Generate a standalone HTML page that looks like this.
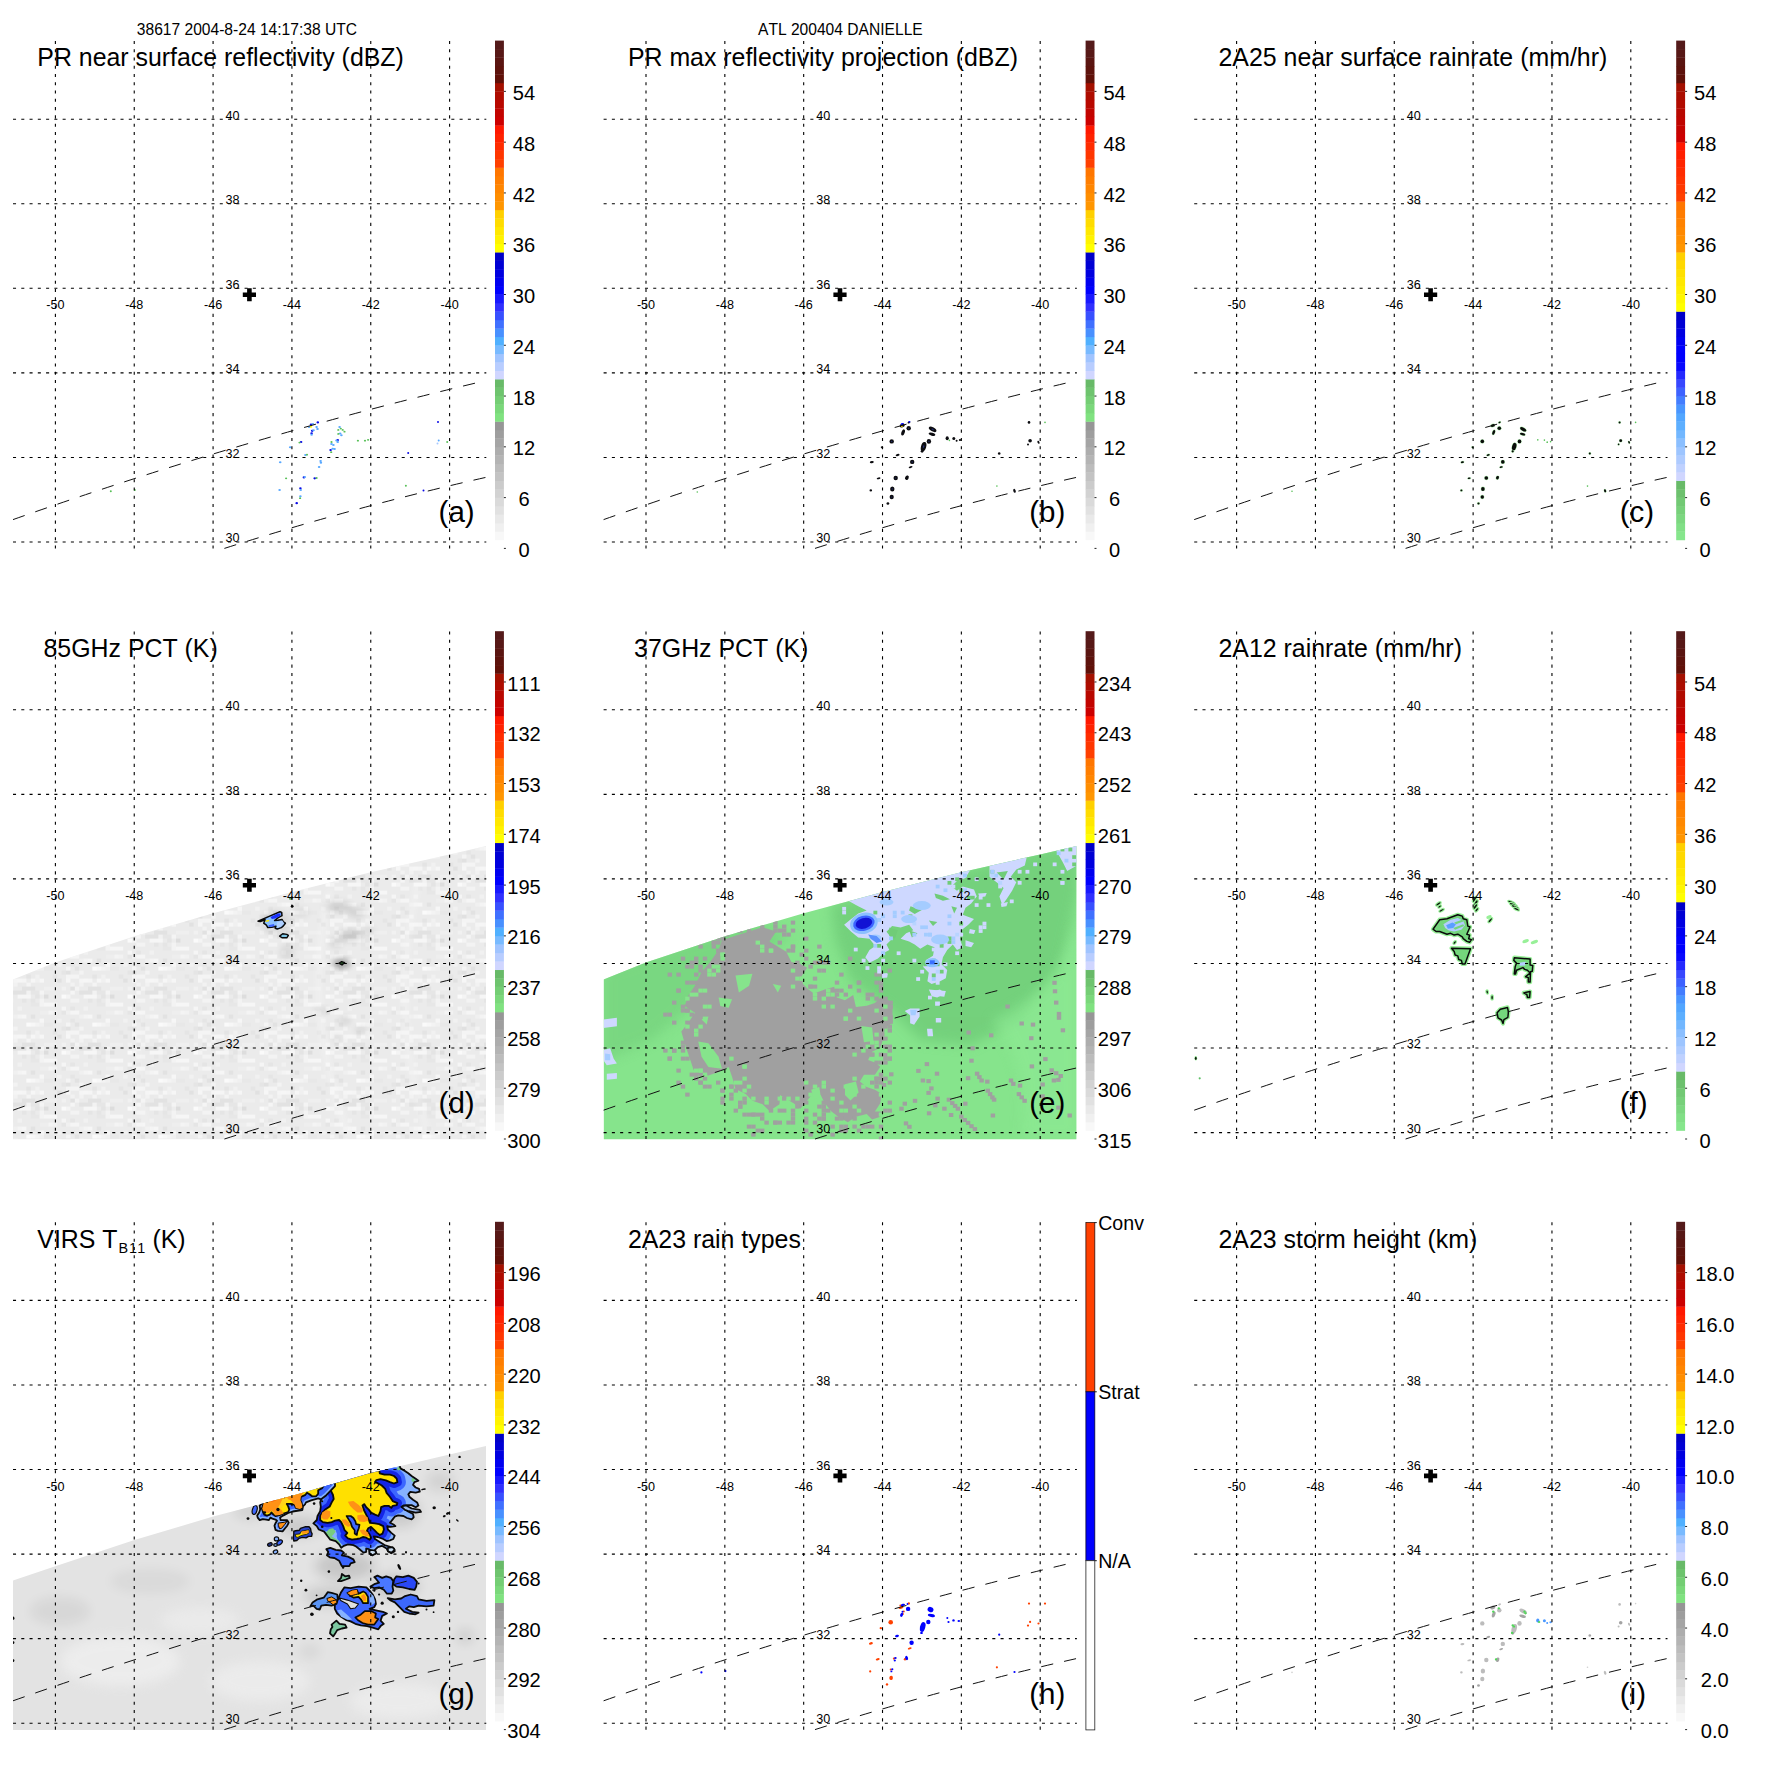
<!DOCTYPE html>
<html><head><meta charset="utf-8"><title>ATL 200404 DANIELLE</title>
<style>
html,body{margin:0;padding:0;background:#fff}
svg{display:block}
text{font-family:"Liberation Sans",sans-serif;fill:#000;font-kerning:none}
.tt{font-size:24.9px}
.st{font-size:15.6px}
.cb{font-size:20.1px}
.cb2{font-size:19.6px}
.gl{font-size:12.6px}
.lt{font-size:29.5px}
.gr{stroke:#000;stroke-width:1.1;stroke-dasharray:3.05 5.22;fill:none}
.sw{stroke:#111;stroke-width:1;stroke-dasharray:12.3 11.18;fill:none}
</style></head><body>
<svg width="1771" height="1771" viewBox="0 0 1771 1771">
<rect width="1771" height="1771" fill="#fff"/>
<g transform="translate(0.00 0.00)"><ellipse cx="311.0" cy="424.6" rx="1.3" ry="1.1" fill="#0a0ae6"/><ellipse cx="317.8" cy="422.4" rx="1.3" ry="1.1" fill="#0a0ae6"/><ellipse cx="312.2" cy="430.8" rx="1.3" ry="1.1" fill="#0a0ae6"/><ellipse cx="311.6" cy="433.3" rx="1.3" ry="1.1" fill="#0a0ae6"/><ellipse cx="301.1" cy="442.0" rx="1.3" ry="1.1" fill="#0a0ae6"/><ellipse cx="337.7" cy="440.1" rx="1.3" ry="1.1" fill="#0a0ae6"/><ellipse cx="330.6" cy="450.1" rx="1.3" ry="1.1" fill="#0a0ae6"/><ellipse cx="303.9" cy="477.4" rx="1.3" ry="1.1" fill="#0a0ae6"/><ellipse cx="314.7" cy="478.3" rx="1.3" ry="1.1" fill="#0a0ae6"/><ellipse cx="300.4" cy="488.3" rx="1.3" ry="1.1" fill="#0a0ae6"/><ellipse cx="296.7" cy="503.2" rx="1.3" ry="1.1" fill="#0a0ae6"/><ellipse cx="312.9" cy="424.0" rx="1.3" ry="1.0" fill="#58a8ff"/><ellipse cx="309.1" cy="427.1" rx="1.3" ry="1.0" fill="#58a8ff"/><ellipse cx="316.6" cy="427.1" rx="1.3" ry="1.0" fill="#58a8ff"/><ellipse cx="317.5" cy="428.9" rx="1.3" ry="1.0" fill="#58a8ff"/><ellipse cx="311.6" cy="434.8" rx="1.3" ry="1.0" fill="#58a8ff"/><ellipse cx="313.5" cy="430.2" rx="1.3" ry="1.0" fill="#58a8ff"/><ellipse cx="339.6" cy="427.1" rx="1.3" ry="1.0" fill="#58a8ff"/><ellipse cx="340.2" cy="433.6" rx="1.3" ry="1.0" fill="#58a8ff"/><ellipse cx="341.4" cy="435.2" rx="1.3" ry="1.0" fill="#58a8ff"/><ellipse cx="336.5" cy="440.4" rx="1.3" ry="1.0" fill="#58a8ff"/><ellipse cx="337.7" cy="442.0" rx="1.3" ry="1.0" fill="#58a8ff"/><ellipse cx="331.5" cy="443.9" rx="1.3" ry="1.0" fill="#58a8ff"/><ellipse cx="333.4" cy="445.1" rx="1.3" ry="1.0" fill="#58a8ff"/><ellipse cx="334.6" cy="449.1" rx="1.3" ry="1.0" fill="#58a8ff"/><ellipse cx="332.7" cy="448.8" rx="1.3" ry="1.0" fill="#58a8ff"/><ellipse cx="305.4" cy="455.0" rx="1.3" ry="1.0" fill="#58a8ff"/><ellipse cx="280.2" cy="462.2" rx="1.3" ry="1.0" fill="#58a8ff"/><ellipse cx="320.6" cy="460.9" rx="1.3" ry="1.0" fill="#58a8ff"/><ellipse cx="320.9" cy="462.8" rx="1.3" ry="1.0" fill="#58a8ff"/><ellipse cx="319.1" cy="467.1" rx="1.3" ry="1.0" fill="#58a8ff"/><ellipse cx="304.8" cy="477.1" rx="1.3" ry="1.0" fill="#58a8ff"/><ellipse cx="300.7" cy="490.1" rx="1.3" ry="1.0" fill="#58a8ff"/><ellipse cx="300.4" cy="496.3" rx="1.3" ry="1.0" fill="#58a8ff"/><ellipse cx="279.6" cy="490.1" rx="1.3" ry="1.0" fill="#58a8ff"/><ellipse cx="290.2" cy="447.3" rx="1.3" ry="1.0" fill="#58a8ff"/><ellipse cx="338.3" cy="429.9" rx="1.1" ry="0.9" fill="#58c058"/><ellipse cx="340.8" cy="428.6" rx="1.1" ry="0.9" fill="#58c058"/><ellipse cx="342.7" cy="429.9" rx="1.1" ry="0.9" fill="#58c058"/><ellipse cx="344.5" cy="431.7" rx="1.1" ry="0.9" fill="#58c058"/><ellipse cx="338.3" cy="433.9" rx="1.1" ry="0.9" fill="#58c058"/><ellipse cx="331.5" cy="442.0" rx="1.1" ry="0.9" fill="#58c058"/><ellipse cx="331.2" cy="452.2" rx="1.1" ry="0.9" fill="#58c058"/><ellipse cx="357.9" cy="440.7" rx="1.1" ry="0.9" fill="#58c058"/><ellipse cx="365.0" cy="440.7" rx="1.1" ry="0.9" fill="#58c058"/><ellipse cx="368.1" cy="439.8" rx="1.1" ry="0.9" fill="#58c058"/><ellipse cx="307.0" cy="454.7" rx="1.1" ry="0.9" fill="#58c058"/><ellipse cx="299.5" cy="442.6" rx="1.1" ry="0.9" fill="#58c058"/><ellipse cx="286.1" cy="478.3" rx="1.1" ry="0.9" fill="#58c058"/><ellipse cx="316.6" cy="478.0" rx="1.1" ry="0.9" fill="#58c058"/><ellipse cx="300.1" cy="498.2" rx="1.1" ry="0.9" fill="#58c058"/><ellipse cx="311.0" cy="426.8" rx="1.2" ry="0.9" fill="#ffff00"/><ellipse cx="438.0" cy="422.1" rx="1.0" ry="1.0" fill="#0a0ae6"/><ellipse cx="438.7" cy="440.4" rx="1.0" ry="1.0" fill="#58a8ff"/><ellipse cx="447.2" cy="442.1" rx="1.0" ry="1.0" fill="#58c058"/><ellipse cx="408.2" cy="453.0" rx="1.0" ry="1.0" fill="#0a0ae6"/><ellipse cx="405.9" cy="485.8" rx="1.0" ry="1.0" fill="#58c058"/><ellipse cx="423.5" cy="490.6" rx="1.0" ry="1.0" fill="#0a0ae6"/><ellipse cx="110.8" cy="491.2" rx="1.0" ry="1.0" fill="#58c058"/><ellipse cx="134.8" cy="489.9" rx="1.0" ry="1.0" fill="#58c058"/><ellipse cx="437.5" cy="443.5" rx="1.0" ry="1.0" fill="#a8c8ff"/></g>
<g transform="translate(0.00 0.00)"><path d="M55.40 40.93V548.90M134.24 40.93V548.90M213.08 40.93V548.90M291.92 40.93V548.90M370.76 40.93V548.90M449.60 40.93V548.90M13.00 542.00H486.30M13.00 457.44H486.30M13.00 372.88H486.30M13.00 288.32H486.30M13.00 203.76H486.30M13.00 119.20H486.30" class="gr"/><text x="55.40" y="309.4" text-anchor="middle" class="gl">-50</text><text x="134.24" y="309.4" text-anchor="middle" class="gl">-48</text><text x="213.08" y="309.4" text-anchor="middle" class="gl">-46</text><text x="291.92" y="309.4" text-anchor="middle" class="gl">-44</text><text x="370.76" y="309.4" text-anchor="middle" class="gl">-42</text><text x="449.60" y="309.4" text-anchor="middle" class="gl">-40</text><text x="232.6" y="542.30" text-anchor="middle" class="gl">30</text><text x="232.6" y="457.74" text-anchor="middle" class="gl">32</text><text x="232.6" y="373.18" text-anchor="middle" class="gl">34</text><text x="232.6" y="288.62" text-anchor="middle" class="gl">36</text><text x="232.6" y="204.06" text-anchor="middle" class="gl">38</text><text x="232.6" y="119.50" text-anchor="middle" class="gl">40</text></g>
<g transform="translate(0.00 0.00)"><rect x="495" y="531.47" width="8.9" height="8.76" fill="#f8f8f8"/><rect x="495" y="523.01" width="8.9" height="8.76" fill="#f0f0f0"/><rect x="495" y="514.55" width="8.9" height="8.76" fill="#e9e9e9"/><rect x="495" y="506.08" width="8.9" height="8.76" fill="#e1e1e1"/><rect x="495" y="497.62" width="8.9" height="8.76" fill="#dadada"/><rect x="495" y="489.16" width="8.9" height="8.76" fill="#d2d2d2"/><rect x="495" y="480.69" width="8.9" height="8.76" fill="#cbcbcb"/><rect x="495" y="472.23" width="8.9" height="8.76" fill="#c3c3c3"/><rect x="495" y="463.77" width="8.9" height="8.76" fill="#bcbcbc"/><rect x="495" y="455.30" width="8.9" height="8.76" fill="#b4b4b4"/><rect x="495" y="446.84" width="8.9" height="8.76" fill="#adadad"/><rect x="495" y="438.38" width="8.9" height="8.76" fill="#a5a5a5"/><rect x="495" y="429.91" width="8.9" height="8.76" fill="#9e9e9e"/><rect x="495" y="421.45" width="8.9" height="8.76" fill="#969696"/><rect x="495" y="412.99" width="8.9" height="8.76" fill="#80e280"/><rect x="495" y="404.52" width="8.9" height="8.76" fill="#7ad87a"/><rect x="495" y="396.06" width="8.9" height="8.76" fill="#74ce74"/><rect x="495" y="387.60" width="8.9" height="8.76" fill="#6ec46e"/><rect x="495" y="379.13" width="8.9" height="8.76" fill="#68ba68"/><rect x="495" y="370.67" width="8.9" height="8.76" fill="#d0d6ff"/><rect x="495" y="362.21" width="8.9" height="8.76" fill="#b8cdff"/><rect x="495" y="353.74" width="8.9" height="8.76" fill="#a0c4ff"/><rect x="495" y="345.28" width="8.9" height="8.76" fill="#78baff"/><rect x="495" y="336.82" width="8.9" height="8.76" fill="#50b0ff"/><rect x="495" y="328.35" width="8.9" height="8.76" fill="#4890ff"/><rect x="495" y="319.89" width="8.9" height="8.76" fill="#4070ff"/><rect x="495" y="311.43" width="8.9" height="8.76" fill="#3850ff"/><rect x="495" y="302.96" width="8.9" height="8.76" fill="#3030ff"/><rect x="495" y="294.50" width="8.9" height="8.76" fill="#1818ff"/><rect x="495" y="286.04" width="8.9" height="8.76" fill="#0000ff"/><rect x="495" y="277.57" width="8.9" height="8.76" fill="#0000f0"/><rect x="495" y="269.11" width="8.9" height="8.76" fill="#0000e0"/><rect x="495" y="260.65" width="8.9" height="8.76" fill="#0000d4"/><rect x="495" y="252.18" width="8.9" height="8.76" fill="#0000c8"/><rect x="495" y="243.72" width="8.9" height="8.76" fill="#ffff00"/><rect x="495" y="235.26" width="8.9" height="8.76" fill="#fff300"/><rect x="495" y="226.79" width="8.9" height="8.76" fill="#ffe800"/><rect x="495" y="218.33" width="8.9" height="8.76" fill="#ffdc00"/><rect x="495" y="209.87" width="8.9" height="8.76" fill="#ffd000"/><rect x="495" y="201.40" width="8.9" height="8.76" fill="#ff9600"/><rect x="495" y="192.94" width="8.9" height="8.76" fill="#ff8e00"/><rect x="495" y="184.48" width="8.9" height="8.76" fill="#ff8600"/><rect x="495" y="176.01" width="8.9" height="8.76" fill="#ff7e00"/><rect x="495" y="167.55" width="8.9" height="8.76" fill="#ff7600"/><rect x="495" y="159.09" width="8.9" height="8.76" fill="#ff4000"/><rect x="495" y="150.62" width="8.9" height="8.76" fill="#ff3600"/><rect x="495" y="142.16" width="8.9" height="8.76" fill="#ff2c00"/><rect x="495" y="133.70" width="8.9" height="8.76" fill="#ff2200"/><rect x="495" y="125.23" width="8.9" height="8.76" fill="#ff1800"/><rect x="495" y="116.77" width="8.9" height="8.76" fill="#cc0000"/><rect x="495" y="108.31" width="8.9" height="8.76" fill="#c20400"/><rect x="495" y="99.84" width="8.9" height="8.76" fill="#b80800"/><rect x="495" y="91.38" width="8.9" height="8.76" fill="#ae0c00"/><rect x="495" y="82.92" width="8.9" height="8.76" fill="#a41000"/><rect x="495" y="74.45" width="8.9" height="8.76" fill="#601008"/><rect x="495" y="65.99" width="8.9" height="8.76" fill="#5d120c"/><rect x="495" y="57.53" width="8.9" height="8.76" fill="#5a1511"/><rect x="495" y="49.06" width="8.9" height="8.76" fill="#571816"/><rect x="495" y="40.60" width="8.9" height="8.76" fill="#541a1a"/><path d="M503.9 548.40h2" stroke="#222" stroke-width="1"/><text x="524.0" y="557.00" text-anchor="middle" class="cb">0</text><path d="M503.9 497.62h2" stroke="#222" stroke-width="1"/><text x="524.0" y="506.22" text-anchor="middle" class="cb">6</text><path d="M503.9 446.84h2" stroke="#222" stroke-width="1"/><text x="524.0" y="455.44" text-anchor="middle" class="cb">12</text><path d="M503.9 396.06h2" stroke="#222" stroke-width="1"/><text x="524.0" y="404.66" text-anchor="middle" class="cb">18</text><path d="M503.9 345.28h2" stroke="#222" stroke-width="1"/><text x="524.0" y="353.88" text-anchor="middle" class="cb">24</text><path d="M503.9 294.50h2" stroke="#222" stroke-width="1"/><text x="524.0" y="303.10" text-anchor="middle" class="cb">30</text><path d="M503.9 243.72h2" stroke="#222" stroke-width="1"/><text x="524.0" y="252.32" text-anchor="middle" class="cb">36</text><path d="M503.9 192.94h2" stroke="#222" stroke-width="1"/><text x="524.0" y="201.54" text-anchor="middle" class="cb">42</text><path d="M503.9 142.16h2" stroke="#222" stroke-width="1"/><text x="524.0" y="150.76" text-anchor="middle" class="cb">48</text><path d="M503.9 91.38h2" stroke="#222" stroke-width="1"/><text x="524.0" y="99.98" text-anchor="middle" class="cb">54</text></g>
<g transform="translate(0.00 0.00)"><path d="M13 519.6Q245 437.8 477.1 382.7" class="sw"/><path d="M224.4 548.4Q355.3 506.8 486.2 477.3" class="sw"/><path d="M242.8 294.7h13.2M249.4 288.2v13" stroke="#000" stroke-width="4.6" fill="none"/><text x="37.3" y="66.4" class="tt">PR near surface reflectivity (dBZ)</text><text x="438.6" y="522.4" class="lt">(a)</text></g>
<g transform="translate(590.60 0.00)"><ellipse cx="311.6" cy="425.5" rx="2.6" ry="1.8" transform="rotate(-15 311.6 425.5)" fill="#0c0c10"/><ellipse cx="311.6" cy="425.5" rx="0.7" ry="0.5" transform="rotate(-15 311.6 425.5)" fill="#24307a"/><ellipse cx="318.4" cy="422.4" rx="1.5" ry="1.0" transform="rotate(-30 318.4 422.4)" fill="#0c0c10"/><ellipse cx="318.1" cy="428.3" rx="2.2" ry="2.2" fill="#0c0c10"/><ellipse cx="318.1" cy="428.3" rx="0.6" ry="0.6" fill="#24307a"/><ellipse cx="312.5" cy="432.4" rx="1.6" ry="3.2" transform="rotate(20 312.5 432.4)" fill="#0c0c10"/><ellipse cx="301.1" cy="441.4" rx="2.2" ry="2.2" fill="#0c0c10"/><ellipse cx="301.1" cy="441.4" rx="0.6" ry="0.6" fill="#24307a"/><ellipse cx="291.4" cy="447.3" rx="1.3" ry="1.0" transform="rotate(30 291.4 447.3)" fill="#0c0c10"/><ellipse cx="307.0" cy="455.0" rx="2.0" ry="1.1" transform="rotate(-15 307.0 455.0)" fill="#0c0c10"/><ellipse cx="281.2" cy="462.2" rx="2.0" ry="1.1" transform="rotate(-10 281.2 462.2)" fill="#0c0c10"/><ellipse cx="321.6" cy="461.9" rx="2.2" ry="2.2" fill="#0c0c10"/><ellipse cx="321.6" cy="461.9" rx="0.6" ry="0.6" fill="#24307a"/><ellipse cx="320.0" cy="467.1" rx="2.0" ry="1.0" transform="rotate(-15 320.0 467.1)" fill="#0c0c10"/><ellipse cx="288.0" cy="478.3" rx="1.9" ry="0.9" transform="rotate(-10 288.0 478.3)" fill="#0c0c10"/><ellipse cx="305.1" cy="478.0" rx="2.2" ry="2.2" fill="#0c0c10"/><ellipse cx="305.1" cy="478.0" rx="0.6" ry="0.6" fill="#24307a"/><ellipse cx="316.3" cy="477.7" rx="1.8" ry="2.3" transform="rotate(25 316.3 477.7)" fill="#0c0c10"/><ellipse cx="301.7" cy="488.9" rx="2.2" ry="2.5" fill="#0c0c10"/><ellipse cx="301.7" cy="488.9" rx="0.6" ry="0.7" fill="#24307a"/><ellipse cx="301.1" cy="497.0" rx="2.1" ry="2.2" fill="#0c0c10"/><ellipse cx="301.1" cy="497.0" rx="0.6" ry="0.6" fill="#24307a"/><ellipse cx="297.3" cy="503.5" rx="1.4" ry="1.3" fill="#0c0c10"/><ellipse cx="280.2" cy="490.4" rx="1.3" ry="1.1" fill="#0c0c10"/><ellipse cx="342.0" cy="429.3" rx="4.2" ry="2.0" transform="rotate(30 342.0 429.3)" fill="#0c0c10"/><ellipse cx="342.0" cy="429.3" rx="1.2" ry="0.6" transform="rotate(30 342.0 429.3)" fill="#24307a"/><ellipse cx="341.4" cy="434.2" rx="3.4" ry="1.5" transform="rotate(15 341.4 434.2)" fill="#0c0c10"/><ellipse cx="338.3" cy="441.4" rx="2.2" ry="2.4" fill="#0c0c10"/><ellipse cx="338.3" cy="441.4" rx="0.6" ry="0.7" fill="#24307a"/><ellipse cx="333.0" cy="446.6" rx="2.6" ry="4.8" transform="rotate(15 333.0 446.6)" fill="#0c0c10"/><ellipse cx="333.0" cy="446.6" rx="0.7" ry="1.3" transform="rotate(15 333.0 446.6)" fill="#24307a"/><ellipse cx="331.5" cy="451.3" rx="1.4" ry="1.4" fill="#0c0c10"/><ellipse cx="356.6" cy="438.3" rx="1.6" ry="2.0" fill="#0c0c10"/><ellipse cx="363.2" cy="438.6" rx="1.5" ry="1.5" fill="#0c0c10"/><ellipse cx="366.0" cy="440.7" rx="1.0" ry="1.0" fill="#0c0c10"/><ellipse cx="369.4" cy="440.1" rx="1.2" ry="1.0" fill="#0c0c10"/><ellipse cx="438.4" cy="422.4" rx="1.3" ry="1.3" fill="#0c0c10"/><ellipse cx="439.5" cy="440.7" rx="1.8" ry="1.8" fill="#0c0c10"/><ellipse cx="437.4" cy="444.4" rx="1.0" ry="1.0" fill="#0c0c10"/><ellipse cx="447.9" cy="442.3" rx="1.0" ry="1.6" transform="rotate(-25 447.9 442.3)" fill="#0c0c10"/><ellipse cx="408.6" cy="453.5" rx="1.3" ry="1.3" fill="#0c0c10"/><ellipse cx="423.9" cy="490.8" rx="1.2" ry="2.0" transform="rotate(-20 423.9 490.8)" fill="#0c0c10"/><ellipse cx="311.7" cy="423.8" rx="1.7" ry="0.7" transform="rotate(-15 311.7 423.8)" fill="#0a0aff"/><ellipse cx="311.3" cy="426.5" rx="0.9" ry="0.7" fill="#ffe000"/><ellipse cx="318.8" cy="421.8" rx="1.0" ry="0.8" transform="rotate(-30 318.8 421.8)" fill="#0a0aff"/><ellipse cx="454.4" cy="422.4" rx="0.8" ry="0.8" fill="#58c058"/><ellipse cx="406.3" cy="486.1" rx="0.8" ry="0.8" fill="#58c058"/><ellipse cx="106.7" cy="492.0" rx="0.8" ry="0.8" fill="#58c058"/><ellipse cx="358.8" cy="440.4" rx="0.8" ry="0.8" fill="#58c058"/></g>
<g transform="translate(590.60 0.00)"><path d="M55.40 40.93V548.90M134.24 40.93V548.90M213.08 40.93V548.90M291.92 40.93V548.90M370.76 40.93V548.90M449.60 40.93V548.90M13.00 542.00H486.30M13.00 457.44H486.30M13.00 372.88H486.30M13.00 288.32H486.30M13.00 203.76H486.30M13.00 119.20H486.30" class="gr"/><text x="55.40" y="309.4" text-anchor="middle" class="gl">-50</text><text x="134.24" y="309.4" text-anchor="middle" class="gl">-48</text><text x="213.08" y="309.4" text-anchor="middle" class="gl">-46</text><text x="291.92" y="309.4" text-anchor="middle" class="gl">-44</text><text x="370.76" y="309.4" text-anchor="middle" class="gl">-42</text><text x="449.60" y="309.4" text-anchor="middle" class="gl">-40</text><text x="232.6" y="542.30" text-anchor="middle" class="gl">30</text><text x="232.6" y="457.74" text-anchor="middle" class="gl">32</text><text x="232.6" y="373.18" text-anchor="middle" class="gl">34</text><text x="232.6" y="288.62" text-anchor="middle" class="gl">36</text><text x="232.6" y="204.06" text-anchor="middle" class="gl">38</text><text x="232.6" y="119.50" text-anchor="middle" class="gl">40</text></g>
<g transform="translate(590.60 0.00)"><rect x="495" y="531.47" width="8.9" height="8.76" fill="#f8f8f8"/><rect x="495" y="523.01" width="8.9" height="8.76" fill="#f0f0f0"/><rect x="495" y="514.55" width="8.9" height="8.76" fill="#e9e9e9"/><rect x="495" y="506.08" width="8.9" height="8.76" fill="#e1e1e1"/><rect x="495" y="497.62" width="8.9" height="8.76" fill="#dadada"/><rect x="495" y="489.16" width="8.9" height="8.76" fill="#d2d2d2"/><rect x="495" y="480.69" width="8.9" height="8.76" fill="#cbcbcb"/><rect x="495" y="472.23" width="8.9" height="8.76" fill="#c3c3c3"/><rect x="495" y="463.77" width="8.9" height="8.76" fill="#bcbcbc"/><rect x="495" y="455.30" width="8.9" height="8.76" fill="#b4b4b4"/><rect x="495" y="446.84" width="8.9" height="8.76" fill="#adadad"/><rect x="495" y="438.38" width="8.9" height="8.76" fill="#a5a5a5"/><rect x="495" y="429.91" width="8.9" height="8.76" fill="#9e9e9e"/><rect x="495" y="421.45" width="8.9" height="8.76" fill="#969696"/><rect x="495" y="412.99" width="8.9" height="8.76" fill="#80e280"/><rect x="495" y="404.52" width="8.9" height="8.76" fill="#7ad87a"/><rect x="495" y="396.06" width="8.9" height="8.76" fill="#74ce74"/><rect x="495" y="387.60" width="8.9" height="8.76" fill="#6ec46e"/><rect x="495" y="379.13" width="8.9" height="8.76" fill="#68ba68"/><rect x="495" y="370.67" width="8.9" height="8.76" fill="#d0d6ff"/><rect x="495" y="362.21" width="8.9" height="8.76" fill="#b8cdff"/><rect x="495" y="353.74" width="8.9" height="8.76" fill="#a0c4ff"/><rect x="495" y="345.28" width="8.9" height="8.76" fill="#78baff"/><rect x="495" y="336.82" width="8.9" height="8.76" fill="#50b0ff"/><rect x="495" y="328.35" width="8.9" height="8.76" fill="#4890ff"/><rect x="495" y="319.89" width="8.9" height="8.76" fill="#4070ff"/><rect x="495" y="311.43" width="8.9" height="8.76" fill="#3850ff"/><rect x="495" y="302.96" width="8.9" height="8.76" fill="#3030ff"/><rect x="495" y="294.50" width="8.9" height="8.76" fill="#1818ff"/><rect x="495" y="286.04" width="8.9" height="8.76" fill="#0000ff"/><rect x="495" y="277.57" width="8.9" height="8.76" fill="#0000f0"/><rect x="495" y="269.11" width="8.9" height="8.76" fill="#0000e0"/><rect x="495" y="260.65" width="8.9" height="8.76" fill="#0000d4"/><rect x="495" y="252.18" width="8.9" height="8.76" fill="#0000c8"/><rect x="495" y="243.72" width="8.9" height="8.76" fill="#ffff00"/><rect x="495" y="235.26" width="8.9" height="8.76" fill="#fff300"/><rect x="495" y="226.79" width="8.9" height="8.76" fill="#ffe800"/><rect x="495" y="218.33" width="8.9" height="8.76" fill="#ffdc00"/><rect x="495" y="209.87" width="8.9" height="8.76" fill="#ffd000"/><rect x="495" y="201.40" width="8.9" height="8.76" fill="#ff9600"/><rect x="495" y="192.94" width="8.9" height="8.76" fill="#ff8e00"/><rect x="495" y="184.48" width="8.9" height="8.76" fill="#ff8600"/><rect x="495" y="176.01" width="8.9" height="8.76" fill="#ff7e00"/><rect x="495" y="167.55" width="8.9" height="8.76" fill="#ff7600"/><rect x="495" y="159.09" width="8.9" height="8.76" fill="#ff4000"/><rect x="495" y="150.62" width="8.9" height="8.76" fill="#ff3600"/><rect x="495" y="142.16" width="8.9" height="8.76" fill="#ff2c00"/><rect x="495" y="133.70" width="8.9" height="8.76" fill="#ff2200"/><rect x="495" y="125.23" width="8.9" height="8.76" fill="#ff1800"/><rect x="495" y="116.77" width="8.9" height="8.76" fill="#cc0000"/><rect x="495" y="108.31" width="8.9" height="8.76" fill="#c20400"/><rect x="495" y="99.84" width="8.9" height="8.76" fill="#b80800"/><rect x="495" y="91.38" width="8.9" height="8.76" fill="#ae0c00"/><rect x="495" y="82.92" width="8.9" height="8.76" fill="#a41000"/><rect x="495" y="74.45" width="8.9" height="8.76" fill="#601008"/><rect x="495" y="65.99" width="8.9" height="8.76" fill="#5d120c"/><rect x="495" y="57.53" width="8.9" height="8.76" fill="#5a1511"/><rect x="495" y="49.06" width="8.9" height="8.76" fill="#571816"/><rect x="495" y="40.60" width="8.9" height="8.76" fill="#541a1a"/><path d="M503.9 548.40h2" stroke="#222" stroke-width="1"/><text x="524.0" y="557.00" text-anchor="middle" class="cb">0</text><path d="M503.9 497.62h2" stroke="#222" stroke-width="1"/><text x="524.0" y="506.22" text-anchor="middle" class="cb">6</text><path d="M503.9 446.84h2" stroke="#222" stroke-width="1"/><text x="524.0" y="455.44" text-anchor="middle" class="cb">12</text><path d="M503.9 396.06h2" stroke="#222" stroke-width="1"/><text x="524.0" y="404.66" text-anchor="middle" class="cb">18</text><path d="M503.9 345.28h2" stroke="#222" stroke-width="1"/><text x="524.0" y="353.88" text-anchor="middle" class="cb">24</text><path d="M503.9 294.50h2" stroke="#222" stroke-width="1"/><text x="524.0" y="303.10" text-anchor="middle" class="cb">30</text><path d="M503.9 243.72h2" stroke="#222" stroke-width="1"/><text x="524.0" y="252.32" text-anchor="middle" class="cb">36</text><path d="M503.9 192.94h2" stroke="#222" stroke-width="1"/><text x="524.0" y="201.54" text-anchor="middle" class="cb">42</text><path d="M503.9 142.16h2" stroke="#222" stroke-width="1"/><text x="524.0" y="150.76" text-anchor="middle" class="cb">48</text><path d="M503.9 91.38h2" stroke="#222" stroke-width="1"/><text x="524.0" y="99.98" text-anchor="middle" class="cb">54</text></g>
<g transform="translate(590.60 0.00)"><path d="M13 519.6Q245 437.8 477.1 382.7" class="sw"/><path d="M224.4 548.4Q355.3 506.8 486.2 477.3" class="sw"/><path d="M242.8 294.7h13.2M249.4 288.2v13" stroke="#000" stroke-width="4.6" fill="none"/><text x="37.3" y="66.4" class="tt">PR max reflectivity projection (dBZ)</text><text x="438.6" y="522.4" class="lt">(b)</text></g>
<g transform="translate(1181.20 0.00)"><ellipse cx="311.6" cy="425.5" rx="2.5" ry="1.8" transform="rotate(-15 311.6 425.5)" fill="#b0ecb0"/><ellipse cx="311.6" cy="425.5" rx="2.1" ry="1.4" transform="rotate(-15 311.6 425.5)" fill="#0a0c0a"/><ellipse cx="318.4" cy="422.4" rx="1.6" ry="1.2" transform="rotate(-30 318.4 422.4)" fill="#b0ecb0"/><ellipse cx="318.4" cy="422.4" rx="1.2" ry="0.8" transform="rotate(-30 318.4 422.4)" fill="#0a0c0a"/><ellipse cx="318.1" cy="428.3" rx="2.2" ry="2.2" fill="#b0ecb0"/><ellipse cx="318.1" cy="428.3" rx="1.8" ry="1.8" fill="#0a0c0a"/><ellipse cx="312.5" cy="432.4" rx="1.7" ry="3.0" transform="rotate(20 312.5 432.4)" fill="#b0ecb0"/><ellipse cx="312.5" cy="432.4" rx="1.3" ry="2.6" transform="rotate(20 312.5 432.4)" fill="#0a0c0a"/><ellipse cx="301.1" cy="441.4" rx="2.2" ry="2.2" fill="#b0ecb0"/><ellipse cx="301.1" cy="441.4" rx="1.8" ry="1.8" fill="#0a0c0a"/><ellipse cx="291.4" cy="447.3" rx="1.4" ry="1.2" transform="rotate(30 291.4 447.3)" fill="#b0ecb0"/><ellipse cx="291.4" cy="447.3" rx="1.0" ry="0.8" transform="rotate(30 291.4 447.3)" fill="#0a0c0a"/><ellipse cx="307.0" cy="455.0" rx="2.0" ry="1.3" transform="rotate(-15 307.0 455.0)" fill="#b0ecb0"/><ellipse cx="307.0" cy="455.0" rx="1.6" ry="0.9" transform="rotate(-15 307.0 455.0)" fill="#0a0c0a"/><ellipse cx="281.2" cy="462.2" rx="2.0" ry="1.3" transform="rotate(-10 281.2 462.2)" fill="#b0ecb0"/><ellipse cx="281.2" cy="462.2" rx="1.6" ry="0.9" transform="rotate(-10 281.2 462.2)" fill="#0a0c0a"/><ellipse cx="321.6" cy="461.9" rx="2.2" ry="2.2" fill="#b0ecb0"/><ellipse cx="321.6" cy="461.9" rx="1.8" ry="1.8" fill="#0a0c0a"/><ellipse cx="320.0" cy="467.1" rx="2.0" ry="1.2" transform="rotate(-15 320.0 467.1)" fill="#b0ecb0"/><ellipse cx="320.0" cy="467.1" rx="1.6" ry="0.8" transform="rotate(-15 320.0 467.1)" fill="#0a0c0a"/><ellipse cx="288.0" cy="478.3" rx="1.9" ry="1.1" transform="rotate(-10 288.0 478.3)" fill="#b0ecb0"/><ellipse cx="288.0" cy="478.3" rx="1.5" ry="0.7" transform="rotate(-10 288.0 478.3)" fill="#0a0c0a"/><ellipse cx="305.1" cy="478.0" rx="2.2" ry="2.2" fill="#b0ecb0"/><ellipse cx="305.1" cy="478.0" rx="1.8" ry="1.8" fill="#0a0c0a"/><ellipse cx="316.3" cy="477.7" rx="1.8" ry="2.2" transform="rotate(25 316.3 477.7)" fill="#b0ecb0"/><ellipse cx="316.3" cy="477.7" rx="1.4" ry="1.8" transform="rotate(25 316.3 477.7)" fill="#0a0c0a"/><ellipse cx="301.7" cy="488.9" rx="2.2" ry="2.4" fill="#b0ecb0"/><ellipse cx="301.7" cy="488.9" rx="1.8" ry="2.0" fill="#0a0c0a"/><ellipse cx="301.1" cy="497.0" rx="2.1" ry="2.2" fill="#b0ecb0"/><ellipse cx="301.1" cy="497.0" rx="1.7" ry="1.8" fill="#0a0c0a"/><ellipse cx="297.3" cy="503.5" rx="1.5" ry="1.4" fill="#b0ecb0"/><ellipse cx="297.3" cy="503.5" rx="1.1" ry="1.0" fill="#0a0c0a"/><ellipse cx="280.2" cy="490.4" rx="1.4" ry="1.3" fill="#b0ecb0"/><ellipse cx="280.2" cy="490.4" rx="1.0" ry="0.9" fill="#0a0c0a"/><ellipse cx="342.0" cy="429.3" rx="3.8" ry="2.0" transform="rotate(30 342.0 429.3)" fill="#b0ecb0"/><ellipse cx="342.0" cy="429.3" rx="3.4" ry="1.6" transform="rotate(30 342.0 429.3)" fill="#0a0c0a"/><ellipse cx="341.4" cy="434.2" rx="3.1" ry="1.6" transform="rotate(15 341.4 434.2)" fill="#b0ecb0"/><ellipse cx="341.4" cy="434.2" rx="2.7" ry="1.2" transform="rotate(15 341.4 434.2)" fill="#0a0c0a"/><ellipse cx="338.3" cy="441.4" rx="2.2" ry="2.3" fill="#b0ecb0"/><ellipse cx="338.3" cy="441.4" rx="1.8" ry="1.9" fill="#0a0c0a"/><ellipse cx="333.0" cy="446.6" rx="2.5" ry="4.2" transform="rotate(15 333.0 446.6)" fill="#b0ecb0"/><ellipse cx="333.0" cy="446.6" rx="2.1" ry="3.8" transform="rotate(15 333.0 446.6)" fill="#0a0c0a"/><ellipse cx="331.5" cy="451.3" rx="1.5" ry="1.5" fill="#b0ecb0"/><ellipse cx="331.5" cy="451.3" rx="1.1" ry="1.1" fill="#0a0c0a"/><ellipse cx="356.6" cy="439.8" rx="0.8" ry="0.9" fill="#58c058"/><ellipse cx="363.2" cy="440.1" rx="0.8" ry="0.9" fill="#58c058"/><ellipse cx="366.0" cy="442.2" rx="0.8" ry="0.9" fill="#58c058"/><ellipse cx="369.4" cy="441.6" rx="0.8" ry="0.9" fill="#58c058"/><ellipse cx="438.4" cy="422.4" rx="1.4" ry="1.4" fill="#b0ecb0"/><ellipse cx="438.4" cy="422.4" rx="1.0" ry="1.0" fill="#0a0c0a"/><ellipse cx="439.5" cy="440.7" rx="1.8" ry="1.8" fill="#b0ecb0"/><ellipse cx="439.5" cy="440.7" rx="1.4" ry="1.4" fill="#0a0c0a"/><ellipse cx="437.4" cy="444.4" rx="1.2" ry="1.2" fill="#b0ecb0"/><ellipse cx="437.4" cy="444.4" rx="0.8" ry="0.8" fill="#0a0c0a"/><ellipse cx="447.9" cy="442.3" rx="1.2" ry="1.7" transform="rotate(-25 447.9 442.3)" fill="#b0ecb0"/><ellipse cx="447.9" cy="442.3" rx="0.8" ry="1.3" transform="rotate(-25 447.9 442.3)" fill="#0a0c0a"/><ellipse cx="408.6" cy="453.5" rx="1.4" ry="1.4" fill="#b0ecb0"/><ellipse cx="408.6" cy="453.5" rx="1.0" ry="1.0" fill="#0a0c0a"/><ellipse cx="423.9" cy="490.8" rx="1.4" ry="2.0" transform="rotate(-20 423.9 490.8)" fill="#b0ecb0"/><ellipse cx="423.9" cy="490.8" rx="1.0" ry="1.6" transform="rotate(-20 423.9 490.8)" fill="#0a0c0a"/><ellipse cx="454.4" cy="422.4" rx="0.8" ry="0.8" fill="#58c058"/><ellipse cx="406.3" cy="486.1" rx="0.8" ry="0.8" fill="#58c058"/><ellipse cx="110.8" cy="491.2" rx="0.8" ry="0.8" fill="#58c058"/><ellipse cx="134.8" cy="489.9" rx="0.8" ry="0.8" fill="#58c058"/></g>
<g transform="translate(1181.20 0.00)"><path d="M55.40 40.93V548.90M134.24 40.93V548.90M213.08 40.93V548.90M291.92 40.93V548.90M370.76 40.93V548.90M449.60 40.93V548.90M13.00 542.00H486.30M13.00 457.44H486.30M13.00 372.88H486.30M13.00 288.32H486.30M13.00 203.76H486.30M13.00 119.20H486.30" class="gr"/><text x="55.40" y="309.4" text-anchor="middle" class="gl">-50</text><text x="134.24" y="309.4" text-anchor="middle" class="gl">-48</text><text x="213.08" y="309.4" text-anchor="middle" class="gl">-46</text><text x="291.92" y="309.4" text-anchor="middle" class="gl">-44</text><text x="370.76" y="309.4" text-anchor="middle" class="gl">-42</text><text x="449.60" y="309.4" text-anchor="middle" class="gl">-40</text><text x="232.6" y="542.30" text-anchor="middle" class="gl">30</text><text x="232.6" y="457.74" text-anchor="middle" class="gl">32</text><text x="232.6" y="373.18" text-anchor="middle" class="gl">34</text><text x="232.6" y="288.62" text-anchor="middle" class="gl">36</text><text x="232.6" y="204.06" text-anchor="middle" class="gl">38</text><text x="232.6" y="119.50" text-anchor="middle" class="gl">40</text></g>
<g transform="translate(1181.20 0.00)"><rect x="495" y="531.47" width="8.9" height="8.76" fill="#86e68c"/><rect x="495" y="523.01" width="8.9" height="8.76" fill="#81df86"/><rect x="495" y="514.55" width="8.9" height="8.76" fill="#7cd780"/><rect x="495" y="506.08" width="8.9" height="8.76" fill="#77d07a"/><rect x="495" y="497.62" width="8.9" height="8.76" fill="#72c974"/><rect x="495" y="489.16" width="8.9" height="8.76" fill="#6dc16e"/><rect x="495" y="480.69" width="8.9" height="8.76" fill="#68ba68"/><rect x="495" y="472.23" width="8.9" height="8.76" fill="#d0d6ff"/><rect x="495" y="463.77" width="8.9" height="8.76" fill="#bfd1ff"/><rect x="495" y="455.30" width="8.9" height="8.76" fill="#aecbff"/><rect x="495" y="446.84" width="8.9" height="8.76" fill="#9dc5ff"/><rect x="495" y="438.38" width="8.9" height="8.76" fill="#8bbfff"/><rect x="495" y="429.91" width="8.9" height="8.76" fill="#72b7ff"/><rect x="495" y="421.45" width="8.9" height="8.76" fill="#5dafff"/><rect x="495" y="412.99" width="8.9" height="8.76" fill="#52a6ff"/><rect x="495" y="404.52" width="8.9" height="8.76" fill="#4996ff"/><rect x="495" y="396.06" width="8.9" height="8.76" fill="#437dff"/><rect x="495" y="387.60" width="8.9" height="8.76" fill="#3d62ff"/><rect x="495" y="379.13" width="8.9" height="8.76" fill="#3747ff"/><rect x="495" y="370.67" width="8.9" height="8.76" fill="#2429ff"/><rect x="495" y="362.21" width="8.9" height="8.76" fill="#0809ff"/><rect x="495" y="353.74" width="8.9" height="8.76" fill="#0000ff"/><rect x="495" y="345.28" width="8.9" height="8.76" fill="#0000ff"/><rect x="495" y="336.82" width="8.9" height="8.76" fill="#0000f2"/><rect x="495" y="328.35" width="8.9" height="8.76" fill="#0000e2"/><rect x="495" y="319.89" width="8.9" height="8.76" fill="#0000d5"/><rect x="495" y="311.43" width="8.9" height="8.76" fill="#0000c8"/><rect x="495" y="302.96" width="8.9" height="8.76" fill="#ffff00"/><rect x="495" y="294.50" width="8.9" height="8.76" fill="#fff700"/><rect x="495" y="286.04" width="8.9" height="8.76" fill="#ffef00"/><rect x="495" y="277.57" width="8.9" height="8.76" fill="#ffe800"/><rect x="495" y="269.11" width="8.9" height="8.76" fill="#ffe000"/><rect x="495" y="260.65" width="8.9" height="8.76" fill="#ffd800"/><rect x="495" y="252.18" width="8.9" height="8.76" fill="#ffd000"/><rect x="495" y="243.72" width="8.9" height="8.76" fill="#ff9600"/><rect x="495" y="235.26" width="8.9" height="8.76" fill="#ff9000"/><rect x="495" y="226.79" width="8.9" height="8.76" fill="#ff8900"/><rect x="495" y="218.33" width="8.9" height="8.76" fill="#ff8300"/><rect x="495" y="209.87" width="8.9" height="8.76" fill="#ff7c00"/><rect x="495" y="201.40" width="8.9" height="8.76" fill="#ff7600"/><rect x="495" y="192.94" width="8.9" height="8.76" fill="#ff4000"/><rect x="495" y="184.48" width="8.9" height="8.76" fill="#ff3900"/><rect x="495" y="176.01" width="8.9" height="8.76" fill="#ff3300"/><rect x="495" y="167.55" width="8.9" height="8.76" fill="#ff2c00"/><rect x="495" y="159.09" width="8.9" height="8.76" fill="#ff2500"/><rect x="495" y="150.62" width="8.9" height="8.76" fill="#ff1f00"/><rect x="495" y="142.16" width="8.9" height="8.76" fill="#ff1800"/><rect x="495" y="133.70" width="8.9" height="8.76" fill="#cc0000"/><rect x="495" y="125.23" width="8.9" height="8.76" fill="#c50300"/><rect x="495" y="116.77" width="8.9" height="8.76" fill="#bf0500"/><rect x="495" y="108.31" width="8.9" height="8.76" fill="#b80800"/><rect x="495" y="99.84" width="8.9" height="8.76" fill="#b10b00"/><rect x="495" y="91.38" width="8.9" height="8.76" fill="#ab0d00"/><rect x="495" y="82.92" width="8.9" height="8.76" fill="#a41000"/><rect x="495" y="74.45" width="8.9" height="8.76" fill="#601008"/><rect x="495" y="65.99" width="8.9" height="8.76" fill="#5d120c"/><rect x="495" y="57.53" width="8.9" height="8.76" fill="#5a1511"/><rect x="495" y="49.06" width="8.9" height="8.76" fill="#571816"/><rect x="495" y="40.60" width="8.9" height="8.76" fill="#541a1a"/><path d="M503.9 548.40h2" stroke="#222" stroke-width="1"/><text x="524.0" y="557.00" text-anchor="middle" class="cb">0</text><path d="M503.9 497.62h2" stroke="#222" stroke-width="1"/><text x="524.0" y="506.22" text-anchor="middle" class="cb">6</text><path d="M503.9 446.84h2" stroke="#222" stroke-width="1"/><text x="524.0" y="455.44" text-anchor="middle" class="cb">12</text><path d="M503.9 396.06h2" stroke="#222" stroke-width="1"/><text x="524.0" y="404.66" text-anchor="middle" class="cb">18</text><path d="M503.9 345.28h2" stroke="#222" stroke-width="1"/><text x="524.0" y="353.88" text-anchor="middle" class="cb">24</text><path d="M503.9 294.50h2" stroke="#222" stroke-width="1"/><text x="524.0" y="303.10" text-anchor="middle" class="cb">30</text><path d="M503.9 243.72h2" stroke="#222" stroke-width="1"/><text x="524.0" y="252.32" text-anchor="middle" class="cb">36</text><path d="M503.9 192.94h2" stroke="#222" stroke-width="1"/><text x="524.0" y="201.54" text-anchor="middle" class="cb">42</text><path d="M503.9 142.16h2" stroke="#222" stroke-width="1"/><text x="524.0" y="150.76" text-anchor="middle" class="cb">48</text><path d="M503.9 91.38h2" stroke="#222" stroke-width="1"/><text x="524.0" y="99.98" text-anchor="middle" class="cb">54</text></g>
<g transform="translate(1181.20 0.00)"><path d="M13 519.6Q245 437.8 477.1 382.7" class="sw"/><path d="M224.4 548.4Q355.3 506.8 486.2 477.3" class="sw"/><path d="M242.8 294.7h13.2M249.4 288.2v13" stroke="#000" stroke-width="4.6" fill="none"/><text x="37.3" y="66.4" class="tt">2A25 near surface rainrate (mm/hr)</text><text x="438.6" y="522.4" class="lt">(c)</text></g>
<g transform="translate(0.00 590.60)"><clipPath id="cd"><path d="M13.0 388.9L55.3 372.0L134.4 345.7L213.2 322.6L292.2 301.4L370.7 281.6L449.5 263.8L486.0 255.4L486.0 548.8L13.0 548.8Z"/></clipPath><pattern id="pd" width="66" height="56" patternUnits="userSpaceOnUse"><rect x="30.8" y="52.0" width="13.2" height="4" fill="#fff" opacity="0.55"/><rect x="13.2" y="8.0" width="13.2" height="4" fill="#000" opacity="0.039"/><rect x="4.4" y="28.0" width="8.8" height="4" fill="#fff" opacity="0.44"/><rect x="61.6" y="44.0" width="4.4" height="4" fill="#000" opacity="0.027"/><rect x="30.8" y="40.0" width="4.4" height="4" fill="#000" opacity="0.040"/><rect x="4.4" y="0.0" width="4.4" height="4" fill="#fff" opacity="0.33"/><rect x="0.0" y="48.0" width="13.2" height="4" fill="#fff" opacity="0.46"/><rect x="13.2" y="32.0" width="4.4" height="4" fill="#000" opacity="0.030"/><rect x="44.0" y="4.0" width="13.2" height="4" fill="#000" opacity="0.027"/><rect x="35.2" y="52.0" width="4.4" height="4" fill="#000" opacity="0.024"/><rect x="13.2" y="32.0" width="8.8" height="4" fill="#fff" opacity="0.45"/><rect x="4.4" y="24.0" width="4.4" height="4" fill="#000" opacity="0.027"/><rect x="0.0" y="52.0" width="4.4" height="4" fill="#fff" opacity="0.57"/><rect x="0.0" y="28.0" width="13.2" height="4" fill="#000" opacity="0.027"/><rect x="4.4" y="36.0" width="4.4" height="4" fill="#000" opacity="0.023"/><rect x="4.4" y="16.0" width="8.8" height="4" fill="#fff" opacity="0.39"/><rect x="61.6" y="4.0" width="4.4" height="4" fill="#fff" opacity="0.29"/><rect x="0.0" y="28.0" width="13.2" height="4" fill="#fff" opacity="0.45"/><rect x="30.8" y="32.0" width="4.4" height="4" fill="#000" opacity="0.038"/><rect x="26.4" y="40.0" width="13.2" height="4" fill="#fff" opacity="0.40"/><rect x="13.2" y="0.0" width="8.8" height="4" fill="#000" opacity="0.044"/><rect x="39.6" y="16.0" width="4.4" height="4" fill="#fff" opacity="0.39"/><rect x="57.2" y="36.0" width="4.4" height="4" fill="#fff" opacity="0.30"/><rect x="30.8" y="16.0" width="4.4" height="4" fill="#000" opacity="0.025"/><rect x="17.6" y="24.0" width="4.4" height="4" fill="#fff" opacity="0.32"/><rect x="44.0" y="12.0" width="4.4" height="4" fill="#000" opacity="0.026"/><rect x="30.8" y="8.0" width="13.2" height="4" fill="#000" opacity="0.019"/><rect x="26.4" y="8.0" width="4.4" height="4" fill="#fff" opacity="0.33"/><rect x="39.6" y="12.0" width="4.4" height="4" fill="#fff" opacity="0.47"/><rect x="35.2" y="12.0" width="13.2" height="4" fill="#000" opacity="0.033"/><rect x="26.4" y="0.0" width="4.4" height="4" fill="#fff" opacity="0.43"/><rect x="17.6" y="12.0" width="13.2" height="4" fill="#fff" opacity="0.54"/><rect x="39.6" y="28.0" width="8.8" height="4" fill="#000" opacity="0.043"/><rect x="4.4" y="8.0" width="4.4" height="4" fill="#fff" opacity="0.48"/><rect x="39.6" y="36.0" width="4.4" height="4" fill="#fff" opacity="0.57"/><rect x="13.2" y="44.0" width="4.4" height="4" fill="#fff" opacity="0.39"/><rect x="13.2" y="0.0" width="4.4" height="4" fill="#fff" opacity="0.38"/><rect x="39.6" y="8.0" width="4.4" height="4" fill="#fff" opacity="0.56"/><rect x="22.0" y="40.0" width="4.4" height="4" fill="#000" opacity="0.043"/><rect x="30.8" y="20.0" width="8.8" height="4" fill="#000" opacity="0.016"/><rect x="44.0" y="4.0" width="13.2" height="4" fill="#fff" opacity="0.36"/><rect x="8.8" y="4.0" width="4.4" height="4" fill="#fff" opacity="0.38"/><rect x="0.0" y="44.0" width="4.4" height="4" fill="#000" opacity="0.042"/><rect x="22.0" y="4.0" width="13.2" height="4" fill="#000" opacity="0.041"/><rect x="26.4" y="48.0" width="4.4" height="4" fill="#000" opacity="0.032"/><rect x="39.6" y="40.0" width="13.2" height="4" fill="#fff" opacity="0.25"/><rect x="4.4" y="4.0" width="4.4" height="4" fill="#000" opacity="0.045"/><rect x="61.6" y="24.0" width="8.8" height="4" fill="#fff" opacity="0.51"/><rect x="39.6" y="28.0" width="13.2" height="4" fill="#fff" opacity="0.44"/><rect x="35.2" y="48.0" width="4.4" height="4" fill="#fff" opacity="0.28"/><rect x="0.0" y="12.0" width="4.4" height="4" fill="#fff" opacity="0.47"/><rect x="61.6" y="28.0" width="8.8" height="4" fill="#000" opacity="0.026"/><rect x="8.8" y="40.0" width="4.4" height="4" fill="#000" opacity="0.038"/><rect x="22.0" y="40.0" width="13.2" height="4" fill="#fff" opacity="0.33"/><rect x="26.4" y="40.0" width="8.8" height="4" fill="#fff" opacity="0.40"/><rect x="52.8" y="48.0" width="4.4" height="4" fill="#000" opacity="0.027"/><rect x="39.6" y="20.0" width="4.4" height="4" fill="#fff" opacity="0.42"/><rect x="57.2" y="52.0" width="4.4" height="4" fill="#000" opacity="0.044"/><rect x="17.6" y="52.0" width="4.4" height="4" fill="#fff" opacity="0.41"/><rect x="61.6" y="12.0" width="13.2" height="4" fill="#fff" opacity="0.43"/><rect x="44.0" y="20.0" width="13.2" height="4" fill="#fff" opacity="0.54"/><rect x="17.6" y="52.0" width="4.4" height="4" fill="#000" opacity="0.023"/><rect x="22.0" y="16.0" width="4.4" height="4" fill="#000" opacity="0.027"/><rect x="13.2" y="0.0" width="8.8" height="4" fill="#fff" opacity="0.30"/><rect x="0.0" y="40.0" width="4.4" height="4" fill="#fff" opacity="0.47"/><rect x="44.0" y="40.0" width="8.8" height="4" fill="#000" opacity="0.036"/><rect x="13.2" y="52.0" width="13.2" height="4" fill="#fff" opacity="0.50"/><rect x="52.8" y="28.0" width="4.4" height="4" fill="#fff" opacity="0.35"/><rect x="22.0" y="32.0" width="4.4" height="4" fill="#fff" opacity="0.53"/><rect x="61.6" y="12.0" width="4.4" height="4" fill="#fff" opacity="0.56"/></pattern><filter id="bl3" x="-50%" y="-50%" width="200%" height="200%"><feGaussianBlur stdDeviation="3"/></filter><filter id="bl6" x="-50%" y="-50%" width="200%" height="200%"><feGaussianBlur stdDeviation="6"/></filter><g clip-path="url(#cd)"><rect x="12" y="250" width="476" height="300" fill="#ebebeb"/><rect x="12" y="250" width="476" height="300" fill="url(#pd)"/><ellipse cx="338" cy="316" rx="14" ry="5" fill="#000" opacity="0.12" filter="url(#bl3)"/><ellipse cx="356" cy="322" rx="9" ry="5" fill="#000" opacity="0.10" filter="url(#bl3)"/><ellipse cx="350" cy="345" rx="11" ry="6" fill="#000" opacity="0.12" filter="url(#bl3)"/><ellipse cx="336" cy="352" rx="7" ry="5" fill="#000" opacity="0.09" filter="url(#bl3)"/><ellipse cx="342" cy="373" rx="8" ry="4" fill="#000" opacity="0.16" filter="url(#bl3)"/><ellipse cx="321" cy="420" rx="7" ry="3" fill="#000" opacity="0.12" filter="url(#bl3)"/><ellipse cx="345" cy="430" rx="6" ry="4" fill="#000" opacity="0.09" filter="url(#bl3)"/><ellipse cx="361" cy="439" rx="6" ry="3" fill="#000" opacity="0.10" filter="url(#bl3)"/><ellipse cx="337" cy="448" rx="5" ry="3" fill="#000" opacity="0.08" filter="url(#bl3)"/><ellipse cx="276" cy="332" rx="15" ry="12" fill="#000" opacity="0.08" filter="url(#bl3)"/><ellipse cx="287" cy="362" rx="7" ry="9" fill="#000" opacity="0.07" filter="url(#bl3)"/><ellipse cx="300" cy="322" rx="9" ry="5" fill="#000" opacity="0.06" filter="url(#bl3)"/><ellipse cx="368" cy="340" rx="8" ry="4" fill="#000" opacity="0.06" filter="url(#bl3)"/><path d="M330 300Q300 420 350 548" fill="none" stroke="#fff" stroke-width="5" opacity="0.35" filter="url(#bl3)"/><path d="M420 285Q385 420 430 548" fill="none" stroke="#fff" stroke-width="5" opacity="0.30" filter="url(#bl3)"/><path d="M140 420Q130 480 150 548" fill="none" stroke="#fff" stroke-width="5" opacity="0.25" filter="url(#bl3)"/><path d="M258.0 330.6L269.1 325.8L280.0 321.1L281.7 321.8L282.0 325.1L277.9 327.2L274.6 329.9L277.9 329.6L282.0 328.9L283.4 331.2L285.4 332.6L283.4 335.3L281.3 337.0L277.3 338.4L275.2 337.7L275.9 335.7L271.8 336.7L267.8 337.0L266.4 334.6L263.7 332.6L265.1 329.2L260.3 330.9Z" fill="#8cc0ff" stroke="#0a0a0a" stroke-width="1.5" stroke-linejoin="round"/><path d="M270.5 326.5L277.9 322.8L280.7 322.8L280.0 325.5L275.2 327.9L271.8 328.5Z" fill="#1a30ff"/><path d="M268.5 334.6L273.9 333.3L274.6 335.7L269.1 336.3Z" fill="#3a60ff"/><path d="M265.4 330.2L269.1 329.2L269.1 330.7L265.7 331.4Z" fill="#ffe800"/><path d="M276.9 331.9L282.3 329.9L284.0 332.6L281.3 336.0L277.3 337.3L276.9 334.6Z" fill="#b0d0ff"/><path d="M279.6 345.5L282.7 343.1L286.8 343.8L288.4 344.8L286.8 347.2L282.0 347.2Z" fill="#80c8e8" stroke="#0a0a0a" stroke-width="1.4" stroke-linejoin="round"/><circle cx="292.2" cy="315.7" r="1.4" fill="#0a0a0a"/><path d="M338.9 372.6L341.6 370.9L344.7 372.0L342.0 374.5Z" fill="#2a5a2a" stroke="#0a0a0a" stroke-width="1.2" stroke-linejoin="round"/><ellipse cx="341.6" cy="372.6" rx="9" ry="4" fill="#000" opacity="0.25" filter="url(#bl3)"/><ellipse cx="290.5" cy="308.1" rx="1.6" ry="1" fill="#50a050"/></g></g>
<g transform="translate(0.00 590.60)"><path d="M55.40 40.93V548.90M134.24 40.93V548.90M213.08 40.93V548.90M291.92 40.93V548.90M370.76 40.93V548.90M449.60 40.93V548.90M13.00 542.00H486.30M13.00 457.44H486.30M13.00 372.88H486.30M13.00 288.32H486.30M13.00 203.76H486.30M13.00 119.20H486.30" class="gr"/><text x="55.40" y="309.4" text-anchor="middle" class="gl">-50</text><text x="134.24" y="309.4" text-anchor="middle" class="gl">-48</text><text x="213.08" y="309.4" text-anchor="middle" class="gl">-46</text><text x="291.92" y="309.4" text-anchor="middle" class="gl">-44</text><text x="370.76" y="309.4" text-anchor="middle" class="gl">-42</text><text x="449.60" y="309.4" text-anchor="middle" class="gl">-40</text><text x="232.6" y="542.30" text-anchor="middle" class="gl">30</text><text x="232.6" y="457.74" text-anchor="middle" class="gl">32</text><text x="232.6" y="373.18" text-anchor="middle" class="gl">34</text><text x="232.6" y="288.62" text-anchor="middle" class="gl">36</text><text x="232.6" y="204.06" text-anchor="middle" class="gl">38</text><text x="232.6" y="119.50" text-anchor="middle" class="gl">40</text></g>
<g transform="translate(0.00 590.60)"><rect x="495" y="531.47" width="8.9" height="8.76" fill="#f8f8f8"/><rect x="495" y="523.01" width="8.9" height="8.76" fill="#f0f0f0"/><rect x="495" y="514.55" width="8.9" height="8.76" fill="#e9e9e9"/><rect x="495" y="506.08" width="8.9" height="8.76" fill="#e1e1e1"/><rect x="495" y="497.62" width="8.9" height="8.76" fill="#dadada"/><rect x="495" y="489.16" width="8.9" height="8.76" fill="#d2d2d2"/><rect x="495" y="480.69" width="8.9" height="8.76" fill="#cbcbcb"/><rect x="495" y="472.23" width="8.9" height="8.76" fill="#c3c3c3"/><rect x="495" y="463.77" width="8.9" height="8.76" fill="#bcbcbc"/><rect x="495" y="455.30" width="8.9" height="8.76" fill="#b4b4b4"/><rect x="495" y="446.84" width="8.9" height="8.76" fill="#adadad"/><rect x="495" y="438.38" width="8.9" height="8.76" fill="#a5a5a5"/><rect x="495" y="429.91" width="8.9" height="8.76" fill="#9e9e9e"/><rect x="495" y="421.45" width="8.9" height="8.76" fill="#969696"/><rect x="495" y="412.99" width="8.9" height="8.76" fill="#80e280"/><rect x="495" y="404.52" width="8.9" height="8.76" fill="#7ad87a"/><rect x="495" y="396.06" width="8.9" height="8.76" fill="#74ce74"/><rect x="495" y="387.60" width="8.9" height="8.76" fill="#6ec46e"/><rect x="495" y="379.13" width="8.9" height="8.76" fill="#68ba68"/><rect x="495" y="370.67" width="8.9" height="8.76" fill="#d0d6ff"/><rect x="495" y="362.21" width="8.9" height="8.76" fill="#b8cdff"/><rect x="495" y="353.74" width="8.9" height="8.76" fill="#a0c4ff"/><rect x="495" y="345.28" width="8.9" height="8.76" fill="#78baff"/><rect x="495" y="336.82" width="8.9" height="8.76" fill="#50b0ff"/><rect x="495" y="328.35" width="8.9" height="8.76" fill="#4890ff"/><rect x="495" y="319.89" width="8.9" height="8.76" fill="#4070ff"/><rect x="495" y="311.43" width="8.9" height="8.76" fill="#3850ff"/><rect x="495" y="302.96" width="8.9" height="8.76" fill="#3030ff"/><rect x="495" y="294.50" width="8.9" height="8.76" fill="#1818ff"/><rect x="495" y="286.04" width="8.9" height="8.76" fill="#0000ff"/><rect x="495" y="277.57" width="8.9" height="8.76" fill="#0000f0"/><rect x="495" y="269.11" width="8.9" height="8.76" fill="#0000e0"/><rect x="495" y="260.65" width="8.9" height="8.76" fill="#0000d4"/><rect x="495" y="252.18" width="8.9" height="8.76" fill="#0000c8"/><rect x="495" y="243.72" width="8.9" height="8.76" fill="#ffff00"/><rect x="495" y="235.26" width="8.9" height="8.76" fill="#fff300"/><rect x="495" y="226.79" width="8.9" height="8.76" fill="#ffe800"/><rect x="495" y="218.33" width="8.9" height="8.76" fill="#ffdc00"/><rect x="495" y="209.87" width="8.9" height="8.76" fill="#ffd000"/><rect x="495" y="201.40" width="8.9" height="8.76" fill="#ff9600"/><rect x="495" y="192.94" width="8.9" height="8.76" fill="#ff8e00"/><rect x="495" y="184.48" width="8.9" height="8.76" fill="#ff8600"/><rect x="495" y="176.01" width="8.9" height="8.76" fill="#ff7e00"/><rect x="495" y="167.55" width="8.9" height="8.76" fill="#ff7600"/><rect x="495" y="159.09" width="8.9" height="8.76" fill="#ff4000"/><rect x="495" y="150.62" width="8.9" height="8.76" fill="#ff3600"/><rect x="495" y="142.16" width="8.9" height="8.76" fill="#ff2c00"/><rect x="495" y="133.70" width="8.9" height="8.76" fill="#ff2200"/><rect x="495" y="125.23" width="8.9" height="8.76" fill="#ff1800"/><rect x="495" y="116.77" width="8.9" height="8.76" fill="#cc0000"/><rect x="495" y="108.31" width="8.9" height="8.76" fill="#c20400"/><rect x="495" y="99.84" width="8.9" height="8.76" fill="#b80800"/><rect x="495" y="91.38" width="8.9" height="8.76" fill="#ae0c00"/><rect x="495" y="82.92" width="8.9" height="8.76" fill="#a41000"/><rect x="495" y="74.45" width="8.9" height="8.76" fill="#601008"/><rect x="495" y="65.99" width="8.9" height="8.76" fill="#5d120c"/><rect x="495" y="57.53" width="8.9" height="8.76" fill="#5a1511"/><rect x="495" y="49.06" width="8.9" height="8.76" fill="#571816"/><rect x="495" y="40.60" width="8.9" height="8.76" fill="#541a1a"/><path d="M503.9 548.40h2" stroke="#222" stroke-width="1"/><text x="524.0" y="557.00" text-anchor="middle" class="cb">300</text><path d="M503.9 497.62h2" stroke="#222" stroke-width="1"/><text x="524.0" y="506.22" text-anchor="middle" class="cb">279</text><path d="M503.9 446.84h2" stroke="#222" stroke-width="1"/><text x="524.0" y="455.44" text-anchor="middle" class="cb">258</text><path d="M503.9 396.06h2" stroke="#222" stroke-width="1"/><text x="524.0" y="404.66" text-anchor="middle" class="cb">237</text><path d="M503.9 345.28h2" stroke="#222" stroke-width="1"/><text x="524.0" y="353.88" text-anchor="middle" class="cb">216</text><path d="M503.9 294.50h2" stroke="#222" stroke-width="1"/><text x="524.0" y="303.10" text-anchor="middle" class="cb">195</text><path d="M503.9 243.72h2" stroke="#222" stroke-width="1"/><text x="524.0" y="252.32" text-anchor="middle" class="cb">174</text><path d="M503.9 192.94h2" stroke="#222" stroke-width="1"/><text x="524.0" y="201.54" text-anchor="middle" class="cb">153</text><path d="M503.9 142.16h2" stroke="#222" stroke-width="1"/><text x="524.0" y="150.76" text-anchor="middle" class="cb">132</text><path d="M503.9 91.38h2" stroke="#222" stroke-width="1"/><text x="524.0" y="99.98" text-anchor="middle" class="cb">111</text></g>
<g transform="translate(0.00 590.60)"><path d="M13 519.6Q245 437.8 477.1 382.7" class="sw"/><path d="M224.4 548.4Q355.3 506.8 486.2 477.3" class="sw"/><path d="M242.8 294.7h13.2M249.4 288.2v13" stroke="#000" stroke-width="4.6" fill="none"/><text x="43.5" y="66.4" class="tt">85GHz PCT (K)</text><text x="438.6" y="522.4" class="lt">(d)</text></g>
<g transform="translate(590.60 590.60)"><clipPath id="ce"><path d="M13.0 388.9L55.3 372.0L134.4 345.7L213.2 322.6L292.2 301.4L370.7 281.6L449.5 263.8L486.0 255.4L486.0 548.8L13.0 548.8Z"/></clipPath><g clip-path="url(#ce)"><rect x="12" y="250" width="476" height="300" fill="#86e48c"/><path d="M13 380L160 330L200 345L120 400L60 450L13 470Z" fill="#70cc78" opacity="0.55" filter="url(#bl6)"/><path d="M240 315L487 250L487 300L470 380L430 430L380 455L330 450L300 420L260 390L245 350Z" fill="#70cc78" opacity="0.8" filter="url(#bl6)"/><path d="M400 430Q440 470 430 548L487 548L487 330Q470 400 400 430Z" fill="#8eea94" opacity="0.6" filter="url(#bl6)"/><path d="M188.9 513.6L178.8 520.4L172.0 513.6L161.8 510.2L155.1 503.5L144.9 498.4L141.5 486.5L138.1 476.4L128.0 481.4L117.8 484.8L104.3 483.1L100.9 473.0L97.5 462.8L94.1 452.7L90.7 440.8L97.5 432.3L104.3 422.2L94.1 415.4L97.5 405.2L104.3 395.1L111.0 381.5L119.5 371.4L128.0 359.5L131.4 349.3L172.0 336.6L185.6 340.9L178.8 351.0L195.7 361.2L200.8 371.4L209.7 373.1L216.5 377.2L211.1 385.3L212.4 393.4L217.9 398.8L223.3 402.9L234.1 398.8L243.6 396.1L246.3 407.0L254.4 409.7L262.6 404.3L265.3 416.4L276.1 415.1L284.3 412.4L289.7 407.0L297.8 409.7L301.9 415.1L301.9 431.4L297.8 435.4L293.7 434.1L292.4 449.0L289.7 457.1L281.5 461.2L277.5 469.3L284.3 472.0L289.7 476.1L284.3 484.2L273.4 484.2L269.3 491.0L276.1 496.4L284.3 499.1L291.0 503.2L289.7 512.7L284.3 520.8L292.4 520.8L289.7 526.2L281.5 528.9L276.1 523.5L265.3 526.2L257.2 531.6L247.7 526.2L240.9 520.8L234.1 512.7L230.1 504.5L223.3 501.8L216.5 509.9L209.7 518.1L203.0 512.7L196.2 508.6L189.4 504.5Z" fill="#a0a0a0"/><path d="M144.9 384.9L161.8 383.2L158.5 395.1L148.3 401.8Z" fill="#86e48c"/><path d="M128.0 406.9L141.5 408.6L138.1 417.1L129.7 415.4Z" fill="#86e48c"/><path d="M182.2 393.4L190.6 395.1L187.2 401.8Z" fill="#86e48c"/><path d="M111.0 428.9L117.8 425.6L116.1 434.0Z" fill="#86e48c"/><path d="M107.6 451.0L117.8 452.7L128.0 466.2L131.4 478.1L117.8 476.4L111.0 466.2Z" fill="#86e48c"/><path d="M270.7 435.4L281.5 436.8L282.9 450.3L273.4 451.7Z" fill="#86e48c"/><path d="M254.4 493.7L265.3 491.0L268.0 501.8L259.9 509.9L254.4 504.5Z" fill="#86e48c"/><path d="M220.6 499.1L228.7 496.4L230.1 505.9L223.3 508.6Z" fill="#86e48c"/><rect x="461.7" y="390.2" width="4.4" height="4.0" fill="#a0a0a0"/><rect x="462.2" y="398.7" width="4.4" height="4.0" fill="#a0a0a0"/><rect x="463.4" y="410.0" width="4.4" height="4.0" fill="#a0a0a0"/><rect x="466.2" y="421.3" width="4.4" height="4.0" fill="#a0a0a0"/><rect x="466.2" y="425.2" width="4.4" height="4.0" fill="#a0a0a0"/><rect x="414.8" y="413.9" width="4.4" height="4.0" fill="#a0a0a0"/><rect x="428.9" y="430.9" width="4.4" height="4.0" fill="#a0a0a0"/><rect x="440.2" y="432.0" width="4.4" height="4.0" fill="#a0a0a0"/><rect x="470.1" y="437.7" width="4.4" height="4.0" fill="#a0a0a0"/><rect x="438.5" y="445.6" width="4.4" height="4.0" fill="#a0a0a0"/><rect x="375.9" y="439.9" width="4.4" height="4.0" fill="#a0a0a0"/><rect x="398.4" y="442.7" width="4.4" height="4.0" fill="#a0a0a0"/><rect x="379.8" y="455.7" width="4.4" height="4.0" fill="#a0a0a0"/><rect x="292.3" y="462.5" width="4.4" height="4.0" fill="#a0a0a0"/><rect x="452.6" y="466.5" width="4.4" height="4.0" fill="#a0a0a0"/><rect x="378.7" y="468.1" width="4.4" height="4.0" fill="#a0a0a0"/><rect x="334.1" y="471.5" width="4.4" height="4.0" fill="#a0a0a0"/><rect x="439.1" y="473.8" width="4.4" height="4.0" fill="#a0a0a0"/><rect x="458.9" y="477.7" width="4.4" height="4.0" fill="#a0a0a0"/><rect x="463.4" y="480.6" width="4.4" height="4.0" fill="#a0a0a0"/><rect x="467.9" y="483.4" width="4.4" height="4.0" fill="#a0a0a0"/><rect x="325.6" y="478.3" width="4.4" height="4.0" fill="#a0a0a0"/><rect x="344.2" y="481.1" width="4.4" height="4.0" fill="#a0a0a0"/><rect x="298.5" y="481.7" width="4.4" height="4.0" fill="#a0a0a0"/><rect x="384.3" y="481.1" width="4.4" height="4.0" fill="#a0a0a0"/><rect x="386.6" y="484.5" width="4.4" height="4.0" fill="#a0a0a0"/><rect x="388.8" y="487.9" width="4.4" height="4.0" fill="#a0a0a0"/><rect x="375.3" y="485.6" width="4.4" height="4.0" fill="#a0a0a0"/><rect x="330.1" y="487.9" width="4.4" height="4.0" fill="#a0a0a0"/><rect x="335.8" y="488.5" width="4.4" height="4.0" fill="#a0a0a0"/><rect x="394.5" y="489.0" width="4.4" height="4.0" fill="#a0a0a0"/><rect x="418.2" y="487.9" width="4.4" height="4.0" fill="#a0a0a0"/><rect x="420.5" y="491.3" width="4.4" height="4.0" fill="#a0a0a0"/><rect x="427.2" y="493.0" width="4.4" height="4.0" fill="#a0a0a0"/><rect x="291.2" y="492.4" width="4.4" height="4.0" fill="#a0a0a0"/><rect x="449.8" y="491.9" width="4.4" height="4.0" fill="#a0a0a0"/><rect x="461.1" y="487.9" width="4.4" height="4.0" fill="#a0a0a0"/><rect x="465.6" y="487.3" width="4.4" height="4.0" fill="#a0a0a0"/><rect x="338.6" y="495.8" width="4.4" height="4.0" fill="#a0a0a0"/><rect x="395.0" y="498.1" width="4.4" height="4.0" fill="#a0a0a0"/><rect x="397.3" y="501.5" width="4.4" height="4.0" fill="#a0a0a0"/><rect x="399.6" y="504.8" width="4.4" height="4.0" fill="#a0a0a0"/><rect x="401.3" y="507.1" width="4.4" height="4.0" fill="#a0a0a0"/><rect x="335.8" y="500.3" width="4.4" height="4.0" fill="#a0a0a0"/><rect x="426.1" y="501.5" width="4.4" height="4.0" fill="#a0a0a0"/><rect x="428.9" y="504.8" width="4.4" height="4.0" fill="#a0a0a0"/><rect x="431.8" y="508.2" width="4.4" height="4.0" fill="#a0a0a0"/><rect x="449.8" y="503.7" width="4.4" height="4.0" fill="#a0a0a0"/><rect x="344.8" y="506.0" width="4.4" height="4.0" fill="#a0a0a0"/><rect x="322.2" y="508.2" width="4.4" height="4.0" fill="#a0a0a0"/><rect x="312.0" y="511.1" width="4.4" height="4.0" fill="#a0a0a0"/><rect x="356.1" y="507.1" width="4.4" height="4.0" fill="#a0a0a0"/><rect x="359.5" y="510.5" width="4.4" height="4.0" fill="#a0a0a0"/><rect x="362.3" y="513.3" width="4.4" height="4.0" fill="#a0a0a0"/><rect x="365.1" y="516.1" width="4.4" height="4.0" fill="#a0a0a0"/><rect x="308.7" y="516.1" width="4.4" height="4.0" fill="#a0a0a0"/><rect x="372.5" y="511.1" width="4.4" height="4.0" fill="#a0a0a0"/><rect x="342.5" y="512.8" width="4.4" height="4.0" fill="#a0a0a0"/><rect x="351.6" y="516.1" width="4.4" height="4.0" fill="#a0a0a0"/><rect x="465.6" y="515.0" width="4.4" height="4.0" fill="#a0a0a0"/><rect x="336.3" y="520.7" width="4.4" height="4.0" fill="#a0a0a0"/><rect x="358.3" y="522.4" width="4.4" height="4.0" fill="#a0a0a0"/><rect x="400.1" y="522.9" width="4.4" height="4.0" fill="#a0a0a0"/><rect x="476.9" y="522.9" width="4.4" height="4.0" fill="#a0a0a0"/><rect x="368.5" y="524.0" width="4.4" height="4.0" fill="#a0a0a0"/><rect x="371.9" y="527.4" width="4.4" height="4.0" fill="#a0a0a0"/><rect x="375.3" y="530.3" width="4.4" height="4.0" fill="#a0a0a0"/><rect x="378.7" y="533.6" width="4.4" height="4.0" fill="#a0a0a0"/><rect x="382.1" y="536.5" width="4.4" height="4.0" fill="#a0a0a0"/><rect x="313.2" y="530.8" width="4.4" height="4.0" fill="#a0a0a0"/><rect x="316.6" y="534.2" width="4.4" height="4.0" fill="#a0a0a0"/><rect x="297.9" y="410.0" width="4.4" height="4.0" fill="#a0a0a0"/><rect x="297.9" y="414.5" width="4.4" height="4.0" fill="#a0a0a0"/><rect x="297.9" y="424.7" width="4.4" height="4.0" fill="#a0a0a0"/><rect x="297.9" y="429.2" width="4.4" height="4.0" fill="#a0a0a0"/><rect x="294.0" y="410.0" width="4.4" height="4.0" fill="#a0a0a0"/><rect x="289.5" y="432.6" width="4.4" height="4.0" fill="#a0a0a0"/><rect x="289.5" y="437.1" width="4.4" height="4.0" fill="#a0a0a0"/><rect x="289.5" y="441.6" width="4.4" height="4.0" fill="#a0a0a0"/><rect x="289.5" y="446.1" width="4.4" height="4.0" fill="#a0a0a0"/><rect x="182.6" y="338.0" width="4.4" height="4.0" fill="#a0a0a0"/><rect x="160.6" y="542.0" width="4.4" height="4.0" fill="#a0a0a0"/><rect x="266.2" y="390.0" width="4.4" height="4.0" fill="#a0a0a0"/><rect x="195.8" y="342.0" width="4.4" height="4.0" fill="#a0a0a0"/><rect x="138.6" y="502.0" width="4.4" height="4.0" fill="#a0a0a0"/><rect x="187.0" y="518.0" width="4.4" height="4.0" fill="#a0a0a0"/><rect x="94.6" y="418.0" width="4.4" height="4.0" fill="#a0a0a0"/><rect x="200.2" y="518.0" width="4.4" height="4.0" fill="#a0a0a0"/><rect x="261.8" y="534.0" width="4.4" height="4.0" fill="#a0a0a0"/><rect x="266.2" y="390.0" width="4.4" height="4.0" fill="#a0a0a0"/><rect x="103.4" y="366.0" width="4.4" height="4.0" fill="#a0a0a0"/><rect x="90.2" y="466.0" width="4.4" height="4.0" fill="#a0a0a0"/><rect x="147.4" y="338.0" width="4.4" height="4.0" fill="#a0a0a0"/><rect x="209.0" y="362.0" width="4.4" height="4.0" fill="#a0a0a0"/><rect x="191.4" y="334.0" width="4.4" height="4.0" fill="#a0a0a0"/><rect x="292.6" y="518.0" width="4.4" height="4.0" fill="#a0a0a0"/><rect x="248.6" y="398.0" width="4.4" height="4.0" fill="#a0a0a0"/><rect x="147.4" y="334.0" width="4.4" height="4.0" fill="#a0a0a0"/><rect x="253.0" y="538.0" width="4.4" height="4.0" fill="#a0a0a0"/><rect x="107.8" y="354.0" width="4.4" height="4.0" fill="#a0a0a0"/><rect x="195.8" y="358.0" width="4.4" height="4.0" fill="#a0a0a0"/><rect x="292.6" y="470.0" width="4.4" height="4.0" fill="#a0a0a0"/><rect x="275.0" y="406.0" width="4.4" height="4.0" fill="#a0a0a0"/><rect x="200.2" y="526.0" width="4.4" height="4.0" fill="#a0a0a0"/><rect x="72.6" y="422.0" width="4.4" height="4.0" fill="#a0a0a0"/><rect x="90.2" y="450.0" width="4.4" height="4.0" fill="#a0a0a0"/><rect x="129.8" y="498.0" width="4.4" height="4.0" fill="#a0a0a0"/><rect x="270.6" y="534.0" width="4.4" height="4.0" fill="#a0a0a0"/><rect x="85.8" y="382.0" width="4.4" height="4.0" fill="#a0a0a0"/><rect x="297.0" y="510.0" width="4.4" height="4.0" fill="#a0a0a0"/><rect x="248.6" y="538.0" width="4.4" height="4.0" fill="#a0a0a0"/><rect x="195.8" y="530.0" width="4.4" height="4.0" fill="#a0a0a0"/><rect x="121.0" y="350.0" width="4.4" height="4.0" fill="#a0a0a0"/><rect x="138.6" y="494.0" width="4.4" height="4.0" fill="#a0a0a0"/><rect x="147.4" y="338.0" width="4.4" height="4.0" fill="#a0a0a0"/><rect x="85.8" y="490.0" width="4.4" height="4.0" fill="#a0a0a0"/><rect x="292.6" y="446.0" width="4.4" height="4.0" fill="#a0a0a0"/><rect x="288.2" y="394.0" width="4.4" height="4.0" fill="#a0a0a0"/><rect x="182.6" y="330.0" width="4.4" height="4.0" fill="#a0a0a0"/><rect x="90.2" y="414.0" width="4.4" height="4.0" fill="#a0a0a0"/><rect x="231.0" y="518.0" width="4.4" height="4.0" fill="#a0a0a0"/><rect x="103.4" y="486.0" width="4.4" height="4.0" fill="#a0a0a0"/><rect x="226.6" y="378.0" width="4.4" height="4.0" fill="#a0a0a0"/><rect x="125.4" y="490.0" width="4.4" height="4.0" fill="#a0a0a0"/><rect x="200.2" y="330.0" width="4.4" height="4.0" fill="#a0a0a0"/><rect x="231.0" y="526.0" width="4.4" height="4.0" fill="#a0a0a0"/><rect x="297.0" y="458.0" width="4.4" height="4.0" fill="#a0a0a0"/><rect x="279.4" y="534.0" width="4.4" height="4.0" fill="#a0a0a0"/><rect x="239.8" y="542.0" width="4.4" height="4.0" fill="#a0a0a0"/><rect x="217.8" y="394.0" width="4.4" height="4.0" fill="#a0a0a0"/><rect x="99.0" y="370.0" width="4.4" height="4.0" fill="#a0a0a0"/><rect x="213.4" y="518.0" width="4.4" height="4.0" fill="#a0a0a0"/><rect x="231.0" y="522.0" width="4.4" height="4.0" fill="#a0a0a0"/><rect x="266.2" y="538.0" width="4.4" height="4.0" fill="#a0a0a0"/><rect x="226.6" y="354.0" width="4.4" height="4.0" fill="#a0a0a0"/><rect x="288.2" y="482.0" width="4.4" height="4.0" fill="#a0a0a0"/><rect x="222.2" y="530.0" width="4.4" height="4.0" fill="#a0a0a0"/><rect x="138.6" y="506.0" width="4.4" height="4.0" fill="#a0a0a0"/><rect x="116.6" y="494.0" width="4.4" height="4.0" fill="#a0a0a0"/><rect x="283.8" y="490.0" width="4.4" height="4.0" fill="#a0a0a0"/><rect x="151.8" y="522.0" width="4.4" height="4.0" fill="#a0a0a0"/><rect x="275.0" y="402.0" width="4.4" height="4.0" fill="#a0a0a0"/><rect x="288.2" y="462.0" width="4.4" height="4.0" fill="#a0a0a0"/><rect x="288.2" y="534.0" width="4.4" height="4.0" fill="#a0a0a0"/><rect x="182.6" y="530.0" width="4.4" height="4.0" fill="#a0a0a0"/><rect x="112.2" y="494.0" width="4.4" height="4.0" fill="#a0a0a0"/><rect x="129.8" y="346.0" width="4.4" height="4.0" fill="#a0a0a0"/><rect x="235.4" y="370.0" width="4.4" height="4.0" fill="#a0a0a0"/><rect x="297.0" y="438.0" width="4.4" height="4.0" fill="#a0a0a0"/><rect x="261.8" y="526.0" width="4.4" height="4.0" fill="#a0a0a0"/><rect x="200.2" y="530.0" width="4.4" height="4.0" fill="#a0a0a0"/><rect x="90.2" y="458.0" width="4.4" height="4.0" fill="#a0a0a0"/><rect x="99.0" y="374.0" width="4.4" height="4.0" fill="#a0a0a0"/><rect x="222.2" y="370.0" width="4.4" height="4.0" fill="#a0a0a0"/><rect x="213.4" y="346.0" width="4.4" height="4.0" fill="#a0a0a0"/><rect x="288.2" y="398.0" width="4.4" height="4.0" fill="#a0a0a0"/><rect x="112.2" y="486.0" width="4.4" height="4.0" fill="#a0a0a0"/><rect x="160.6" y="522.0" width="4.4" height="4.0" fill="#a0a0a0"/><rect x="213.4" y="526.0" width="4.4" height="4.0" fill="#a0a0a0"/><rect x="292.6" y="434.0" width="4.4" height="4.0" fill="#a0a0a0"/><rect x="107.8" y="374.0" width="4.4" height="4.0" fill="#a0a0a0"/><rect x="169.4" y="334.0" width="4.4" height="4.0" fill="#a0a0a0"/><rect x="99.0" y="422.0" width="4.4" height="4.0" fill="#a0a0a0"/><rect x="77.0" y="466.0" width="4.4" height="4.0" fill="#a0a0a0"/><rect x="187.0" y="338.0" width="4.4" height="4.0" fill="#a0a0a0"/><rect x="156.2" y="534.0" width="4.4" height="4.0" fill="#a0a0a0"/><rect x="129.8" y="506.0" width="4.4" height="4.0" fill="#a0a0a0"/><rect x="182.6" y="530.0" width="4.4" height="4.0" fill="#a0a0a0"/><rect x="143.0" y="338.0" width="4.4" height="4.0" fill="#a0a0a0"/><rect x="222.2" y="522.0" width="4.4" height="4.0" fill="#a0a0a0"/><rect x="200.2" y="522.0" width="4.4" height="4.0" fill="#a0a0a0"/><rect x="297.0" y="466.0" width="4.4" height="4.0" fill="#a0a0a0"/><rect x="107.8" y="490.0" width="4.4" height="4.0" fill="#a0a0a0"/><rect x="292.6" y="454.0" width="4.4" height="4.0" fill="#a0a0a0"/><rect x="138.6" y="330.0" width="4.4" height="4.0" fill="#a0a0a0"/><rect x="283.8" y="382.0" width="4.4" height="4.0" fill="#a0a0a0"/><rect x="283.8" y="486.0" width="4.4" height="4.0" fill="#a0a0a0"/><rect x="121.0" y="350.0" width="4.4" height="4.0" fill="#a0a0a0"/><rect x="226.6" y="514.0" width="4.4" height="4.0" fill="#a0a0a0"/><rect x="213.4" y="538.0" width="4.4" height="4.0" fill="#a0a0a0"/><rect x="143.0" y="518.0" width="4.4" height="4.0" fill="#a0a0a0"/><rect x="279.4" y="402.0" width="4.4" height="4.0" fill="#a0a0a0"/><rect x="81.4" y="458.0" width="4.4" height="4.0" fill="#a0a0a0"/><rect x="94.6" y="374.0" width="4.4" height="4.0" fill="#a0a0a0"/><rect x="90.2" y="494.0" width="4.4" height="4.0" fill="#a0a0a0"/><rect x="257.4" y="366.0" width="4.4" height="4.0" fill="#a0a0a0"/><rect x="147.4" y="510.0" width="4.4" height="4.0" fill="#a0a0a0"/><rect x="283.8" y="390.0" width="4.4" height="4.0" fill="#a0a0a0"/><rect x="94.6" y="466.0" width="4.4" height="4.0" fill="#a0a0a0"/><rect x="160.6" y="522.0" width="4.4" height="4.0" fill="#a0a0a0"/><rect x="156.2" y="522.0" width="4.4" height="4.0" fill="#a0a0a0"/><rect x="94.6" y="430.0" width="4.4" height="4.0" fill="#a0a0a0"/><rect x="103.4" y="382.0" width="4.4" height="4.0" fill="#a0a0a0"/><rect x="292.6" y="486.0" width="4.4" height="4.0" fill="#a0a0a0"/><rect x="235.4" y="518.0" width="4.4" height="4.0" fill="#a0a0a0"/><rect x="231.0" y="514.0" width="4.4" height="4.0" fill="#a0a0a0"/><rect x="90.2" y="418.0" width="4.4" height="4.0" fill="#a0a0a0"/><rect x="248.6" y="534.0" width="4.4" height="4.0" fill="#a0a0a0"/><rect x="90.2" y="454.0" width="4.4" height="4.0" fill="#a0a0a0"/><rect x="213.4" y="510.0" width="4.4" height="4.0" fill="#a0a0a0"/><rect x="160.6" y="534.0" width="4.4" height="4.0" fill="#a0a0a0"/><rect x="292.6" y="406.0" width="4.4" height="4.0" fill="#a0a0a0"/><rect x="239.8" y="534.0" width="4.4" height="4.0" fill="#a0a0a0"/><rect x="147.4" y="514.0" width="4.4" height="4.0" fill="#a0a0a0"/><rect x="288.2" y="470.0" width="4.4" height="4.0" fill="#a0a0a0"/><rect x="244.2" y="402.0" width="4.4" height="4.0" fill="#a0a0a0"/><rect x="169.4" y="522.0" width="4.4" height="4.0" fill="#a0a0a0"/><rect x="81.4" y="430.0" width="4.4" height="4.0" fill="#a0a0a0"/><rect x="191.4" y="518.0" width="4.4" height="4.0" fill="#a0a0a0"/><rect x="165.0" y="538.0" width="4.4" height="4.0" fill="#a0a0a0"/><rect x="147.4" y="514.0" width="4.4" height="4.0" fill="#a0a0a0"/><rect x="191.4" y="338.0" width="4.4" height="4.0" fill="#a0a0a0"/><rect x="279.4" y="462.0" width="4.4" height="4.0" fill="#a0a0a0"/><rect x="248.6" y="526.0" width="4.4" height="4.0" fill="#a0a0a0"/><rect x="90.2" y="366.0" width="4.4" height="4.0" fill="#a0a0a0"/><rect x="244.2" y="526.0" width="4.4" height="4.0" fill="#a0a0a0"/><rect x="151.8" y="506.0" width="4.4" height="4.0" fill="#a0a0a0"/><rect x="213.4" y="530.0" width="4.4" height="4.0" fill="#a0a0a0"/><rect x="200.2" y="338.0" width="4.4" height="4.0" fill="#a0a0a0"/><rect x="217.8" y="374.0" width="4.4" height="4.0" fill="#a0a0a0"/><rect x="231.0" y="514.0" width="4.4" height="4.0" fill="#a0a0a0"/><rect x="173.8" y="530.0" width="4.4" height="4.0" fill="#a0a0a0"/><rect x="288.2" y="486.0" width="4.4" height="4.0" fill="#a0a0a0"/><rect x="81.4" y="410.0" width="4.4" height="4.0" fill="#a0a0a0"/><rect x="231.0" y="510.0" width="4.4" height="4.0" fill="#a0a0a0"/><rect x="165.0" y="522.0" width="4.4" height="4.0" fill="#a0a0a0"/><rect x="134.2" y="330.0" width="4.4" height="4.0" fill="#a0a0a0"/><rect x="226.6" y="526.0" width="4.4" height="4.0" fill="#a0a0a0"/><rect x="204.6" y="370.0" width="4.4" height="4.0" fill="#a0a0a0"/><rect x="107.8" y="482.0" width="4.4" height="4.0" fill="#a0a0a0"/><rect x="297.0" y="518.0" width="4.4" height="4.0" fill="#a0a0a0"/><rect x="283.8" y="494.0" width="4.4" height="4.0" fill="#a0a0a0"/><rect x="288.2" y="382.0" width="4.4" height="4.0" fill="#a0a0a0"/><rect x="112.2" y="366.0" width="4.4" height="4.0" fill="#a0a0a0"/><rect x="81.4" y="458.0" width="4.4" height="4.0" fill="#a0a0a0"/><rect x="297.0" y="378.0" width="4.4" height="4.0" fill="#a0a0a0"/><rect x="217.8" y="542.0" width="4.4" height="4.0" fill="#a0a0a0"/><rect x="222.2" y="394.0" width="4.4" height="4.0" fill="#a0a0a0"/><rect x="107.8" y="378.0" width="4.4" height="4.0" fill="#a0a0a0"/><rect x="231.0" y="370.0" width="4.4" height="4.0" fill="#a0a0a0"/><rect x="213.4" y="358.0" width="4.4" height="4.0" fill="#a0a0a0"/><rect x="253.0" y="402.0" width="4.4" height="4.0" fill="#a0a0a0"/><rect x="169.4" y="526.0" width="4.4" height="4.0" fill="#a0a0a0"/><rect x="200.2" y="358.0" width="4.4" height="4.0" fill="#a0a0a0"/><rect x="112.2" y="346.0" width="4.4" height="4.0" fill="#a0a0a0"/><rect x="178.2" y="518.0" width="4.4" height="4.0" fill="#a0a0a0"/><rect x="266.2" y="398.0" width="4.4" height="4.0" fill="#a0a0a0"/><rect x="226.6" y="370.0" width="4.4" height="4.0" fill="#a0a0a0"/><rect x="94.6" y="418.0" width="4.4" height="4.0" fill="#a0a0a0"/><rect x="204.6" y="514.0" width="4.4" height="4.0" fill="#a0a0a0"/><rect x="191.4" y="342.0" width="4.4" height="4.0" fill="#a0a0a0"/><rect x="182.6" y="334.0" width="4.4" height="4.0" fill="#a0a0a0"/><rect x="77.0" y="466.0" width="4.4" height="4.0" fill="#a0a0a0"/><rect x="222.2" y="386.0" width="4.4" height="4.0" fill="#a0a0a0"/><rect x="279.4" y="462.0" width="4.4" height="4.0" fill="#a0a0a0"/><rect x="288.2" y="390.0" width="4.4" height="4.0" fill="#a0a0a0"/><rect x="125.4" y="346.0" width="4.4" height="4.0" fill="#a0a0a0"/><rect x="288.2" y="490.0" width="4.4" height="4.0" fill="#a0a0a0"/><rect x="231.0" y="526.0" width="4.4" height="4.0" fill="#a0a0a0"/><rect x="143.0" y="498.0" width="4.4" height="4.0" fill="#a0a0a0"/><rect x="187.0" y="350.0" width="4.4" height="4.0" fill="#a0a0a0"/><rect x="191.4" y="506.0" width="4.4" height="4.0" fill="#a0a0a0"/><rect x="103.4" y="390.0" width="4.4" height="4.0" fill="#a0a0a0"/><rect x="297.0" y="466.0" width="4.4" height="4.0" fill="#a0a0a0"/><rect x="297.0" y="454.0" width="4.4" height="4.0" fill="#a0a0a0"/><rect x="244.2" y="398.0" width="4.4" height="4.0" fill="#a0a0a0"/><rect x="257.4" y="394.0" width="4.4" height="4.0" fill="#a0a0a0"/><rect x="231.0" y="378.0" width="4.4" height="4.0" fill="#a0a0a0"/><rect x="248.6" y="382.0" width="4.4" height="4.0" fill="#a0a0a0"/><rect x="103.4" y="482.0" width="4.4" height="4.0" fill="#a0a0a0"/><rect x="129.8" y="510.0" width="4.4" height="4.0" fill="#a0a0a0"/><rect x="99.0" y="482.0" width="4.4" height="4.0" fill="#a0a0a0"/><rect x="129.8" y="498.0" width="4.4" height="4.0" fill="#a0a0a0"/><rect x="134.2" y="342.0" width="4.4" height="4.0" fill="#a0a0a0"/><rect x="121.0" y="354.0" width="4.4" height="4.0" fill="#a0a0a0"/><rect x="99.0" y="390.0" width="4.4" height="4.0" fill="#a0a0a0"/><rect x="213.4" y="366.0" width="4.4" height="4.0" fill="#a0a0a0"/><rect x="279.4" y="490.0" width="4.4" height="4.0" fill="#a0a0a0"/><rect x="103.4" y="370.0" width="4.4" height="4.0" fill="#a0a0a0"/><rect x="156.2" y="338.0" width="4.4" height="4.0" fill="#a0a0a0"/><rect x="244.2" y="390.0" width="4.4" height="4.0" fill="#a0a0a0"/><rect x="77.0" y="382.0" width="4.4" height="4.0" fill="#a0a0a0"/><rect x="187.0" y="530.0" width="4.4" height="4.0" fill="#a0a0a0"/><rect x="292.6" y="466.0" width="4.4" height="4.0" fill="#a0a0a0"/><rect x="125.4" y="342.0" width="4.4" height="4.0" fill="#a0a0a0"/><rect x="283.8" y="406.0" width="4.4" height="4.0" fill="#a0a0a0"/><rect x="94.6" y="390.0" width="4.4" height="4.0" fill="#a0a0a0"/><rect x="116.6" y="342.0" width="4.4" height="4.0" fill="#a0a0a0"/><rect x="297.0" y="490.0" width="4.4" height="4.0" fill="#a0a0a0"/><rect x="283.8" y="470.0" width="4.4" height="4.0" fill="#a0a0a0"/><rect x="125.4" y="358.0" width="4.4" height="4.0" fill="#a0a0a0"/><rect x="151.8" y="510.0" width="4.4" height="4.0" fill="#a0a0a0"/><rect x="275.0" y="534.0" width="4.4" height="4.0" fill="#a0a0a0"/><rect x="85.8" y="478.0" width="4.4" height="4.0" fill="#a0a0a0"/><rect x="169.4" y="538.0" width="4.4" height="4.0" fill="#a0a0a0"/><rect x="77.0" y="422.0" width="4.4" height="4.0" fill="#a0a0a0"/><rect x="85.8" y="398.0" width="4.4" height="4.0" fill="#a0a0a0"/><rect x="217.8" y="394.0" width="4.4" height="4.0" fill="#a0a0a0"/><rect x="125.4" y="350.0" width="4.4" height="4.0" fill="#a0a0a0"/><rect x="200.2" y="354.0" width="4.4" height="4.0" fill="#a0a0a0"/><rect x="72.6" y="458.0" width="4.4" height="4.0" fill="#a0a0a0"/><rect x="107.8" y="490.0" width="4.4" height="4.0" fill="#a0a0a0"/><rect x="283.8" y="486.0" width="4.4" height="4.0" fill="#a0a0a0"/><rect x="200.2" y="354.0" width="4.4" height="4.0" fill="#a0a0a0"/><rect x="94.6" y="502.0" width="4.4" height="4.0" fill="#a0a0a0"/><rect x="253.0" y="534.0" width="4.4" height="4.0" fill="#a0a0a0"/><rect x="85.8" y="398.0" width="4.4" height="4.0" fill="#a0a0a0"/><rect x="288.2" y="546.0" width="4.4" height="4.0" fill="#a0a0a0"/><rect x="138.6" y="494.0" width="4.4" height="4.0" fill="#a0a0a0"/><rect x="297.0" y="434.0" width="4.4" height="4.0" fill="#a0a0a0"/><rect x="125.4" y="378.0" width="4.4" height="4.0" fill="#86e48c"/><rect x="266.2" y="426.0" width="4.4" height="4.0" fill="#86e48c"/><rect x="200.2" y="394.0" width="4.4" height="4.0" fill="#86e48c"/><rect x="151.8" y="498.0" width="4.4" height="4.0" fill="#86e48c"/><rect x="116.6" y="414.0" width="4.4" height="4.0" fill="#86e48c"/><rect x="253.0" y="518.0" width="4.4" height="4.0" fill="#86e48c"/><rect x="222.2" y="402.0" width="4.4" height="4.0" fill="#86e48c"/><rect x="204.6" y="386.0" width="4.4" height="4.0" fill="#86e48c"/><rect x="235.4" y="398.0" width="4.4" height="4.0" fill="#86e48c"/><rect x="143.0" y="490.0" width="4.4" height="4.0" fill="#86e48c"/><rect x="292.6" y="426.0" width="4.4" height="4.0" fill="#86e48c"/><rect x="121.0" y="382.0" width="4.4" height="4.0" fill="#86e48c"/><rect x="266.2" y="518.0" width="4.4" height="4.0" fill="#86e48c"/><rect x="239.8" y="506.0" width="4.4" height="4.0" fill="#86e48c"/><rect x="248.6" y="518.0" width="4.4" height="4.0" fill="#86e48c"/><rect x="165.0" y="350.0" width="4.4" height="4.0" fill="#86e48c"/><rect x="178.2" y="358.0" width="4.4" height="4.0" fill="#86e48c"/><rect x="107.8" y="478.0" width="4.4" height="4.0" fill="#86e48c"/><rect x="94.6" y="406.0" width="4.4" height="4.0" fill="#86e48c"/><rect x="129.8" y="366.0" width="4.4" height="4.0" fill="#86e48c"/><rect x="231.0" y="414.0" width="4.4" height="4.0" fill="#86e48c"/><rect x="187.0" y="506.0" width="4.4" height="4.0" fill="#86e48c"/><rect x="253.0" y="494.0" width="4.4" height="4.0" fill="#86e48c"/><rect x="151.8" y="474.0" width="4.4" height="4.0" fill="#86e48c"/><rect x="173.8" y="510.0" width="4.4" height="4.0" fill="#86e48c"/><rect x="239.8" y="414.0" width="4.4" height="4.0" fill="#86e48c"/><rect x="125.4" y="374.0" width="4.4" height="4.0" fill="#86e48c"/><rect x="279.4" y="450.0" width="4.4" height="4.0" fill="#86e48c"/><rect x="292.6" y="414.0" width="4.4" height="4.0" fill="#86e48c"/><rect x="283.8" y="442.0" width="4.4" height="4.0" fill="#86e48c"/><rect x="147.4" y="490.0" width="4.4" height="4.0" fill="#86e48c"/><rect x="151.8" y="474.0" width="4.4" height="4.0" fill="#86e48c"/><rect x="103.4" y="402.0" width="4.4" height="4.0" fill="#86e48c"/><rect x="231.0" y="406.0" width="4.4" height="4.0" fill="#86e48c"/><rect x="112.2" y="426.0" width="4.4" height="4.0" fill="#86e48c"/><rect x="257.4" y="418.0" width="4.4" height="4.0" fill="#86e48c"/><rect x="261.8" y="502.0" width="4.4" height="4.0" fill="#86e48c"/><rect x="261.8" y="462.0" width="4.4" height="4.0" fill="#86e48c"/><rect x="217.8" y="502.0" width="4.4" height="4.0" fill="#86e48c"/><rect x="103.4" y="442.0" width="4.4" height="4.0" fill="#86e48c"/><rect x="173.8" y="506.0" width="4.4" height="4.0" fill="#86e48c"/><rect x="288.2" y="522.0" width="4.4" height="4.0" fill="#86e48c"/><rect x="107.8" y="398.0" width="4.4" height="4.0" fill="#86e48c"/><rect x="112.2" y="398.0" width="4.4" height="4.0" fill="#86e48c"/><rect x="222.2" y="494.0" width="4.4" height="4.0" fill="#86e48c"/><rect x="160.6" y="506.0" width="4.4" height="4.0" fill="#86e48c"/><rect x="239.8" y="402.0" width="4.4" height="4.0" fill="#86e48c"/><rect x="99.0" y="402.0" width="4.4" height="4.0" fill="#86e48c"/><rect x="248.6" y="510.0" width="4.4" height="4.0" fill="#86e48c"/><rect x="209.0" y="386.0" width="4.4" height="4.0" fill="#86e48c"/><rect x="204.6" y="506.0" width="4.4" height="4.0" fill="#86e48c"/><rect x="116.6" y="378.0" width="4.4" height="4.0" fill="#86e48c"/><rect x="195.8" y="506.0" width="4.4" height="4.0" fill="#86e48c"/><rect x="121.0" y="466.0" width="4.4" height="4.0" fill="#86e48c"/><rect x="178.2" y="358.0" width="4.4" height="4.0" fill="#86e48c"/><rect x="112.2" y="414.0" width="4.4" height="4.0" fill="#86e48c"/><rect x="112.2" y="482.0" width="4.4" height="4.0" fill="#86e48c"/><rect x="253.0" y="426.0" width="4.4" height="4.0" fill="#86e48c"/><rect x="116.6" y="382.0" width="4.4" height="4.0" fill="#86e48c"/><rect x="213.4" y="490.0" width="4.4" height="4.0" fill="#86e48c"/><rect x="129.8" y="362.0" width="4.4" height="4.0" fill="#86e48c"/><rect x="103.4" y="438.0" width="4.4" height="4.0" fill="#86e48c"/><rect x="253.0" y="426.0" width="4.4" height="4.0" fill="#86e48c"/><rect x="261.8" y="514.0" width="4.4" height="4.0" fill="#86e48c"/><rect x="261.8" y="486.0" width="4.4" height="4.0" fill="#86e48c"/><rect x="138.6" y="466.0" width="4.4" height="4.0" fill="#86e48c"/><rect x="200.2" y="378.0" width="4.4" height="4.0" fill="#86e48c"/><rect x="151.8" y="486.0" width="4.4" height="4.0" fill="#86e48c"/><rect x="156.2" y="494.0" width="4.4" height="4.0" fill="#86e48c"/><rect x="169.4" y="354.0" width="4.4" height="4.0" fill="#86e48c"/><rect x="94.6" y="434.0" width="4.4" height="4.0" fill="#86e48c"/><rect x="283.8" y="450.0" width="4.4" height="4.0" fill="#86e48c"/><rect x="222.2" y="406.0" width="4.4" height="4.0" fill="#86e48c"/><rect x="169.4" y="358.0" width="4.4" height="4.0" fill="#86e48c"/><rect x="209.0" y="386.0" width="4.4" height="4.0" fill="#86e48c"/><rect x="283.8" y="418.0" width="4.4" height="4.0" fill="#86e48c"/><rect x="275.0" y="454.0" width="4.4" height="4.0" fill="#86e48c"/><rect x="121.0" y="374.0" width="4.4" height="4.0" fill="#86e48c"/><rect x="283.8" y="454.0" width="4.4" height="4.0" fill="#86e48c"/><rect x="107.8" y="434.0" width="4.4" height="4.0" fill="#86e48c"/><rect x="270.6" y="458.0" width="4.4" height="4.0" fill="#86e48c"/><rect x="107.8" y="478.0" width="4.4" height="4.0" fill="#86e48c"/><rect x="235.4" y="402.0" width="4.4" height="4.0" fill="#86e48c"/><rect x="103.4" y="478.0" width="4.4" height="4.0" fill="#86e48c"/><rect x="129.8" y="362.0" width="4.4" height="4.0" fill="#86e48c"/><rect x="288.2" y="502.0" width="4.4" height="4.0" fill="#86e48c"/><rect x="231.0" y="494.0" width="4.4" height="4.0" fill="#86e48c"/><rect x="239.8" y="498.0" width="4.4" height="4.0" fill="#86e48c"/><rect x="231.0" y="490.0" width="4.4" height="4.0" fill="#86e48c"/><rect x="270.6" y="494.0" width="4.4" height="4.0" fill="#86e48c"/><path d="M256.3 309.4L380.6 277.6L374.9 287.5L366.4 290.3L360.8 296.0L366.4 300.2L372.1 296.0L383.4 298.8L386.2 305.9L380.6 312.9L374.9 317.2L372.1 324.2L383.4 328.5L377.7 334.1L370.7 339.7L369.3 348.2L372.1 356.7L366.4 359.5L362.2 353.9L356.6 359.5L352.3 366.6L350.9 373.6L356.6 379.3L355.2 387.7L349.5 390.6L341.0 393.4L336.8 390.6L338.2 382.1L332.6 376.4L335.4 369.4L342.4 365.2L343.9 356.7L336.8 353.9L329.7 358.1L324.1 353.9L318.5 351.0L310.0 348.2L315.6 342.6L322.7 339.7L318.5 334.1L310.0 336.9L301.5 335.5L295.9 341.2L301.5 348.2L295.9 353.9L298.7 359.5L293.0 362.3L287.4 368.0L278.9 372.2L274.7 366.6L278.9 359.5L284.6 355.3L278.9 348.2L267.6 346.8L260.6 341.2L253.5 334.1L260.6 328.5L267.6 322.8L276.1 320.0L267.6 315.7Z" fill="#ced8ff"/><path d="M398.9 274.8L415.9 269.2L437.0 262.8L434.2 274.8L425.7 279.0L420.1 286.1L425.7 291.7L421.5 300.2L415.9 308.7L411.6 314.3L408.8 305.9L413.0 297.4L406.0 291.7L398.9 286.1Z" fill="#ced8ff"/><path d="M465.3 259.3L486.4 251.5L486.4 274.8L476.6 280.5L472.3 272.0Z" fill="#ced8ff"/><path d="M338.2 399.0L355.2 400.4L353.7 406.1L341.0 404.7Z" fill="#ced8ff"/><path d="M291.6 382.8L297.3 382.8L296.6 387.0L291.6 387.0Z" fill="#ced8ff"/><path d="M374.9 349.6L383.4 352.4L380.6 356.7L374.9 355.3Z" fill="#ced8ff"/><path d="M379.2 338.3L384.8 339.7L383.4 343.3L378.4 342.6Z" fill="#ced8ff"/><path d="M387.6 303.0L396.1 302.3L394.7 305.9L389.0 306.6Z" fill="#ced8ff"/><path d="M410.2 312.9L417.3 311.5L415.9 315.7L410.9 316.5Z" fill="#ced8ff"/><path d="M319.9 315.7L331.2 319.3L324.1 323.5L318.5 320.0Z" fill="#70cc78"/><path d="M343.9 303.0L352.3 305.2L359.4 308.7L352.3 310.1L345.3 307.3Z" fill="#70cc78"/><path d="M338.2 329.9L346.7 331.3L342.4 335.5Z" fill="#70cc78"/><path d="M298.7 336.9L307.2 339.7L304.3 348.2L298.7 345.4Z" fill="#70cc78"/><path d="M318.5 339.7L326.9 342.6L321.3 346.8Z" fill="#70cc78"/><path d="M406.0 281.9L417.3 280.5L413.0 288.9Z" fill="#70cc78"/><path d="M360.8 315.7L366.4 317.2L363.6 322.8Z" fill="#70cc78"/><rect x="286.6" y="379.2" width="3.9" height="3.7" fill="#ced8ff"/><rect x="360.8" y="294.1" width="3.9" height="3.7" fill="#ced8ff"/><rect x="368.6" y="297.8" width="3.9" height="3.7" fill="#70cc78"/><rect x="469.9" y="257.1" width="3.9" height="3.7" fill="#70cc78"/><rect x="364.6" y="286.8" width="3.9" height="3.7" fill="#70cc78"/><rect x="263.2" y="357.1" width="3.9" height="3.7" fill="#ced8ff"/><rect x="282.8" y="353.4" width="3.9" height="3.7" fill="#a4ccff"/><rect x="333.4" y="334.8" width="3.9" height="3.7" fill="#a4ccff"/><rect x="321.8" y="342.2" width="3.9" height="3.7" fill="#a4ccff"/><rect x="364.6" y="342.2" width="3.9" height="3.7" fill="#b8d4ff"/><rect x="384.1" y="312.6" width="3.9" height="3.7" fill="#ced8ff"/><rect x="274.9" y="375.6" width="3.9" height="3.7" fill="#ced8ff"/><rect x="251.6" y="316.3" width="3.9" height="3.7" fill="#ced8ff"/><rect x="399.8" y="279.3" width="3.9" height="3.7" fill="#70cc78"/><rect x="255.4" y="294.1" width="3.9" height="3.7" fill="#ced8ff"/><rect x="391.9" y="331.1" width="3.9" height="3.7" fill="#ced8ff"/><rect x="376.4" y="305.2" width="3.9" height="3.7" fill="#70cc78"/><rect x="349.1" y="379.2" width="3.9" height="3.7" fill="#70cc78"/><rect x="290.6" y="323.8" width="3.9" height="3.7" fill="#b8d4ff"/><rect x="341.2" y="357.1" width="3.9" height="3.7" fill="#ced8ff"/><rect x="364.6" y="360.8" width="3.9" height="3.7" fill="#ced8ff"/><rect x="372.4" y="305.2" width="3.9" height="3.7" fill="#b8d4ff"/><rect x="481.6" y="271.9" width="3.9" height="3.7" fill="#70cc78"/><rect x="360.8" y="349.6" width="3.9" height="3.7" fill="#a4ccff"/><rect x="352.9" y="371.9" width="3.9" height="3.7" fill="#ced8ff"/><rect x="360.8" y="345.9" width="3.9" height="3.7" fill="#a4ccff"/><rect x="407.6" y="290.4" width="3.9" height="3.7" fill="#b8d4ff"/><rect x="286.6" y="327.4" width="3.9" height="3.7" fill="#a4ccff"/><rect x="290.6" y="323.8" width="3.9" height="3.7" fill="#a4ccff"/><rect x="469.9" y="279.3" width="3.9" height="3.7" fill="#ced8ff"/><rect x="321.8" y="331.1" width="3.9" height="3.7" fill="#b8d4ff"/><rect x="306.1" y="360.8" width="3.9" height="3.7" fill="#ced8ff"/><rect x="388.1" y="338.6" width="3.9" height="3.7" fill="#ced8ff"/><rect x="403.6" y="283.1" width="3.9" height="3.7" fill="#a4ccff"/><rect x="310.1" y="320.1" width="3.9" height="3.7" fill="#a4ccff"/><rect x="388.1" y="305.2" width="3.9" height="3.7" fill="#ced8ff"/><rect x="302.2" y="320.1" width="3.9" height="3.7" fill="#a4ccff"/><rect x="345.1" y="379.2" width="3.9" height="3.7" fill="#b8d4ff"/><rect x="298.4" y="345.9" width="3.9" height="3.7" fill="#a4ccff"/><rect x="333.4" y="342.2" width="3.9" height="3.7" fill="#a4ccff"/><rect x="407.6" y="294.1" width="3.9" height="3.7" fill="#ced8ff"/><rect x="251.6" y="320.1" width="3.9" height="3.7" fill="#ced8ff"/><rect x="399.8" y="283.1" width="3.9" height="3.7" fill="#b8d4ff"/><rect x="368.6" y="331.1" width="3.9" height="3.7" fill="#70cc78"/><rect x="267.1" y="327.4" width="3.9" height="3.7" fill="#70cc78"/><rect x="329.6" y="379.2" width="3.9" height="3.7" fill="#ced8ff"/><rect x="286.6" y="375.6" width="3.9" height="3.7" fill="#ced8ff"/><rect x="356.9" y="345.9" width="3.9" height="3.7" fill="#70cc78"/><rect x="337.4" y="342.2" width="3.9" height="3.7" fill="#a4ccff"/><rect x="329.6" y="334.8" width="3.9" height="3.7" fill="#a4ccff"/><rect x="337.4" y="405.1" width="3.9" height="3.7" fill="#ced8ff"/><rect x="356.9" y="323.8" width="3.9" height="3.7" fill="#a4ccff"/><rect x="469.9" y="290.4" width="3.9" height="3.7" fill="#ced8ff"/><rect x="399.8" y="279.3" width="3.9" height="3.7" fill="#a4ccff"/><rect x="271.1" y="368.1" width="3.9" height="3.7" fill="#ced8ff"/><rect x="368.6" y="279.3" width="3.9" height="3.7" fill="#a4ccff"/><rect x="388.1" y="334.8" width="3.9" height="3.7" fill="#ced8ff"/><rect x="356.9" y="349.6" width="3.9" height="3.7" fill="#70cc78"/><rect x="352.9" y="297.8" width="3.9" height="3.7" fill="#a4ccff"/><rect x="251.6" y="301.6" width="3.9" height="3.7" fill="#ced8ff"/><rect x="356.9" y="290.4" width="3.9" height="3.7" fill="#70cc78"/><rect x="427.1" y="290.4" width="3.9" height="3.7" fill="#ced8ff"/><rect x="434.9" y="260.8" width="3.9" height="3.7" fill="#ced8ff"/><rect x="384.1" y="286.8" width="3.9" height="3.7" fill="#ced8ff"/><rect x="372.4" y="283.1" width="3.9" height="3.7" fill="#a4ccff"/><rect x="337.4" y="342.2" width="3.9" height="3.7" fill="#a4ccff"/><rect x="302.2" y="323.8" width="3.9" height="3.7" fill="#a4ccff"/><rect x="368.6" y="271.9" width="3.9" height="3.7" fill="#ced8ff"/><rect x="419.2" y="260.8" width="3.9" height="3.7" fill="#ced8ff"/><rect x="391.9" y="334.8" width="3.9" height="3.7" fill="#ced8ff"/><rect x="477.8" y="257.1" width="3.9" height="3.7" fill="#70cc78"/><rect x="282.8" y="320.1" width="3.9" height="3.7" fill="#70cc78"/><rect x="419.2" y="308.9" width="3.9" height="3.7" fill="#ced8ff"/><rect x="419.2" y="257.1" width="3.9" height="3.7" fill="#ced8ff"/><rect x="380.2" y="305.2" width="3.9" height="3.7" fill="#70cc78"/><rect x="395.9" y="312.6" width="3.9" height="3.7" fill="#ced8ff"/><rect x="333.4" y="371.9" width="3.9" height="3.7" fill="#70cc78"/><rect x="290.6" y="360.8" width="3.9" height="3.7" fill="#b8d4ff"/><rect x="325.6" y="386.6" width="3.9" height="3.7" fill="#ced8ff"/><rect x="466.1" y="260.8" width="3.9" height="3.7" fill="#a4ccff"/><rect x="485.6" y="268.2" width="3.9" height="3.7" fill="#ced8ff"/><rect x="290.6" y="368.1" width="3.9" height="3.7" fill="#ced8ff"/><rect x="286.6" y="353.4" width="3.9" height="3.7" fill="#70cc78"/><rect x="473.9" y="268.2" width="3.9" height="3.7" fill="#a4ccff"/><rect x="321.8" y="368.1" width="3.9" height="3.7" fill="#ced8ff"/><rect x="462.1" y="271.9" width="3.9" height="3.7" fill="#ced8ff"/><rect x="349.1" y="353.4" width="3.9" height="3.7" fill="#70cc78"/><rect x="368.6" y="268.2" width="3.9" height="3.7" fill="#ced8ff"/><rect x="341.2" y="368.1" width="3.9" height="3.7" fill="#70cc78"/><rect x="317.9" y="323.8" width="3.9" height="3.7" fill="#70cc78"/><rect x="290.6" y="360.8" width="3.9" height="3.7" fill="#a4ccff"/><rect x="407.6" y="268.2" width="3.9" height="3.7" fill="#ced8ff"/><rect x="286.6" y="327.4" width="3.9" height="3.7" fill="#a4ccff"/><rect x="407.6" y="290.4" width="3.9" height="3.7" fill="#b8d4ff"/><rect x="442.6" y="271.9" width="3.9" height="3.7" fill="#ced8ff"/><rect x="341.2" y="386.6" width="3.9" height="3.7" fill="#a4ccff"/><rect x="345.1" y="390.4" width="3.9" height="3.7" fill="#ced8ff"/><rect x="372.4" y="297.8" width="3.9" height="3.7" fill="#a4ccff"/><rect x="368.6" y="268.2" width="3.9" height="3.7" fill="#ced8ff"/><rect x="356.9" y="331.1" width="3.9" height="3.7" fill="#a4ccff"/><rect x="345.1" y="371.9" width="3.9" height="3.7" fill="#70cc78"/><rect x="411.4" y="257.1" width="3.9" height="3.7" fill="#ced8ff"/><rect x="481.6" y="264.6" width="3.9" height="3.7" fill="#70cc78"/><rect x="434.9" y="279.3" width="3.9" height="3.7" fill="#ced8ff"/><rect x="469.9" y="290.4" width="3.9" height="3.7" fill="#ced8ff"/><rect x="368.6" y="342.2" width="3.9" height="3.7" fill="#ced8ff"/><rect x="427.1" y="279.3" width="3.9" height="3.7" fill="#ced8ff"/><rect x="345.1" y="294.1" width="3.9" height="3.7" fill="#a4ccff"/><rect x="442.6" y="257.1" width="3.9" height="3.7" fill="#ced8ff"/><rect x="341.2" y="382.9" width="3.9" height="3.7" fill="#70cc78"/><ellipse cx="349.5" cy="348.9" rx="9.0" ry="5.0" fill="#a4ccff"/><ellipse cx="331.2" cy="315.0" rx="9.0" ry="4.5" fill="#a4ccff"/><ellipse cx="295.9" cy="311.5" rx="7.0" ry="3.5" fill="#a4ccff"/><ellipse cx="318.5" cy="328.5" rx="8.0" ry="4.0" fill="#a4ccff"/><ellipse cx="284.6" cy="346.8" rx="6.0" ry="3.0" fill="#a4ccff"/><ellipse cx="341.7" cy="372.2" rx="7" ry="4.5" fill="#8cc0ff"/><rect x="339.2" y="369.7" width="5" height="4" fill="#3c70ff"/><ellipse cx="273.3" cy="332.7" rx="14" ry="10.5" fill="#8cc0ff" transform="rotate(-15 273.3 332.7)"/><ellipse cx="273.3" cy="332.7" rx="11" ry="7.5" fill="#3c64ff" transform="rotate(-15 273.3 332.7)"/><ellipse cx="273.3" cy="332.7" rx="8.5" ry="5.3" fill="#1212d4" transform="rotate(-15 273.3 332.7)"/><path d="M277.5 344.0L286.0 345.4L291.6 351.0L286.0 352.4L280.3 348.2Z" fill="#5a90ff"/><path d="M314.1 420.5L319.5 417.8L329.0 417.8L329.0 425.9L323.5 434.1L319.5 432.7L319.5 424.6Z" fill="#ced8ff"/><path d="M319.5 419.2L326.3 419.2L324.9 424.6L320.2 424.6Z" fill="#a4ccff"/><path d="M345.2 427.3L350.6 427.3L350.6 432.0L345.2 432.0Z" fill="#ced8ff"/><path d="M336.4 438.1L341.8 438.1L342.5 445.6L337.1 445.6Z" fill="#ced8ff"/><path d="M339.8 401.5L349.3 398.8L354.7 402.9L346.6 407.0L341.2 405.6Z" fill="#ced8ff"/><path d="M344.5 411.0L349.3 411.0L349.3 415.1L344.5 415.1Z" fill="#ced8ff"/><path d="M291.7 383.2L296.4 382.6L296.4 386.6L291.7 387.3Z" fill="#ced8ff"/><path d="M12.8 428.9L26.3 427.2L26.3 435.7L12.8 437.4Z" fill="#ced8ff"/><path d="M12.8 459.4L19.6 457.7L23.0 467.9L26.3 473.0L16.2 474.7L12.8 469.6Z" fill="#ced8ff"/><path d="M16.2 483.1L26.3 482.3L26.3 488.2L16.2 489.1Z" fill="#ced8ff"/><path d="M14.5 462.8L19.6 463.7L19.6 469.6L14.5 469.6Z" fill="#a4ccff"/></g></g>
<g transform="translate(590.60 590.60)"><path d="M55.40 40.93V548.90M134.24 40.93V548.90M213.08 40.93V548.90M291.92 40.93V548.90M370.76 40.93V548.90M449.60 40.93V548.90M13.00 542.00H486.30M13.00 457.44H486.30M13.00 372.88H486.30M13.00 288.32H486.30M13.00 203.76H486.30M13.00 119.20H486.30" class="gr"/><text x="55.40" y="309.4" text-anchor="middle" class="gl">-50</text><text x="134.24" y="309.4" text-anchor="middle" class="gl">-48</text><text x="213.08" y="309.4" text-anchor="middle" class="gl">-46</text><text x="291.92" y="309.4" text-anchor="middle" class="gl">-44</text><text x="370.76" y="309.4" text-anchor="middle" class="gl">-42</text><text x="449.60" y="309.4" text-anchor="middle" class="gl">-40</text><text x="232.6" y="542.30" text-anchor="middle" class="gl">30</text><text x="232.6" y="457.74" text-anchor="middle" class="gl">32</text><text x="232.6" y="373.18" text-anchor="middle" class="gl">34</text><text x="232.6" y="288.62" text-anchor="middle" class="gl">36</text><text x="232.6" y="204.06" text-anchor="middle" class="gl">38</text><text x="232.6" y="119.50" text-anchor="middle" class="gl">40</text></g>
<g transform="translate(590.60 590.60)"><rect x="495" y="531.47" width="8.9" height="8.76" fill="#f8f8f8"/><rect x="495" y="523.01" width="8.9" height="8.76" fill="#f0f0f0"/><rect x="495" y="514.55" width="8.9" height="8.76" fill="#e9e9e9"/><rect x="495" y="506.08" width="8.9" height="8.76" fill="#e1e1e1"/><rect x="495" y="497.62" width="8.9" height="8.76" fill="#dadada"/><rect x="495" y="489.16" width="8.9" height="8.76" fill="#d2d2d2"/><rect x="495" y="480.69" width="8.9" height="8.76" fill="#cbcbcb"/><rect x="495" y="472.23" width="8.9" height="8.76" fill="#c3c3c3"/><rect x="495" y="463.77" width="8.9" height="8.76" fill="#bcbcbc"/><rect x="495" y="455.30" width="8.9" height="8.76" fill="#b4b4b4"/><rect x="495" y="446.84" width="8.9" height="8.76" fill="#adadad"/><rect x="495" y="438.38" width="8.9" height="8.76" fill="#a5a5a5"/><rect x="495" y="429.91" width="8.9" height="8.76" fill="#9e9e9e"/><rect x="495" y="421.45" width="8.9" height="8.76" fill="#969696"/><rect x="495" y="412.99" width="8.9" height="8.76" fill="#80e280"/><rect x="495" y="404.52" width="8.9" height="8.76" fill="#7ad87a"/><rect x="495" y="396.06" width="8.9" height="8.76" fill="#74ce74"/><rect x="495" y="387.60" width="8.9" height="8.76" fill="#6ec46e"/><rect x="495" y="379.13" width="8.9" height="8.76" fill="#68ba68"/><rect x="495" y="370.67" width="8.9" height="8.76" fill="#d0d6ff"/><rect x="495" y="362.21" width="8.9" height="8.76" fill="#b8cdff"/><rect x="495" y="353.74" width="8.9" height="8.76" fill="#a0c4ff"/><rect x="495" y="345.28" width="8.9" height="8.76" fill="#78baff"/><rect x="495" y="336.82" width="8.9" height="8.76" fill="#50b0ff"/><rect x="495" y="328.35" width="8.9" height="8.76" fill="#4890ff"/><rect x="495" y="319.89" width="8.9" height="8.76" fill="#4070ff"/><rect x="495" y="311.43" width="8.9" height="8.76" fill="#3850ff"/><rect x="495" y="302.96" width="8.9" height="8.76" fill="#3030ff"/><rect x="495" y="294.50" width="8.9" height="8.76" fill="#1818ff"/><rect x="495" y="286.04" width="8.9" height="8.76" fill="#0000ff"/><rect x="495" y="277.57" width="8.9" height="8.76" fill="#0000f0"/><rect x="495" y="269.11" width="8.9" height="8.76" fill="#0000e0"/><rect x="495" y="260.65" width="8.9" height="8.76" fill="#0000d4"/><rect x="495" y="252.18" width="8.9" height="8.76" fill="#0000c8"/><rect x="495" y="243.72" width="8.9" height="8.76" fill="#ffff00"/><rect x="495" y="235.26" width="8.9" height="8.76" fill="#fff300"/><rect x="495" y="226.79" width="8.9" height="8.76" fill="#ffe800"/><rect x="495" y="218.33" width="8.9" height="8.76" fill="#ffdc00"/><rect x="495" y="209.87" width="8.9" height="8.76" fill="#ffd000"/><rect x="495" y="201.40" width="8.9" height="8.76" fill="#ff9600"/><rect x="495" y="192.94" width="8.9" height="8.76" fill="#ff8e00"/><rect x="495" y="184.48" width="8.9" height="8.76" fill="#ff8600"/><rect x="495" y="176.01" width="8.9" height="8.76" fill="#ff7e00"/><rect x="495" y="167.55" width="8.9" height="8.76" fill="#ff7600"/><rect x="495" y="159.09" width="8.9" height="8.76" fill="#ff4000"/><rect x="495" y="150.62" width="8.9" height="8.76" fill="#ff3600"/><rect x="495" y="142.16" width="8.9" height="8.76" fill="#ff2c00"/><rect x="495" y="133.70" width="8.9" height="8.76" fill="#ff2200"/><rect x="495" y="125.23" width="8.9" height="8.76" fill="#ff1800"/><rect x="495" y="116.77" width="8.9" height="8.76" fill="#cc0000"/><rect x="495" y="108.31" width="8.9" height="8.76" fill="#c20400"/><rect x="495" y="99.84" width="8.9" height="8.76" fill="#b80800"/><rect x="495" y="91.38" width="8.9" height="8.76" fill="#ae0c00"/><rect x="495" y="82.92" width="8.9" height="8.76" fill="#a41000"/><rect x="495" y="74.45" width="8.9" height="8.76" fill="#601008"/><rect x="495" y="65.99" width="8.9" height="8.76" fill="#5d120c"/><rect x="495" y="57.53" width="8.9" height="8.76" fill="#5a1511"/><rect x="495" y="49.06" width="8.9" height="8.76" fill="#571816"/><rect x="495" y="40.60" width="8.9" height="8.76" fill="#541a1a"/><path d="M503.9 548.40h2" stroke="#222" stroke-width="1"/><text x="524.0" y="557.00" text-anchor="middle" class="cb">315</text><path d="M503.9 497.62h2" stroke="#222" stroke-width="1"/><text x="524.0" y="506.22" text-anchor="middle" class="cb">306</text><path d="M503.9 446.84h2" stroke="#222" stroke-width="1"/><text x="524.0" y="455.44" text-anchor="middle" class="cb">297</text><path d="M503.9 396.06h2" stroke="#222" stroke-width="1"/><text x="524.0" y="404.66" text-anchor="middle" class="cb">288</text><path d="M503.9 345.28h2" stroke="#222" stroke-width="1"/><text x="524.0" y="353.88" text-anchor="middle" class="cb">279</text><path d="M503.9 294.50h2" stroke="#222" stroke-width="1"/><text x="524.0" y="303.10" text-anchor="middle" class="cb">270</text><path d="M503.9 243.72h2" stroke="#222" stroke-width="1"/><text x="524.0" y="252.32" text-anchor="middle" class="cb">261</text><path d="M503.9 192.94h2" stroke="#222" stroke-width="1"/><text x="524.0" y="201.54" text-anchor="middle" class="cb">252</text><path d="M503.9 142.16h2" stroke="#222" stroke-width="1"/><text x="524.0" y="150.76" text-anchor="middle" class="cb">243</text><path d="M503.9 91.38h2" stroke="#222" stroke-width="1"/><text x="524.0" y="99.98" text-anchor="middle" class="cb">234</text></g>
<g transform="translate(590.60 590.60)"><path d="M13 519.6Q245 437.8 477.1 382.7" class="sw"/><path d="M224.4 548.4Q355.3 506.8 486.2 477.3" class="sw"/><path d="M242.8 294.7h13.2M249.4 288.2v13" stroke="#000" stroke-width="4.6" fill="none"/><text x="43.5" y="66.4" class="tt">37GHz PCT (K)</text><text x="438.6" y="522.4" class="lt">(e)</text></g>
<g transform="translate(1181.20 590.60)"><path d="M251.8 338.6L258.5 329.1L265.8 328.2L276.6 324.2L281.1 325.5L282.0 328.2L285.6 329.1L286.6 335.5L288.8 336.4L285.6 343.6L288.4 344.5L287.5 348.1L290.2 349.0L288.4 351.7L285.6 350.8L282.0 348.1L281.1 346.3L276.6 343.6L273.0 344.5L269.4 342.7L265.8 343.6L258.5 340.9L254.9 340.9Z" fill="#98f098" stroke="#98f098" stroke-width="4.2" stroke-linejoin="round"/><path d="M251.8 338.6L258.5 329.1L265.8 328.2L276.6 324.2L281.1 325.5L282.0 328.2L285.6 329.1L286.6 335.5L288.8 336.4L285.6 343.6L288.4 344.5L287.5 348.1L290.2 349.0L288.4 351.7L285.6 350.8L282.0 348.1L281.1 346.3L276.6 343.6L273.0 344.5L269.4 342.7L265.8 343.6L258.5 340.9L254.9 340.9Z" fill="#74d67c" stroke="#0a0a0a" stroke-width="1.5" stroke-linejoin="round"/><path d="M262.2 333.7L269.4 329.1L276.6 327.3L282.0 330.1L283.8 334.6L280.2 339.1L273.0 340.9L267.6 340.0L264.0 337.3Z" fill="#b4ccff"/><path d="M264.9 334.6L271.2 331.9L274.8 333.7L272.1 337.3L266.7 338.2Z" fill="#5aa0ff"/><path d="M273.0 331.9L281.1 329.1L282.0 331.0L274.8 333.7Z" fill="#74d67c"/><path d="M272.1 337.3L282.0 333.7L282.9 335.5L273.9 339.1Z" fill="#74d67c"/><path d="M270.3 357.6L289.3 358.1L283.8 373.4L281.1 373.4L280.2 369.8L277.5 368.9L276.6 365.3L273.9 364.4L273.0 360.8Z" fill="#98f098" stroke="#98f098" stroke-width="4.2" stroke-linejoin="round"/><path d="M270.3 357.6L289.3 358.1L283.8 373.4L281.1 373.4L280.2 369.8L277.5 368.9L276.6 365.3L273.9 364.4L273.0 360.8Z" fill="#74d67c" stroke="#0a0a0a" stroke-width="1.5" stroke-linejoin="round"/><path d="M333.1 367.1L348.9 368.4L348.9 374.3L351.6 374.8L351.1 380.6L349.3 381.1L348.9 391.5L347.1 391.5L347.1 387.0L344.4 386.1L348.9 382.4L346.2 379.7L343.5 378.8L341.7 377.0L335.3 379.7L334.4 383.3L333.1 383.3L334.0 376.1L335.3 372.5L332.6 369.8Z" fill="#98f098" stroke="#98f098" stroke-width="4.2" stroke-linejoin="round"/><path d="M333.1 367.1L348.9 368.4L348.9 374.3L351.6 374.8L351.1 380.6L349.3 381.1L348.9 391.5L347.1 391.5L347.1 387.0L344.4 386.1L348.9 382.4L346.2 379.7L343.5 378.8L341.7 377.0L335.3 379.7L334.4 383.3L333.1 383.3L334.0 376.1L335.3 372.5L332.6 369.8Z" fill="#74d67c" stroke="#0a0a0a" stroke-width="1.5" stroke-linejoin="round"/><path d="M338.0 372.1L344.4 371.2L343.9 374.8L338.5 375.2Z" fill="#b4ccff"/><path d="M315.9 422.2L319.1 418.6L326.3 416.8L327.2 421.3L326.7 426.7L322.7 429.0L321.8 433.0L320.4 429.4L316.8 427.2Z" fill="#98f098" stroke="#98f098" stroke-width="4.2" stroke-linejoin="round"/><path d="M315.9 422.2L319.1 418.6L326.3 416.8L327.2 421.3L326.7 426.7L322.7 429.0L321.8 433.0L320.4 429.4L316.8 427.2Z" fill="#74d67c" stroke="#0a0a0a" stroke-width="1.5" stroke-linejoin="round"/><path d="M342.6 402.3L348.9 401.0L348.4 406.8L346.2 406.8L345.7 404.1Z" fill="#98f098" stroke="#98f098" stroke-width="4.2" stroke-linejoin="round"/><path d="M342.6 402.3L348.9 401.0L348.4 406.8L346.2 406.8L345.7 404.1Z" fill="#74d67c" stroke="#0a0a0a" stroke-width="1.5" stroke-linejoin="round"/><ellipse cx="257.2" cy="313.3" rx="3.8" ry="1.9" transform="rotate(-35 257.2 313.3)" fill="#98f098"/><ellipse cx="257.2" cy="313.3" rx="2.6" ry="0.7" transform="rotate(-35 257.2 313.3)" fill="#0c140c"/><ellipse cx="258.5" cy="316.0" rx="2.7" ry="1.8" transform="rotate(-35 258.5 316.0)" fill="#98f098"/><ellipse cx="258.5" cy="316.0" rx="1.5" ry="0.6" transform="rotate(-35 258.5 316.0)" fill="#0c140c"/><ellipse cx="260.4" cy="319.7" rx="3.6" ry="1.8" transform="rotate(-30 260.4 319.7)" fill="#98f098"/><ellipse cx="260.4" cy="319.7" rx="2.4" ry="0.6" transform="rotate(-30 260.4 319.7)" fill="#0c140c"/><ellipse cx="293.3" cy="308.8" rx="4.0" ry="2.1" transform="rotate(-60 293.3 308.8)" fill="#98f098"/><ellipse cx="293.3" cy="308.8" rx="2.8" ry="0.9" transform="rotate(-60 293.3 308.8)" fill="#0c140c"/><ellipse cx="294.7" cy="312.4" rx="4.2" ry="2.2" transform="rotate(-60 294.7 312.4)" fill="#98f098"/><ellipse cx="294.7" cy="312.4" rx="3.0" ry="1.0" transform="rotate(-60 294.7 312.4)" fill="#0c140c"/><ellipse cx="294.2" cy="316.0" rx="4.0" ry="2.1" transform="rotate(-55 294.2 316.0)" fill="#98f098"/><ellipse cx="294.2" cy="316.0" rx="2.8" ry="0.9" transform="rotate(-55 294.2 316.0)" fill="#0c140c"/><ellipse cx="295.6" cy="319.2" rx="3.2" ry="1.9" transform="rotate(-50 295.6 319.2)" fill="#98f098"/><ellipse cx="295.6" cy="319.2" rx="2.0" ry="0.7" transform="rotate(-50 295.6 319.2)" fill="#0c140c"/><ellipse cx="330.4" cy="312.0" rx="4.8" ry="2.0" transform="rotate(25 330.4 312.0)" fill="#98f098"/><ellipse cx="330.4" cy="312.0" rx="3.6" ry="0.8" transform="rotate(25 330.4 312.0)" fill="#0c140c"/><ellipse cx="332.2" cy="314.2" rx="5.0" ry="2.0" transform="rotate(25 332.2 314.2)" fill="#98f098"/><ellipse cx="332.2" cy="314.2" rx="3.8" ry="0.8" transform="rotate(25 332.2 314.2)" fill="#0c140c"/><ellipse cx="334.0" cy="316.5" rx="4.8" ry="2.0" transform="rotate(25 334.0 316.5)" fill="#98f098"/><ellipse cx="334.0" cy="316.5" rx="3.6" ry="0.8" transform="rotate(25 334.0 316.5)" fill="#0c140c"/><ellipse cx="335.3" cy="318.5" rx="3.8" ry="1.9" transform="rotate(25 335.3 318.5)" fill="#98f098"/><ellipse cx="335.3" cy="318.5" rx="2.6" ry="0.7" transform="rotate(25 335.3 318.5)" fill="#0c140c"/><ellipse cx="309.1" cy="329.6" rx="3.8" ry="1.9" transform="rotate(-50 309.1 329.6)" fill="#98f098"/><ellipse cx="309.1" cy="329.6" rx="2.6" ry="0.7" transform="rotate(-50 309.1 329.6)" fill="#0c140c"/><ellipse cx="273.5" cy="351.9" rx="2.8" ry="1.9" transform="rotate(-50 273.5 351.9)" fill="#98f098"/><ellipse cx="273.5" cy="351.9" rx="1.6" ry="0.7" transform="rotate(-50 273.5 351.9)" fill="#0c140c"/><ellipse cx="306.0" cy="401.4" rx="1.9" ry="2.8" transform="rotate(-10 306.0 401.4)" fill="#98f098"/><ellipse cx="306.0" cy="401.4" rx="0.7" ry="1.6" transform="rotate(-10 306.0 401.4)" fill="#0c140c"/><ellipse cx="310.9" cy="406.8" rx="1.9" ry="3.2" transform="rotate(0 310.9 406.8)" fill="#98f098"/><ellipse cx="310.9" cy="406.8" rx="0.7" ry="2.0" transform="rotate(0 310.9 406.8)" fill="#0c140c"/><ellipse cx="344.4" cy="350.6" rx="3.4" ry="1.7" transform="rotate(-20 344.4 350.6)" fill="#98f098"/><ellipse cx="353.2" cy="351.4" rx="3.8" ry="1.7" transform="rotate(-20 353.2 351.4)" fill="#98f098"/><ellipse cx="307.8" cy="326.4" rx="2.8" ry="1.7" transform="rotate(-20 307.8 326.4)" fill="#98f098"/><ellipse cx="14.6" cy="467.7" rx="1.4" ry="2.2" fill="#98f098"/><ellipse cx="14.6" cy="467.7" rx="0.9" ry="1.6" fill="#101810"/><circle cx="18.5" cy="487.7" r="1.1" fill="#60c068"/></g>
<g transform="translate(1181.20 590.60)"><path d="M55.40 40.93V548.90M134.24 40.93V548.90M213.08 40.93V548.90M291.92 40.93V548.90M370.76 40.93V548.90M449.60 40.93V548.90M13.00 542.00H486.30M13.00 457.44H486.30M13.00 372.88H486.30M13.00 288.32H486.30M13.00 203.76H486.30M13.00 119.20H486.30" class="gr"/><text x="55.40" y="309.4" text-anchor="middle" class="gl">-50</text><text x="134.24" y="309.4" text-anchor="middle" class="gl">-48</text><text x="213.08" y="309.4" text-anchor="middle" class="gl">-46</text><text x="291.92" y="309.4" text-anchor="middle" class="gl">-44</text><text x="370.76" y="309.4" text-anchor="middle" class="gl">-42</text><text x="449.60" y="309.4" text-anchor="middle" class="gl">-40</text><text x="232.6" y="542.30" text-anchor="middle" class="gl">30</text><text x="232.6" y="457.74" text-anchor="middle" class="gl">32</text><text x="232.6" y="373.18" text-anchor="middle" class="gl">34</text><text x="232.6" y="288.62" text-anchor="middle" class="gl">36</text><text x="232.6" y="204.06" text-anchor="middle" class="gl">38</text><text x="232.6" y="119.50" text-anchor="middle" class="gl">40</text></g>
<g transform="translate(1181.20 590.60)"><rect x="495" y="531.47" width="8.9" height="8.76" fill="#86e68c"/><rect x="495" y="523.01" width="8.9" height="8.76" fill="#81df86"/><rect x="495" y="514.55" width="8.9" height="8.76" fill="#7cd780"/><rect x="495" y="506.08" width="8.9" height="8.76" fill="#77d07a"/><rect x="495" y="497.62" width="8.9" height="8.76" fill="#72c974"/><rect x="495" y="489.16" width="8.9" height="8.76" fill="#6dc16e"/><rect x="495" y="480.69" width="8.9" height="8.76" fill="#68ba68"/><rect x="495" y="472.23" width="8.9" height="8.76" fill="#d0d6ff"/><rect x="495" y="463.77" width="8.9" height="8.76" fill="#bfd1ff"/><rect x="495" y="455.30" width="8.9" height="8.76" fill="#aecbff"/><rect x="495" y="446.84" width="8.9" height="8.76" fill="#9dc5ff"/><rect x="495" y="438.38" width="8.9" height="8.76" fill="#8bbfff"/><rect x="495" y="429.91" width="8.9" height="8.76" fill="#72b7ff"/><rect x="495" y="421.45" width="8.9" height="8.76" fill="#5dafff"/><rect x="495" y="412.99" width="8.9" height="8.76" fill="#52a6ff"/><rect x="495" y="404.52" width="8.9" height="8.76" fill="#4996ff"/><rect x="495" y="396.06" width="8.9" height="8.76" fill="#437dff"/><rect x="495" y="387.60" width="8.9" height="8.76" fill="#3d62ff"/><rect x="495" y="379.13" width="8.9" height="8.76" fill="#3747ff"/><rect x="495" y="370.67" width="8.9" height="8.76" fill="#2429ff"/><rect x="495" y="362.21" width="8.9" height="8.76" fill="#0809ff"/><rect x="495" y="353.74" width="8.9" height="8.76" fill="#0000ff"/><rect x="495" y="345.28" width="8.9" height="8.76" fill="#0000ff"/><rect x="495" y="336.82" width="8.9" height="8.76" fill="#0000f2"/><rect x="495" y="328.35" width="8.9" height="8.76" fill="#0000e2"/><rect x="495" y="319.89" width="8.9" height="8.76" fill="#0000d5"/><rect x="495" y="311.43" width="8.9" height="8.76" fill="#0000c8"/><rect x="495" y="302.96" width="8.9" height="8.76" fill="#ffff00"/><rect x="495" y="294.50" width="8.9" height="8.76" fill="#fff700"/><rect x="495" y="286.04" width="8.9" height="8.76" fill="#ffef00"/><rect x="495" y="277.57" width="8.9" height="8.76" fill="#ffe800"/><rect x="495" y="269.11" width="8.9" height="8.76" fill="#ffe000"/><rect x="495" y="260.65" width="8.9" height="8.76" fill="#ffd800"/><rect x="495" y="252.18" width="8.9" height="8.76" fill="#ffd000"/><rect x="495" y="243.72" width="8.9" height="8.76" fill="#ff9600"/><rect x="495" y="235.26" width="8.9" height="8.76" fill="#ff9000"/><rect x="495" y="226.79" width="8.9" height="8.76" fill="#ff8900"/><rect x="495" y="218.33" width="8.9" height="8.76" fill="#ff8300"/><rect x="495" y="209.87" width="8.9" height="8.76" fill="#ff7c00"/><rect x="495" y="201.40" width="8.9" height="8.76" fill="#ff7600"/><rect x="495" y="192.94" width="8.9" height="8.76" fill="#ff4000"/><rect x="495" y="184.48" width="8.9" height="8.76" fill="#ff3900"/><rect x="495" y="176.01" width="8.9" height="8.76" fill="#ff3300"/><rect x="495" y="167.55" width="8.9" height="8.76" fill="#ff2c00"/><rect x="495" y="159.09" width="8.9" height="8.76" fill="#ff2500"/><rect x="495" y="150.62" width="8.9" height="8.76" fill="#ff1f00"/><rect x="495" y="142.16" width="8.9" height="8.76" fill="#ff1800"/><rect x="495" y="133.70" width="8.9" height="8.76" fill="#cc0000"/><rect x="495" y="125.23" width="8.9" height="8.76" fill="#c50300"/><rect x="495" y="116.77" width="8.9" height="8.76" fill="#bf0500"/><rect x="495" y="108.31" width="8.9" height="8.76" fill="#b80800"/><rect x="495" y="99.84" width="8.9" height="8.76" fill="#b10b00"/><rect x="495" y="91.38" width="8.9" height="8.76" fill="#ab0d00"/><rect x="495" y="82.92" width="8.9" height="8.76" fill="#a41000"/><rect x="495" y="74.45" width="8.9" height="8.76" fill="#601008"/><rect x="495" y="65.99" width="8.9" height="8.76" fill="#5d120c"/><rect x="495" y="57.53" width="8.9" height="8.76" fill="#5a1511"/><rect x="495" y="49.06" width="8.9" height="8.76" fill="#571816"/><rect x="495" y="40.60" width="8.9" height="8.76" fill="#541a1a"/><path d="M503.9 548.40h2" stroke="#222" stroke-width="1"/><text x="524.0" y="557.00" text-anchor="middle" class="cb">0</text><path d="M503.9 497.62h2" stroke="#222" stroke-width="1"/><text x="524.0" y="506.22" text-anchor="middle" class="cb">6</text><path d="M503.9 446.84h2" stroke="#222" stroke-width="1"/><text x="524.0" y="455.44" text-anchor="middle" class="cb">12</text><path d="M503.9 396.06h2" stroke="#222" stroke-width="1"/><text x="524.0" y="404.66" text-anchor="middle" class="cb">18</text><path d="M503.9 345.28h2" stroke="#222" stroke-width="1"/><text x="524.0" y="353.88" text-anchor="middle" class="cb">24</text><path d="M503.9 294.50h2" stroke="#222" stroke-width="1"/><text x="524.0" y="303.10" text-anchor="middle" class="cb">30</text><path d="M503.9 243.72h2" stroke="#222" stroke-width="1"/><text x="524.0" y="252.32" text-anchor="middle" class="cb">36</text><path d="M503.9 192.94h2" stroke="#222" stroke-width="1"/><text x="524.0" y="201.54" text-anchor="middle" class="cb">42</text><path d="M503.9 142.16h2" stroke="#222" stroke-width="1"/><text x="524.0" y="150.76" text-anchor="middle" class="cb">48</text><path d="M503.9 91.38h2" stroke="#222" stroke-width="1"/><text x="524.0" y="99.98" text-anchor="middle" class="cb">54</text></g>
<g transform="translate(1181.20 590.60)"><path d="M13 519.6Q245 437.8 477.1 382.7" class="sw"/><path d="M224.4 548.4Q355.3 506.8 486.2 477.3" class="sw"/><path d="M242.8 294.7h13.2M249.4 288.2v13" stroke="#000" stroke-width="4.6" fill="none"/><text x="37.3" y="66.4" class="tt">2A12 rainrate (mm/hr)</text><text x="438.6" y="522.4" class="lt">(f)</text></g>
<g transform="translate(0.00 1181.20)"><clipPath id="cg"><path d="M13.0 399.2L55.3 385.1L134.4 358.8L213.2 335.4L292.2 314.5L370.7 291.9L449.5 273.3L486.0 264.7L486.0 548.8L13.0 548.8Z"/></clipPath><path d="M13.0 399.2L55.3 385.1L134.4 358.8L213.2 335.4L292.2 314.5L370.7 291.9L449.5 273.3L486.0 264.7L486.0 548.8L13.0 548.8Z" fill="#e3e3e3"/><g clip-path="url(#cg)"><ellipse cx="300" cy="345" rx="22" ry="10" fill="#000" opacity="0.10" filter="url(#bl6)"/><ellipse cx="345" cy="385" rx="30" ry="14" fill="#000" opacity="0.12" filter="url(#bl6)"/><ellipse cx="400" cy="330" rx="20" ry="16" fill="#000" opacity="0.10" filter="url(#bl6)"/><ellipse cx="330" cy="415" rx="26" ry="10" fill="#000" opacity="0.10" filter="url(#bl6)"/><ellipse cx="395" cy="405" rx="24" ry="12" fill="#000" opacity="0.12" filter="url(#bl6)"/><ellipse cx="250" cy="330" rx="16" ry="8" fill="#000" opacity="0.08" filter="url(#bl6)"/><ellipse cx="440" cy="300" rx="14" ry="10" fill="#000" opacity="0.07" filter="url(#bl6)"/><ellipse cx="465" cy="455" rx="8" ry="7" fill="#000" opacity="0.10" filter="url(#bl6)"/><ellipse cx="310" cy="470" rx="10" ry="6" fill="#000" opacity="0.06" filter="url(#bl6)"/><ellipse cx="60" cy="430" rx="30" ry="14" fill="#000" opacity="0.05" filter="url(#bl6)"/><ellipse cx="150" cy="400" rx="40" ry="12" fill="#000" opacity="0.04" filter="url(#bl6)"/><ellipse cx="120" cy="480" rx="60" ry="25" fill="#fff" opacity="0.35" filter="url(#bl6)"/><ellipse cx="260" cy="500" rx="50" ry="20" fill="#fff" opacity="0.30" filter="url(#bl6)"/><ellipse cx="400" cy="520" rx="50" ry="18" fill="#fff" opacity="0.30" filter="url(#bl6)"/><ellipse cx="200" cy="440" rx="40" ry="14" fill="#fff" opacity="0.25" filter="url(#bl6)"/><clipPath id="cgm"><path d="M316.8 303.6L339.8 298.2L370.3 290.1L398.8 283.3L400.8 287.4L404.9 289.7L408.3 292.1L411.6 294.8L415.7 297.5L418.4 299.5L414.4 300.9L413.0 303.6L415.7 306.3L419.1 307.7L419.8 310.4L415.7 311.4L410.3 310.7L408.3 313.1L409.6 315.8L413.0 318.5L417.1 321.2L418.4 324.3L415.7 326.0L411.6 323.9L407.6 323.9L403.5 324.3L401.5 326.0L404.9 327.3L407.6 330.0L413.0 332.8L413.7 336.1L411.6 338.2L406.9 336.8L403.5 334.8L398.1 334.1L394.7 335.5L392.7 338.2L390.0 341.6L394.0 343.6L395.4 344.9L390.6 345.6L387.2 344.9L387.9 348.3L391.3 351.7L394.7 354.4L393.3 357.8L390.0 359.2L386.6 359.9L383.2 357.8L377.8 355.8L373.7 355.1L375.0 357.8L380.5 361.2L384.5 363.9L389.3 365.3L394.0 367.3L394.7 370.0L391.3 372.1L387.9 370.0L386.6 367.3L381.8 364.6L377.8 366.0L375.0 368.7L376.4 372.1L372.3 374.1L369.6 372.1L369.0 368.0L366.2 367.3L366.2 370.7L363.5 371.4L359.5 368.0L356.1 365.3L353.4 363.9L347.9 363.2L343.9 364.6L341.2 366.6L339.1 363.2L335.7 359.9L330.3 358.5L327.6 355.1L324.2 350.4L318.8 348.3L316.8 344.9L313.4 342.2L316.8 338.8L317.5 334.8L320.2 330.0L320.8 325.3L320.2 321.2L321.5 317.2L319.5 315.1L314.1 315.8L307.3 318.5L305.9 314.5L311.4 311.7L316.8 309.0Z"/></clipPath><path d="M316.8 303.6L339.8 298.2L370.3 290.1L398.8 283.3L400.8 287.4L404.9 289.7L408.3 292.1L411.6 294.8L415.7 297.5L418.4 299.5L414.4 300.9L413.0 303.6L415.7 306.3L419.1 307.7L419.8 310.4L415.7 311.4L410.3 310.7L408.3 313.1L409.6 315.8L413.0 318.5L417.1 321.2L418.4 324.3L415.7 326.0L411.6 323.9L407.6 323.9L403.5 324.3L401.5 326.0L404.9 327.3L407.6 330.0L413.0 332.8L413.7 336.1L411.6 338.2L406.9 336.8L403.5 334.8L398.1 334.1L394.7 335.5L392.7 338.2L390.0 341.6L394.0 343.6L395.4 344.9L390.6 345.6L387.2 344.9L387.9 348.3L391.3 351.7L394.7 354.4L393.3 357.8L390.0 359.2L386.6 359.9L383.2 357.8L377.8 355.8L373.7 355.1L375.0 357.8L380.5 361.2L384.5 363.9L389.3 365.3L394.0 367.3L394.7 370.0L391.3 372.1L387.9 370.0L386.6 367.3L381.8 364.6L377.8 366.0L375.0 368.7L376.4 372.1L372.3 374.1L369.6 372.1L369.0 368.0L366.2 367.3L366.2 370.7L363.5 371.4L359.5 368.0L356.1 365.3L353.4 363.9L347.9 363.2L343.9 364.6L341.2 366.6L339.1 363.2L335.7 359.9L330.3 358.5L327.6 355.1L324.2 350.4L318.8 348.3L316.8 344.9L313.4 342.2L316.8 338.8L317.5 334.8L320.2 330.0L320.8 325.3L320.2 321.2L321.5 317.2L319.5 315.1L314.1 315.8L307.3 318.5L305.9 314.5L311.4 311.7L316.8 309.0Z" fill="#86b2ff"/><g clip-path="url(#cgm)"><path d="M330.3 300.9L370.3 290.1L379.1 288.0L379.8 292.1L384.5 293.5L390.0 293.5L394.0 294.8L396.7 297.5L397.4 300.9L394.0 302.3L390.0 300.9L385.9 299.2L380.5 297.9L376.4 298.9L375.0 300.9L378.4 302.3L381.8 304.3L385.2 307.7L386.6 311.7L390.0 315.8L392.7 319.9L397.4 321.9L396.7 323.9L392.7 324.6L391.3 326.7L388.6 324.6L384.5 324.6L381.1 326.0L380.5 330.0L378.4 334.8L375.0 333.4L371.0 331.4L369.0 328.7L366.2 326.0L364.2 322.9L362.5 324.3L364.2 329.4L366.6 334.1L368.6 338.2L370.0 341.6L375.0 342.2L379.1 342.9L383.2 344.9L383.9 348.3L382.5 352.4L379.8 353.8L377.1 351.7L374.4 349.0L371.0 345.6L368.3 347.0L366.9 349.7L369.6 353.1L371.0 356.5L369.6 358.5L366.2 356.5L362.9 355.8L360.1 357.1L356.8 357.8L352.0 358.5L347.9 357.1L345.2 354.4L347.3 351.7L344.6 349.0L343.2 344.9L341.2 340.9L339.1 338.8L335.1 339.5L331.7 340.9L327.6 341.6L322.9 340.9L320.2 338.8L320.2 334.8L322.2 331.4L325.6 328.0L329.7 325.3L331.7 321.2L333.7 317.8L333.0 313.8L331.0 309.7L330.3 306.3Z" fill="none" stroke="#3c66ff" stroke-width="17" stroke-linejoin="round"/><path d="M330.3 300.9L370.3 290.1L379.1 288.0L379.8 292.1L384.5 293.5L390.0 293.5L394.0 294.8L396.7 297.5L397.4 300.9L394.0 302.3L390.0 300.9L385.9 299.2L380.5 297.9L376.4 298.9L375.0 300.9L378.4 302.3L381.8 304.3L385.2 307.7L386.6 311.7L390.0 315.8L392.7 319.9L397.4 321.9L396.7 323.9L392.7 324.6L391.3 326.7L388.6 324.6L384.5 324.6L381.1 326.0L380.5 330.0L378.4 334.8L375.0 333.4L371.0 331.4L369.0 328.7L366.2 326.0L364.2 322.9L362.5 324.3L364.2 329.4L366.6 334.1L368.6 338.2L370.0 341.6L375.0 342.2L379.1 342.9L383.2 344.9L383.9 348.3L382.5 352.4L379.8 353.8L377.1 351.7L374.4 349.0L371.0 345.6L368.3 347.0L366.9 349.7L369.6 353.1L371.0 356.5L369.6 358.5L366.2 356.5L362.9 355.8L360.1 357.1L356.8 357.8L352.0 358.5L347.9 357.1L345.2 354.4L347.3 351.7L344.6 349.0L343.2 344.9L341.2 340.9L339.1 338.8L335.1 339.5L331.7 340.9L327.6 341.6L322.9 340.9L320.2 338.8L320.2 334.8L322.2 331.4L325.6 328.0L329.7 325.3L331.7 321.2L333.7 317.8L333.0 313.8L331.0 309.7L330.3 306.3Z" fill="none" stroke="#1426e6" stroke-width="9" stroke-linejoin="round"/><path d="M329.0 347.7L333.0 347.0L335.7 350.4L333.7 353.1L331.7 355.1L338.5 359.2L341.2 363.9L341.2 366.6L339.1 363.2L335.7 359.9L330.3 358.5L327.6 355.1L325.6 351.7Z" fill="#78cc80"/><path d="M396.7 287.4L399.4 285.3L401.5 288.0L398.1 289.4Z" fill="#78cc80"/><path d="M411.6 296.2L415.7 298.2L413.7 300.9L411.6 300.2Z" fill="#78cc80"/></g><path d="M316.8 303.6L339.8 298.2L370.3 290.1L398.8 283.3L400.8 287.4L404.9 289.7L408.3 292.1L411.6 294.8L415.7 297.5L418.4 299.5L414.4 300.9L413.0 303.6L415.7 306.3L419.1 307.7L419.8 310.4L415.7 311.4L410.3 310.7L408.3 313.1L409.6 315.8L413.0 318.5L417.1 321.2L418.4 324.3L415.7 326.0L411.6 323.9L407.6 323.9L403.5 324.3L401.5 326.0L404.9 327.3L407.6 330.0L413.0 332.8L413.7 336.1L411.6 338.2L406.9 336.8L403.5 334.8L398.1 334.1L394.7 335.5L392.7 338.2L390.0 341.6L394.0 343.6L395.4 344.9L390.6 345.6L387.2 344.9L387.9 348.3L391.3 351.7L394.7 354.4L393.3 357.8L390.0 359.2L386.6 359.9L383.2 357.8L377.8 355.8L373.7 355.1L375.0 357.8L380.5 361.2L384.5 363.9L389.3 365.3L394.0 367.3L394.7 370.0L391.3 372.1L387.9 370.0L386.6 367.3L381.8 364.6L377.8 366.0L375.0 368.7L376.4 372.1L372.3 374.1L369.6 372.1L369.0 368.0L366.2 367.3L366.2 370.7L363.5 371.4L359.5 368.0L356.1 365.3L353.4 363.9L347.9 363.2L343.9 364.6L341.2 366.6L339.1 363.2L335.7 359.9L330.3 358.5L327.6 355.1L324.2 350.4L318.8 348.3L316.8 344.9L313.4 342.2L316.8 338.8L317.5 334.8L320.2 330.0L320.8 325.3L320.2 321.2L321.5 317.2L319.5 315.1L314.1 315.8L307.3 318.5L305.9 314.5L311.4 311.7L316.8 309.0Z" fill="none" stroke="#0a0a0a" stroke-width="1.8" stroke-linejoin="round"/><path d="M330.3 300.9L370.3 290.1L379.1 288.0L379.8 292.1L384.5 293.5L390.0 293.5L394.0 294.8L396.7 297.5L397.4 300.9L394.0 302.3L390.0 300.9L385.9 299.2L380.5 297.9L376.4 298.9L375.0 300.9L378.4 302.3L381.8 304.3L385.2 307.7L386.6 311.7L390.0 315.8L392.7 319.9L397.4 321.9L396.7 323.9L392.7 324.6L391.3 326.7L388.6 324.6L384.5 324.6L381.1 326.0L380.5 330.0L378.4 334.8L375.0 333.4L371.0 331.4L369.0 328.7L366.2 326.0L364.2 322.9L362.5 324.3L364.2 329.4L366.6 334.1L368.6 338.2L370.0 341.6L375.0 342.2L379.1 342.9L383.2 344.9L383.9 348.3L382.5 352.4L379.8 353.8L377.1 351.7L374.4 349.0L371.0 345.6L368.3 347.0L366.9 349.7L369.6 353.1L371.0 356.5L369.6 358.5L366.2 356.5L362.9 355.8L360.1 357.1L356.8 357.8L352.0 358.5L347.9 357.1L345.2 354.4L347.3 351.7L344.6 349.0L343.2 344.9L341.2 340.9L339.1 338.8L335.1 339.5L331.7 340.9L327.6 341.6L322.9 340.9L320.2 338.8L320.2 334.8L322.2 331.4L325.6 328.0L329.7 325.3L331.7 321.2L333.7 317.8L333.0 313.8L331.0 309.7L330.3 306.3Z" fill="#ffe000" stroke="#0a0a0a" stroke-width="1.8" stroke-linejoin="round"/><path d="M347.9 320.6L353.4 319.9L358.8 323.9L362.9 328.0L362.2 331.4L357.4 331.4L353.4 328.0L350.0 324.6Z" fill="#ff9216"/><path d="M322.2 331.4L326.3 328.7L330.3 330.0L330.3 334.8L327.6 338.2L323.6 338.2L320.8 336.1Z" fill="#ff9216"/><path d="M357.4 334.1L362.9 333.4L367.6 336.1L368.3 339.5L364.2 340.9L359.5 340.2L357.4 337.5Z" fill="#ff9216"/><path d="M341.8 338.2L345.9 338.2L349.3 341.6L350.7 344.9L347.9 345.6L344.6 343.6L342.5 340.9Z" fill="#ff9216"/><path d="M359.5 349.0L363.5 348.3L367.6 351.0L369.6 355.1L366.2 355.1L362.2 353.1Z" fill="#ff9216"/><path d="M346.6 334.8L350.7 334.8L353.4 336.8L355.4 340.2L356.1 342.9L359.5 343.6L358.8 347.0L357.4 350.4L356.8 353.8L354.7 352.4L354.7 349.0L352.0 345.6L350.7 341.6L348.6 338.2Z" fill="#3c66ff" stroke="#0a0a0a" stroke-width="1.7" stroke-linejoin="round"/><path d="M326.3 368.0L330.3 366.6L335.7 368.7L341.2 369.3L343.9 371.4L341.8 374.1L347.9 375.4L353.4 378.2L354.7 380.9L350.7 382.2L349.3 384.9L341.8 384.9L339.1 379.5L334.4 376.8L329.7 376.1L326.9 374.1L328.3 370.7Z" fill="#3c66ff" stroke="#0a0a0a" stroke-width="1.8" stroke-linejoin="round"/><path d="M401.5 325.3L406.2 324.3L411.6 327.3L419.8 328.7L421.1 330.7L415.7 331.4L408.9 330.0L404.9 328.7Z" fill="#9db8e8" stroke="#0a0a0a" stroke-width="1.7" stroke-linejoin="round"/><path d="M369.6 368.7L375.0 369.3L376.4 372.1L372.3 374.1L369.6 372.1Z" fill="#c8dcf0" stroke="#0a0a0a" stroke-width="1.7" stroke-linejoin="round"/><path d="M387.9 366.6L392.7 366.0L394.7 368.7L391.3 371.4L387.9 370.0Z" fill="#c8dcf0" stroke="#0a0a0a" stroke-width="1.7" stroke-linejoin="round"/><path d="M261.8 319.6L290.7 311.3L316.1 304.4L335.0 299.3L335.0 304.9L326.3 314.0L321.2 318.1L318.2 317.1L311.1 319.1L306.0 321.2L305.0 323.2L302.9 325.2L302.4 328.8L298.9 329.3L292.8 330.3L288.2 331.8L283.1 334.4L280.1 336.4L280.6 338.9L283.6 338.9L287.2 338.9L288.7 341.5L287.2 344.5L285.1 347.1L282.6 350.1L278.0 349.6L275.5 348.6L274.5 344.5L275.5 342.0L277.0 339.5L275.5 338.4L272.4 337.4L270.4 336.4L268.9 338.9L266.3 338.4L262.8 337.9L259.7 338.9L257.7 336.4L257.2 334.4L259.2 331.3L260.2 328.3L259.7 324.2L261.8 322.7Z" fill="#3c66ff"/><clipPath id="cgl"><path d="M261.8 319.6L290.7 311.3L316.1 304.4L335.0 299.3L335.0 304.9L326.3 314.0L321.2 318.1L318.2 317.1L311.1 319.1L306.0 321.2L305.0 323.2L302.9 325.2L302.4 328.8L298.9 329.3L292.8 330.3L288.2 331.8L283.1 334.4L280.1 336.4L280.6 338.9L283.6 338.9L287.2 338.9L288.7 341.5L287.2 344.5L285.1 347.1L282.6 350.1L278.0 349.6L275.5 348.6L274.5 344.5L275.5 342.0L277.0 339.5L275.5 338.4L272.4 337.4L270.4 336.4L268.9 338.9L266.3 338.4L262.8 337.9L259.7 338.9L257.7 336.4L257.2 334.4L259.2 331.3L260.2 328.3L259.7 324.2L261.8 322.7Z"/></clipPath><g clip-path="url(#cgl)"><path d="M261.8 319.6L290.7 311.3L316.1 304.4L335.0 299.3L335.0 304.9L326.3 314.0L321.2 318.1L318.2 317.1L311.1 319.1L306.0 321.2L305.0 323.2L302.9 325.2L302.4 328.8L298.9 329.3L292.8 330.3L288.2 331.8L283.1 334.4L280.1 336.4L280.6 338.9L283.6 338.9L287.2 338.9L288.7 341.5L287.2 344.5L285.1 347.1L282.6 350.1L278.0 349.6L275.5 348.6L274.5 344.5L275.5 342.0L277.0 339.5L275.5 338.4L272.4 337.4L270.4 336.4L268.9 338.9L266.3 338.4L262.8 337.9L259.7 338.9L257.7 336.4L257.2 334.4L259.2 331.3L260.2 328.3L259.7 324.2L261.8 322.7Z" fill="none" stroke="#86b2ff" stroke-width="5"/></g><path d="M261.8 319.6L290.7 311.3L316.1 304.4L335.0 299.3L335.0 304.9L326.3 314.0L321.2 318.1L318.2 317.1L311.1 319.1L306.0 321.2L305.0 323.2L302.9 325.2L302.4 328.8L298.9 329.3L292.8 330.3L288.2 331.8L283.1 334.4L280.1 336.4L280.6 338.9L283.6 338.9L287.2 338.9L288.7 341.5L287.2 344.5L285.1 347.1L282.6 350.1L278.0 349.6L275.5 348.6L274.5 344.5L275.5 342.0L277.0 339.5L275.5 338.4L272.4 337.4L270.4 336.4L268.9 338.9L266.3 338.4L262.8 337.9L259.7 338.9L257.7 336.4L257.2 334.4L259.2 331.3L260.2 328.3L259.7 324.2L261.8 322.7Z" fill="none" stroke="#0a0a0a" stroke-width="1.8" stroke-linejoin="round"/><path d="M263.8 319.9L290.7 311.3L316.1 304.4L325.3 302.4L322.2 306.9L318.2 309.0L318.2 312.5L316.1 315.1L312.1 315.1L309.5 313.0L307.0 311.5L305.0 314.0L300.9 315.6L300.4 319.1L301.9 322.7L302.4 326.2L299.9 327.8L295.8 326.7L294.8 323.7L290.7 322.7L286.7 322.7L288.2 325.2L289.2 328.3L288.2 330.8L283.6 332.3L279.6 333.9L275.5 334.9L273.5 333.4L271.4 331.3L269.9 333.4L266.9 334.4L264.3 333.4L262.8 330.3L261.8 327.3L263.3 323.2Z" fill="#ffe000" stroke="#0a0a0a" stroke-width="1.8" stroke-linejoin="round"/><path d="M263.8 319.9L290.7 311.3L306.0 307.2L303.9 310.5L300.9 315.6L300.4 319.1L301.9 322.7L302.4 326.2L299.9 327.8L295.8 326.7L294.8 323.7L290.7 319.1L287.7 318.1L285.7 321.2L282.6 324.2L280.6 327.3L283.6 332.3L279.6 333.9L275.5 334.4L273.5 331.3L271.4 329.3L268.9 331.8L265.3 331.3L262.8 329.3L262.3 327.3L263.3 323.2Z" fill="#ff9216"/><path d="M282.6 317.6L287.2 316.6L288.7 319.1L285.1 322.7L281.6 326.2L279.6 329.3L277.5 327.3L280.1 322.7Z" fill="#ffd21a"/><path d="M269.4 317.1L275.5 315.6L276.5 319.1L271.4 320.7Z" fill="#ff5a14"/><path d="M278.0 342.0L284.6 341.0L287.2 340.0L284.6 343.5L281.6 347.1L279.6 347.6L278.5 344.5Z" fill="#ff9216" stroke="#0a0a0a" stroke-width="1.0" stroke-linejoin="round"/><path d="M293.8 350.1L295.8 349.6L299.4 349.1L300.4 347.1L305.0 345.6L309.0 345.6L310.6 347.6L311.1 350.6L312.1 352.7L311.6 355.2L308.5 355.2L306.0 356.7L302.4 356.2L298.9 357.2L296.8 359.3L293.8 359.8L293.3 356.7L293.8 353.2Z" fill="#2a44c8" stroke="#0a0a0a" stroke-width="1.4" stroke-linejoin="round"/><path d="M295.3 353.2L299.9 352.7L301.4 350.1L306.0 349.1L309.0 348.6L309.0 351.7L306.5 353.2L303.4 353.7L300.4 354.7L297.9 356.2L295.8 355.7Z" fill="#ffe000" stroke="#0a0a0a" stroke-width="0.8" stroke-linejoin="round"/><path d="M301.4 350.4L308.5 349.4L308.5 351.7L302.4 352.7Z" fill="#ff9216"/><ellipse cx="254.7" cy="328.8" rx="2.3" ry="4.6" transform="rotate(15 254.7 328.8)" fill="#3c66ff" stroke="#0a0a0a" stroke-width="1.2"/><ellipse cx="276.5" cy="357.7" rx="2.2" ry="2.0" transform="rotate(0 276.5 357.7)" fill="#86b2ff" stroke="#0a0a0a" stroke-width="1.2"/><ellipse cx="279.6" cy="361.3" rx="3.2" ry="2.0" transform="rotate(-40 279.6 361.3)" fill="#3c66ff" stroke="#0a0a0a" stroke-width="1.2"/><ellipse cx="275.5" cy="363.8" rx="1.8" ry="1.4" transform="rotate(0 275.5 363.8)" fill="#86b2ff" stroke="#0a0a0a" stroke-width="1.2"/><ellipse cx="269.9" cy="363.3" rx="2.4" ry="1.6" transform="rotate(-20 269.9 363.3)" fill="#203080" stroke="#0a0a0a" stroke-width="1.2"/><ellipse cx="275.5" cy="370.7" rx="2.3" ry="1.8" transform="rotate(-30 275.5 370.7)" fill="#86b2ff" stroke="#0a0a0a" stroke-width="1.2"/><circle cx="248.0" cy="337.4" r="1.4" fill="#0a0a0a"/><circle cx="266.9" cy="320.7" r="1.2" fill="#0a0a0a"/><circle cx="284.1" cy="316.1" r="1.0" fill="#0a0a0a"/><circle cx="278.0" cy="328.3" r="1.7" fill="#0a0a0a"/><circle cx="264.8" cy="331.3" r="1.3" fill="#0a0a0a"/><circle cx="314.1" cy="322.4" r="1.3" fill="#0a0a0a"/><circle cx="322.2" cy="320.1" r="1.0" fill="#0a0a0a"/><circle cx="322.2" cy="345.6" r="1.3" fill="#0a0a0a"/><circle cx="331.4" cy="336.9" r="1.0" fill="#0a0a0a"/><path d="M334.8 422.0L337.9 418.1L341.1 411.0L344.3 406.2L350.6 407.0L358.5 405.4L366.4 406.2L369.6 409.4L372.7 413.3L375.1 418.1L375.9 422.8L374.3 426.0L369.6 427.6L375.9 429.1L383.0 430.7L387.0 432.3L382.2 434.7L380.6 439.4L383.8 442.6L380.6 444.9L378.3 448.1L372.7 446.5L367.2 444.9L360.9 444.2L355.3 442.6L350.6 440.2L345.8 438.6L341.1 435.5L337.2 432.3L334.8 427.6Z" fill="#3c66ff" stroke="#0a0a0a" stroke-width="1.8" stroke-linejoin="round"/><path d="M337.2 429.1L341.1 428.3L347.4 433.9L352.2 438.6L347.4 438.6L341.1 435.5Z" fill="#86b2ff"/><path d="M369.6 411.0L373.5 414.9L375.1 421.2L371.1 424.4L369.6 418.1Z" fill="#86b2ff"/><path d="M338.7 416.5L347.4 418.9L358.5 422.8L355.3 426.8L350.6 427.6L347.4 422.8L341.1 419.6Z" fill="#e0e0e0" stroke="#0a0a0a" stroke-width="1.1" stroke-linejoin="round"/><path d="M355.3 436.3L360.1 433.9L364.8 429.9L371.1 429.9L375.9 432.3L375.1 436.3L378.3 437.8L375.9 441.0L374.3 443.4L368.0 443.4L362.5 441.8L358.5 439.4Z" fill="#ff9216" stroke="#0a0a0a" stroke-width="1.7" stroke-linejoin="round"/><path d="M347.4 411.7L352.2 409.4L356.9 408.6L358.5 412.5L363.2 410.2L365.6 411.7L368.0 415.7L368.0 422.0L363.2 422.0L360.9 418.1L358.5 415.7L353.8 416.5L350.6 414.9Z" fill="#ffe000" stroke="#0a0a0a" stroke-width="1.7" stroke-linejoin="round"/><path d="M347.4 411.7L352.2 409.4L356.9 408.6L357.7 412.5L353.8 414.9L350.6 414.1Z" fill="#ff9216"/><path d="M360.9 414.9L364.0 412.5L366.4 416.5L365.6 420.4L363.2 419.6Z" fill="#ff9216"/><path d="M310.3 425.2L312.6 421.2L317.4 418.1L323.7 416.5L326.1 413.3L327.7 411.0L331.6 411.7L337.2 413.3L337.9 418.1L336.4 422.8L331.6 424.4L326.1 423.6L321.3 424.4L319.8 428.3L316.6 427.6L313.4 424.4Z" fill="#5a94f4" stroke="#0a0a0a" stroke-width="1.8" stroke-linejoin="round"/><path d="M326.9 417.3L331.6 415.7L335.6 418.1L337.2 421.2L333.2 423.6L330.0 421.2L327.7 419.6Z" fill="#ff9216" stroke="#0a0a0a" stroke-width="1.0" stroke-linejoin="round"/><path d="M370.4 405.4L374.3 403.0L379.1 401.5L375.9 397.5L374.3 395.9L377.5 394.4L382.2 396.7L386.2 395.1L390.9 396.7L393.3 399.9L392.5 405.4L393.3 409.4L391.7 412.5L387.0 412.5L383.8 408.6L379.1 406.2L374.3 407.0Z" fill="#4a78ff" stroke="#0a0a0a" stroke-width="1.8" stroke-linejoin="round"/><path d="M394.1 398.3L396.4 395.1L402.8 395.9L408.3 394.4L413.8 396.7L417.0 400.7L416.2 405.4L414.6 408.6L409.1 407.8L402.8 406.2L396.4 405.4L393.3 403.0Z" fill="#2a48f4" stroke="#0a0a0a" stroke-width="1.8" stroke-linejoin="round"/><path d="M387.7 416.9L394.9 418.1L401.2 417.3L405.1 414.9L410.7 413.3L417.0 414.9L418.6 418.1L426.5 419.6L434.4 418.9L433.6 424.4L426.5 425.2L418.6 424.4L413.8 426.0L409.1 425.2L405.9 427.6L412.3 430.7L418.6 431.5L415.4 433.1L409.1 432.3L404.3 430.7L399.6 426.0L394.9 421.2L390.1 418.9Z" fill="#3c68fa" stroke="#0a0a0a" stroke-width="1.8" stroke-linejoin="round"/><path d="M331.6 443.4L336.4 439.4L339.5 442.6L345.1 443.4L346.6 446.5L341.9 447.3L337.2 448.9L334.8 452.9L333.2 455.2L330.0 452.1L330.8 448.1L332.4 445.7Z" fill="#7cc8a0" stroke="#0a0a0a" stroke-width="1.8" stroke-linejoin="round"/><path d="M337.9 399.9L341.1 396.7L341.9 392.8L345.1 395.1L349.0 394.4L349.8 396.7L345.8 398.3L341.1 399.9Z" fill="#7cc8a0" stroke="#0a0a0a" stroke-width="1.8" stroke-linejoin="round"/><circle cx="305.9" cy="409.0" r="1.4" fill="#0a0a0a"/><circle cx="328.9" cy="390.4" r="1.3" fill="#0a0a0a"/><circle cx="301.2" cy="399.5" r="1.2" fill="#0a0a0a"/><circle cx="311.9" cy="433.1" r="1.8" fill="#0a0a0a"/><circle cx="343.1" cy="386.4" r="1.2" fill="#0a0a0a"/><circle cx="382.2" cy="422.0" r="1.6" fill="#0a0a0a"/><circle cx="379.1" cy="413.3" r="1.1" fill="#0a0a0a"/><circle cx="374.3" cy="409.4" r="1.2" fill="#0a0a0a"/><circle cx="398.0" cy="430.7" r="1.2" fill="#0a0a0a"/><circle cx="393.3" cy="435.5" r="1.5" fill="#0a0a0a"/><circle cx="418.6" cy="402.3" r="1.0" fill="#0a0a0a"/><circle cx="316.6" cy="414.1" r="0.9" fill="#0a0a0a"/><circle cx="426.5" cy="428.3" r="1.0" fill="#0a0a0a"/><ellipse cx="399.2" cy="385.7" rx="1.3" ry="3.2" transform="rotate(-25 399.2 385.7)" fill="#0a0a0a"/><ellipse cx="459.6" cy="275.7" rx="1.2" ry="1.2" transform="rotate(0 459.6 275.7)" fill="#0a0a0a"/><ellipse cx="434.2" cy="326.5" rx="1.7" ry="1.5" transform="rotate(0 434.2 326.5)" fill="#0a0a0a"/><ellipse cx="447.7" cy="332.2" rx="1.8" ry="1.2" transform="rotate(-30 447.7 332.2)" fill="#0a0a0a"/><ellipse cx="444.3" cy="335.0" rx="1.5" ry="1.0" transform="rotate(-20 444.3 335.0)" fill="#0a0a0a"/><ellipse cx="457.3" cy="339.2" rx="1.6" ry="0.8" transform="rotate(40 457.3 339.2)" fill="#0a0a0a"/><ellipse cx="423.5" cy="308.1" rx="2.4" ry="0.8" transform="rotate(-10 423.5 308.1)" fill="#0a0a0a"/><ellipse cx="406.0" cy="371.1" rx="1.0" ry="1.2" transform="rotate(0 406.0 371.1)" fill="#0a0a0a"/><ellipse cx="433.6" cy="431.0" rx="0.9" ry="0.9" transform="rotate(0 433.6 431.0)" fill="#0a0a0a"/><ellipse cx="13.4" cy="437.0" rx="1.0" ry="1.6" transform="rotate(0 13.4 437.0)" fill="#0a0a0a"/><ellipse cx="13.4" cy="461.4" rx="1.0" ry="1.4" transform="rotate(0 13.4 461.4)" fill="#0a0a0a"/><ellipse cx="13.4" cy="479.4" rx="1.0" ry="1.4" transform="rotate(0 13.4 479.4)" fill="#0a0a0a"/></g></g>
<g transform="translate(0.00 1181.20)"><path d="M55.40 40.93V548.90M134.24 40.93V548.90M213.08 40.93V548.90M291.92 40.93V548.90M370.76 40.93V548.90M449.60 40.93V548.90M13.00 542.00H486.30M13.00 457.44H486.30M13.00 372.88H486.30M13.00 288.32H486.30M13.00 203.76H486.30M13.00 119.20H486.30" class="gr"/><text x="55.40" y="309.4" text-anchor="middle" class="gl">-50</text><text x="134.24" y="309.4" text-anchor="middle" class="gl">-48</text><text x="213.08" y="309.4" text-anchor="middle" class="gl">-46</text><text x="291.92" y="309.4" text-anchor="middle" class="gl">-44</text><text x="370.76" y="309.4" text-anchor="middle" class="gl">-42</text><text x="449.60" y="309.4" text-anchor="middle" class="gl">-40</text><text x="232.6" y="542.30" text-anchor="middle" class="gl">30</text><text x="232.6" y="457.74" text-anchor="middle" class="gl">32</text><text x="232.6" y="373.18" text-anchor="middle" class="gl">34</text><text x="232.6" y="288.62" text-anchor="middle" class="gl">36</text><text x="232.6" y="204.06" text-anchor="middle" class="gl">38</text><text x="232.6" y="119.50" text-anchor="middle" class="gl">40</text></g>
<g transform="translate(0.00 1181.20)"><rect x="495" y="531.47" width="8.9" height="8.76" fill="#f8f8f8"/><rect x="495" y="523.01" width="8.9" height="8.76" fill="#f0f0f0"/><rect x="495" y="514.55" width="8.9" height="8.76" fill="#e9e9e9"/><rect x="495" y="506.08" width="8.9" height="8.76" fill="#e1e1e1"/><rect x="495" y="497.62" width="8.9" height="8.76" fill="#dadada"/><rect x="495" y="489.16" width="8.9" height="8.76" fill="#d2d2d2"/><rect x="495" y="480.69" width="8.9" height="8.76" fill="#cbcbcb"/><rect x="495" y="472.23" width="8.9" height="8.76" fill="#c3c3c3"/><rect x="495" y="463.77" width="8.9" height="8.76" fill="#bcbcbc"/><rect x="495" y="455.30" width="8.9" height="8.76" fill="#b4b4b4"/><rect x="495" y="446.84" width="8.9" height="8.76" fill="#adadad"/><rect x="495" y="438.38" width="8.9" height="8.76" fill="#a5a5a5"/><rect x="495" y="429.91" width="8.9" height="8.76" fill="#9e9e9e"/><rect x="495" y="421.45" width="8.9" height="8.76" fill="#969696"/><rect x="495" y="412.99" width="8.9" height="8.76" fill="#80e280"/><rect x="495" y="404.52" width="8.9" height="8.76" fill="#7ad87a"/><rect x="495" y="396.06" width="8.9" height="8.76" fill="#74ce74"/><rect x="495" y="387.60" width="8.9" height="8.76" fill="#6ec46e"/><rect x="495" y="379.13" width="8.9" height="8.76" fill="#68ba68"/><rect x="495" y="370.67" width="8.9" height="8.76" fill="#d0d6ff"/><rect x="495" y="362.21" width="8.9" height="8.76" fill="#b8cdff"/><rect x="495" y="353.74" width="8.9" height="8.76" fill="#a0c4ff"/><rect x="495" y="345.28" width="8.9" height="8.76" fill="#78baff"/><rect x="495" y="336.82" width="8.9" height="8.76" fill="#50b0ff"/><rect x="495" y="328.35" width="8.9" height="8.76" fill="#4890ff"/><rect x="495" y="319.89" width="8.9" height="8.76" fill="#4070ff"/><rect x="495" y="311.43" width="8.9" height="8.76" fill="#3850ff"/><rect x="495" y="302.96" width="8.9" height="8.76" fill="#3030ff"/><rect x="495" y="294.50" width="8.9" height="8.76" fill="#1818ff"/><rect x="495" y="286.04" width="8.9" height="8.76" fill="#0000ff"/><rect x="495" y="277.57" width="8.9" height="8.76" fill="#0000f0"/><rect x="495" y="269.11" width="8.9" height="8.76" fill="#0000e0"/><rect x="495" y="260.65" width="8.9" height="8.76" fill="#0000d4"/><rect x="495" y="252.18" width="8.9" height="8.76" fill="#0000c8"/><rect x="495" y="243.72" width="8.9" height="8.76" fill="#ffff00"/><rect x="495" y="235.26" width="8.9" height="8.76" fill="#fff300"/><rect x="495" y="226.79" width="8.9" height="8.76" fill="#ffe800"/><rect x="495" y="218.33" width="8.9" height="8.76" fill="#ffdc00"/><rect x="495" y="209.87" width="8.9" height="8.76" fill="#ffd000"/><rect x="495" y="201.40" width="8.9" height="8.76" fill="#ff9600"/><rect x="495" y="192.94" width="8.9" height="8.76" fill="#ff8e00"/><rect x="495" y="184.48" width="8.9" height="8.76" fill="#ff8600"/><rect x="495" y="176.01" width="8.9" height="8.76" fill="#ff7e00"/><rect x="495" y="167.55" width="8.9" height="8.76" fill="#ff7600"/><rect x="495" y="159.09" width="8.9" height="8.76" fill="#ff4000"/><rect x="495" y="150.62" width="8.9" height="8.76" fill="#ff3600"/><rect x="495" y="142.16" width="8.9" height="8.76" fill="#ff2c00"/><rect x="495" y="133.70" width="8.9" height="8.76" fill="#ff2200"/><rect x="495" y="125.23" width="8.9" height="8.76" fill="#ff1800"/><rect x="495" y="116.77" width="8.9" height="8.76" fill="#cc0000"/><rect x="495" y="108.31" width="8.9" height="8.76" fill="#c20400"/><rect x="495" y="99.84" width="8.9" height="8.76" fill="#b80800"/><rect x="495" y="91.38" width="8.9" height="8.76" fill="#ae0c00"/><rect x="495" y="82.92" width="8.9" height="8.76" fill="#a41000"/><rect x="495" y="74.45" width="8.9" height="8.76" fill="#601008"/><rect x="495" y="65.99" width="8.9" height="8.76" fill="#5d120c"/><rect x="495" y="57.53" width="8.9" height="8.76" fill="#5a1511"/><rect x="495" y="49.06" width="8.9" height="8.76" fill="#571816"/><rect x="495" y="40.60" width="8.9" height="8.76" fill="#541a1a"/><path d="M503.9 548.40h2" stroke="#222" stroke-width="1"/><text x="524.0" y="557.00" text-anchor="middle" class="cb">304</text><path d="M503.9 497.62h2" stroke="#222" stroke-width="1"/><text x="524.0" y="506.22" text-anchor="middle" class="cb">292</text><path d="M503.9 446.84h2" stroke="#222" stroke-width="1"/><text x="524.0" y="455.44" text-anchor="middle" class="cb">280</text><path d="M503.9 396.06h2" stroke="#222" stroke-width="1"/><text x="524.0" y="404.66" text-anchor="middle" class="cb">268</text><path d="M503.9 345.28h2" stroke="#222" stroke-width="1"/><text x="524.0" y="353.88" text-anchor="middle" class="cb">256</text><path d="M503.9 294.50h2" stroke="#222" stroke-width="1"/><text x="524.0" y="303.10" text-anchor="middle" class="cb">244</text><path d="M503.9 243.72h2" stroke="#222" stroke-width="1"/><text x="524.0" y="252.32" text-anchor="middle" class="cb">232</text><path d="M503.9 192.94h2" stroke="#222" stroke-width="1"/><text x="524.0" y="201.54" text-anchor="middle" class="cb">220</text><path d="M503.9 142.16h2" stroke="#222" stroke-width="1"/><text x="524.0" y="150.76" text-anchor="middle" class="cb">208</text><path d="M503.9 91.38h2" stroke="#222" stroke-width="1"/><text x="524.0" y="99.98" text-anchor="middle" class="cb">196</text></g>
<g transform="translate(0.00 1181.20)"><path d="M13 519.6Q245 437.8 477.1 382.7" class="sw"/><path d="M224.4 548.4Q355.3 506.8 486.2 477.3" class="sw"/><path d="M242.8 294.7h13.2M249.4 288.2v13" stroke="#000" stroke-width="4.6" fill="none"/><text x="37.3" y="66.4" class="tt">VIRS T<tspan x="118.4 128.9 137.3" dy="5.6" style="font-size:14.4px">B11</tspan><tspan x="145.5" dy="-5.6"> (K)</tspan></text><text x="438.6" y="522.4" class="lt">(g)</text></g>
<g transform="translate(590.60 1181.20)"><ellipse cx="310.4" cy="426.5" rx="2.5" ry="1.2" transform="rotate(-15 310.4 426.5)" fill="#ff4000"/><ellipse cx="318.2" cy="422.2" rx="1.2" ry="1.2" fill="#ff4000"/><ellipse cx="309.8" cy="424.3" rx="1.0" ry="1.0" fill="#ff4000"/><ellipse cx="313.2" cy="430.2" rx="1.0" ry="0.9" fill="#ff4000"/><ellipse cx="312.3" cy="432.7" rx="1.0" ry="1.0" fill="#ff4000"/><ellipse cx="300.1" cy="441.1" rx="2.3" ry="2.3" fill="#ff4000"/><ellipse cx="290.2" cy="447.0" rx="1.2" ry="1.1" fill="#ff4000"/><ellipse cx="280.3" cy="462.2" rx="2.0" ry="1.2" transform="rotate(-15 280.3 462.2)" fill="#ff4000"/><ellipse cx="319.1" cy="467.2" rx="2.0" ry="1.0" transform="rotate(-15 319.1 467.2)" fill="#ff4000"/><ellipse cx="287.1" cy="478.1" rx="2.0" ry="1.1" transform="rotate(-15 287.1 478.1)" fill="#ff4000"/><ellipse cx="303.3" cy="477.4" rx="1.1" ry="1.1" fill="#ff4000"/><ellipse cx="314.4" cy="478.1" rx="1.2" ry="1.2" fill="#ff4000"/><ellipse cx="300.1" cy="488.3" rx="1.0" ry="1.0" fill="#ff4000"/><ellipse cx="300.5" cy="496.7" rx="1.8" ry="2.2" transform="rotate(10 300.5 496.7)" fill="#ff4000"/><ellipse cx="296.4" cy="503.2" rx="1.2" ry="1.2" fill="#ff4000"/><ellipse cx="279.6" cy="490.2" rx="1.1" ry="1.1" fill="#ff4000"/><ellipse cx="312.3" cy="423.7" rx="2.2" ry="1.1" transform="rotate(-15 312.3 423.7)" fill="#0000ff"/><ellipse cx="316.9" cy="422.8" rx="0.9" ry="0.9" fill="#0000ff"/><ellipse cx="317.5" cy="427.7" rx="2.2" ry="2.2" fill="#0000ff"/><ellipse cx="311.9" cy="430.5" rx="1.0" ry="1.0" fill="#0000ff"/><ellipse cx="311.0" cy="433.6" rx="1.4" ry="2.2" transform="rotate(20 311.0 433.6)" fill="#0000ff"/><ellipse cx="339.9" cy="428.4" rx="3.0" ry="2.6" transform="rotate(20 339.9 428.4)" fill="#0000ff"/><ellipse cx="340.8" cy="434.3" rx="3.6" ry="1.5" transform="rotate(10 340.8 434.3)" fill="#0000ff"/><ellipse cx="337.7" cy="440.8" rx="2.2" ry="2.3" fill="#0000ff"/><ellipse cx="332.1" cy="445.8" rx="2.6" ry="5.0" transform="rotate(15 332.1 445.8)" fill="#0000ff"/><ellipse cx="330.9" cy="451.7" rx="1.3" ry="1.2" fill="#0000ff"/><ellipse cx="306.4" cy="454.8" rx="2.0" ry="1.2" transform="rotate(-15 306.4 454.8)" fill="#0000ff"/><ellipse cx="321.0" cy="461.6" rx="2.2" ry="2.3" fill="#0000ff"/><ellipse cx="304.8" cy="476.8" rx="1.3" ry="1.1" fill="#0000ff"/><ellipse cx="304.2" cy="479.3" rx="1.1" ry="0.9" fill="#0000ff"/><ellipse cx="316.0" cy="476.8" rx="1.4" ry="2.2" transform="rotate(-20 316.0 476.8)" fill="#0000ff"/><ellipse cx="301.7" cy="488.0" rx="1.1" ry="1.0" fill="#0000ff"/><ellipse cx="300.8" cy="490.2" rx="1.0" ry="0.9" fill="#0000ff"/><ellipse cx="356.7" cy="436.8" rx="1.0" ry="1.1" fill="#0000ff"/><ellipse cx="357.9" cy="440.8" rx="1.1" ry="1.1" fill="#0000ff"/><ellipse cx="362.9" cy="439.2" rx="1.2" ry="1.2" fill="#0000ff"/><ellipse cx="368.2" cy="439.9" rx="1.3" ry="1.0" fill="#0000ff"/><ellipse cx="438.4" cy="422.4" rx="1.1" ry="1.1" fill="#ff4000"/><ellipse cx="439.5" cy="440.7" rx="1.1" ry="1.1" fill="#ff4000"/><ellipse cx="437.4" cy="444.4" rx="1.1" ry="1.1" fill="#ff4000"/><ellipse cx="447.9" cy="442.3" rx="1.1" ry="1.1" fill="#ff4000"/><ellipse cx="408.6" cy="453.5" rx="1.1" ry="1.1" fill="#0000ff"/><ellipse cx="423.9" cy="490.8" rx="1.1" ry="1.1" fill="#0000ff"/><ellipse cx="406.3" cy="486.1" rx="1.1" ry="1.1" fill="#ff4000"/><ellipse cx="454.4" cy="422.4" rx="1.1" ry="1.1" fill="#ff4000"/><ellipse cx="110.8" cy="491.2" rx="1.1" ry="1.1" fill="#0000ff"/><ellipse cx="134.8" cy="489.9" rx="1.1" ry="1.1" fill="#0000ff"/></g>
<g transform="translate(590.60 1181.20)"><path d="M55.40 40.93V548.90M134.24 40.93V548.90M213.08 40.93V548.90M291.92 40.93V548.90M370.76 40.93V548.90M449.60 40.93V548.90M13.00 542.00H486.30M13.00 457.44H486.30M13.00 372.88H486.30M13.00 288.32H486.30M13.00 203.76H486.30M13.00 119.20H486.30" class="gr"/><text x="55.40" y="309.4" text-anchor="middle" class="gl">-50</text><text x="134.24" y="309.4" text-anchor="middle" class="gl">-48</text><text x="213.08" y="309.4" text-anchor="middle" class="gl">-46</text><text x="291.92" y="309.4" text-anchor="middle" class="gl">-44</text><text x="370.76" y="309.4" text-anchor="middle" class="gl">-42</text><text x="449.60" y="309.4" text-anchor="middle" class="gl">-40</text><text x="232.6" y="542.30" text-anchor="middle" class="gl">30</text><text x="232.6" y="457.74" text-anchor="middle" class="gl">32</text><text x="232.6" y="373.18" text-anchor="middle" class="gl">34</text><text x="232.6" y="288.62" text-anchor="middle" class="gl">36</text><text x="232.6" y="204.06" text-anchor="middle" class="gl">38</text><text x="232.6" y="119.50" text-anchor="middle" class="gl">40</text></g>
<g transform="translate(590.60 1181.20)"><rect x="495.3" y="41.4" width="8.9" height="169.2" fill="#ff4000" stroke="#301008" stroke-width="0.8"/><rect x="495.3" y="210.6" width="8.9" height="168.9" fill="#0000ff" stroke="#080830" stroke-width="0.8"/><rect x="495.3" y="379.5" width="8.9" height="169.2" fill="#fff" stroke="#222" stroke-width="0.8"/><path d="M504.2 41.4h2M504.2 210.6h2M504.2 379.5h2" stroke="#222" stroke-width="1"/><text x="507.6" y="49.1" class="cb2">Conv</text><text x="507.6" y="217.6" class="cb2">Strat</text><text x="507.6" y="386.5" class="cb2">N/A</text></g>
<g transform="translate(590.60 1181.20)"><path d="M13 519.6Q245 437.8 477.1 382.7" class="sw"/><path d="M224.4 548.4Q355.3 506.8 486.2 477.3" class="sw"/><path d="M242.8 294.7h13.2M249.4 288.2v13" stroke="#000" stroke-width="4.6" fill="none"/><text x="37.3" y="66.4" class="tt">2A23 rain types</text><text x="438.6" y="522.4" class="lt">(h)</text></g>
<g transform="translate(1181.20 1181.20)"><ellipse cx="311.6" cy="426.3" rx="2.6" ry="1.8" transform="rotate(-15 311.6 426.3)" fill="#a4a4a4"/><ellipse cx="318.4" cy="423.2" rx="1.5" ry="1.0" transform="rotate(-30 318.4 423.2)" fill="#bcbcbc"/><ellipse cx="318.1" cy="429.1" rx="2.2" ry="2.2" fill="#bcbcbc"/><ellipse cx="312.5" cy="433.2" rx="1.6" ry="3.2" transform="rotate(20 312.5 433.2)" fill="#a4a4a4"/><ellipse cx="301.1" cy="442.2" rx="2.2" ry="2.2" fill="#bcbcbc"/><ellipse cx="291.4" cy="448.1" rx="1.3" ry="1.0" transform="rotate(30 291.4 448.1)" fill="#bcbcbc"/><ellipse cx="307.0" cy="455.8" rx="2.0" ry="1.1" transform="rotate(-15 307.0 455.8)" fill="#a4a4a4"/><ellipse cx="281.2" cy="463.0" rx="2.0" ry="1.1" transform="rotate(-10 281.2 463.0)" fill="#bcbcbc"/><ellipse cx="321.6" cy="462.7" rx="2.2" ry="2.2" fill="#bcbcbc"/><ellipse cx="320.0" cy="467.9" rx="2.0" ry="1.0" transform="rotate(-15 320.0 467.9)" fill="#a4a4a4"/><ellipse cx="288.0" cy="479.1" rx="1.9" ry="0.9" transform="rotate(-10 288.0 479.1)" fill="#bcbcbc"/><ellipse cx="305.1" cy="478.8" rx="2.2" ry="2.2" fill="#bcbcbc"/><ellipse cx="316.3" cy="478.5" rx="1.8" ry="2.3" transform="rotate(25 316.3 478.5)" fill="#a4a4a4"/><ellipse cx="301.7" cy="489.7" rx="2.2" ry="2.5" fill="#bcbcbc"/><ellipse cx="301.1" cy="497.8" rx="2.1" ry="2.2" fill="#bcbcbc"/><ellipse cx="297.3" cy="504.3" rx="1.4" ry="1.3" fill="#a4a4a4"/><ellipse cx="280.2" cy="491.2" rx="1.3" ry="1.1" fill="#bcbcbc"/><ellipse cx="342.0" cy="430.1" rx="4.2" ry="2.0" transform="rotate(30 342.0 430.1)" fill="#bcbcbc"/><ellipse cx="341.4" cy="435.0" rx="3.4" ry="1.5" transform="rotate(15 341.4 435.0)" fill="#a4a4a4"/><ellipse cx="338.3" cy="442.2" rx="2.2" ry="2.4" fill="#bcbcbc"/><ellipse cx="333.0" cy="447.4" rx="2.6" ry="4.8" transform="rotate(15 333.0 447.4)" fill="#bcbcbc"/><ellipse cx="331.5" cy="452.1" rx="1.4" ry="1.4" fill="#a4a4a4"/><ellipse cx="356.6" cy="439.3" rx="1.6" ry="2.0" fill="#4a98ff"/><ellipse cx="363.2" cy="439.6" rx="1.5" ry="1.5" fill="#4a98ff"/><ellipse cx="366.0" cy="441.7" rx="1.0" ry="1.0" fill="#4a98ff"/><ellipse cx="369.4" cy="441.1" rx="1.2" ry="1.0" fill="#4a98ff"/><ellipse cx="438.4" cy="423.2" rx="1.3" ry="1.3" fill="#bcbcbc"/><ellipse cx="439.5" cy="441.5" rx="1.8" ry="1.8" fill="#a4a4a4"/><ellipse cx="437.4" cy="445.2" rx="1.0" ry="1.0" fill="#bcbcbc"/><ellipse cx="447.9" cy="443.1" rx="1.0" ry="1.6" transform="rotate(-25 447.9 443.1)" fill="#bcbcbc"/><ellipse cx="408.6" cy="454.3" rx="1.3" ry="1.3" fill="#a4a4a4"/><ellipse cx="423.9" cy="491.6" rx="1.2" ry="2.0" transform="rotate(-20 423.9 491.6)" fill="#bcbcbc"/><ellipse cx="317.6" cy="427.1" rx="1.2" ry="1.1" fill="#50d858"/><ellipse cx="312.0" cy="430.5" rx="1.2" ry="1.1" fill="#50d858"/><ellipse cx="343.3" cy="430.5" rx="1.2" ry="1.1" fill="#50d858"/><ellipse cx="344.3" cy="432.1" rx="1.2" ry="1.1" fill="#50d858"/><ellipse cx="331.5" cy="444.2" rx="1.2" ry="1.1" fill="#50d858"/><ellipse cx="332.8" cy="445.4" rx="1.2" ry="1.1" fill="#50d858"/><ellipse cx="330.9" cy="451.7" rx="1.2" ry="1.1" fill="#50d858"/><ellipse cx="314.8" cy="478.1" rx="1.2" ry="1.1" fill="#50d858"/><ellipse cx="357.9" cy="440.8" rx="1.2" ry="1.1" fill="#50d858"/><ellipse cx="454.4" cy="422.4" rx="0.8" ry="0.8" fill="#d0d0d0"/><ellipse cx="406.3" cy="486.1" rx="0.8" ry="0.8" fill="#d0d0d0"/><ellipse cx="110.8" cy="491.2" rx="0.8" ry="0.8" fill="#d0d0d0"/><ellipse cx="134.8" cy="489.9" rx="0.8" ry="0.8" fill="#d0d0d0"/></g>
<g transform="translate(1181.20 1181.20)"><path d="M55.40 40.93V548.90M134.24 40.93V548.90M213.08 40.93V548.90M291.92 40.93V548.90M370.76 40.93V548.90M449.60 40.93V548.90M13.00 542.00H486.30M13.00 457.44H486.30M13.00 372.88H486.30M13.00 288.32H486.30M13.00 203.76H486.30M13.00 119.20H486.30" class="gr"/><text x="55.40" y="309.4" text-anchor="middle" class="gl">-50</text><text x="134.24" y="309.4" text-anchor="middle" class="gl">-48</text><text x="213.08" y="309.4" text-anchor="middle" class="gl">-46</text><text x="291.92" y="309.4" text-anchor="middle" class="gl">-44</text><text x="370.76" y="309.4" text-anchor="middle" class="gl">-42</text><text x="449.60" y="309.4" text-anchor="middle" class="gl">-40</text><text x="232.6" y="542.30" text-anchor="middle" class="gl">30</text><text x="232.6" y="457.74" text-anchor="middle" class="gl">32</text><text x="232.6" y="373.18" text-anchor="middle" class="gl">34</text><text x="232.6" y="288.62" text-anchor="middle" class="gl">36</text><text x="232.6" y="204.06" text-anchor="middle" class="gl">38</text><text x="232.6" y="119.50" text-anchor="middle" class="gl">40</text></g>
<g transform="translate(1181.20 1181.20)"><rect x="495" y="531.47" width="8.9" height="8.76" fill="#f8f8f8"/><rect x="495" y="523.01" width="8.9" height="8.76" fill="#f0f0f0"/><rect x="495" y="514.55" width="8.9" height="8.76" fill="#e9e9e9"/><rect x="495" y="506.08" width="8.9" height="8.76" fill="#e1e1e1"/><rect x="495" y="497.62" width="8.9" height="8.76" fill="#dadada"/><rect x="495" y="489.16" width="8.9" height="8.76" fill="#d2d2d2"/><rect x="495" y="480.69" width="8.9" height="8.76" fill="#cbcbcb"/><rect x="495" y="472.23" width="8.9" height="8.76" fill="#c3c3c3"/><rect x="495" y="463.77" width="8.9" height="8.76" fill="#bcbcbc"/><rect x="495" y="455.30" width="8.9" height="8.76" fill="#b4b4b4"/><rect x="495" y="446.84" width="8.9" height="8.76" fill="#adadad"/><rect x="495" y="438.38" width="8.9" height="8.76" fill="#a5a5a5"/><rect x="495" y="429.91" width="8.9" height="8.76" fill="#9e9e9e"/><rect x="495" y="421.45" width="8.9" height="8.76" fill="#969696"/><rect x="495" y="412.99" width="8.9" height="8.76" fill="#80e280"/><rect x="495" y="404.52" width="8.9" height="8.76" fill="#7ad87a"/><rect x="495" y="396.06" width="8.9" height="8.76" fill="#74ce74"/><rect x="495" y="387.60" width="8.9" height="8.76" fill="#6ec46e"/><rect x="495" y="379.13" width="8.9" height="8.76" fill="#68ba68"/><rect x="495" y="370.67" width="8.9" height="8.76" fill="#d0d6ff"/><rect x="495" y="362.21" width="8.9" height="8.76" fill="#b8cdff"/><rect x="495" y="353.74" width="8.9" height="8.76" fill="#a0c4ff"/><rect x="495" y="345.28" width="8.9" height="8.76" fill="#78baff"/><rect x="495" y="336.82" width="8.9" height="8.76" fill="#50b0ff"/><rect x="495" y="328.35" width="8.9" height="8.76" fill="#4890ff"/><rect x="495" y="319.89" width="8.9" height="8.76" fill="#4070ff"/><rect x="495" y="311.43" width="8.9" height="8.76" fill="#3850ff"/><rect x="495" y="302.96" width="8.9" height="8.76" fill="#3030ff"/><rect x="495" y="294.50" width="8.9" height="8.76" fill="#1818ff"/><rect x="495" y="286.04" width="8.9" height="8.76" fill="#0000ff"/><rect x="495" y="277.57" width="8.9" height="8.76" fill="#0000f0"/><rect x="495" y="269.11" width="8.9" height="8.76" fill="#0000e0"/><rect x="495" y="260.65" width="8.9" height="8.76" fill="#0000d4"/><rect x="495" y="252.18" width="8.9" height="8.76" fill="#0000c8"/><rect x="495" y="243.72" width="8.9" height="8.76" fill="#ffff00"/><rect x="495" y="235.26" width="8.9" height="8.76" fill="#fff300"/><rect x="495" y="226.79" width="8.9" height="8.76" fill="#ffe800"/><rect x="495" y="218.33" width="8.9" height="8.76" fill="#ffdc00"/><rect x="495" y="209.87" width="8.9" height="8.76" fill="#ffd000"/><rect x="495" y="201.40" width="8.9" height="8.76" fill="#ff9600"/><rect x="495" y="192.94" width="8.9" height="8.76" fill="#ff8e00"/><rect x="495" y="184.48" width="8.9" height="8.76" fill="#ff8600"/><rect x="495" y="176.01" width="8.9" height="8.76" fill="#ff7e00"/><rect x="495" y="167.55" width="8.9" height="8.76" fill="#ff7600"/><rect x="495" y="159.09" width="8.9" height="8.76" fill="#ff4000"/><rect x="495" y="150.62" width="8.9" height="8.76" fill="#ff3600"/><rect x="495" y="142.16" width="8.9" height="8.76" fill="#ff2c00"/><rect x="495" y="133.70" width="8.9" height="8.76" fill="#ff2200"/><rect x="495" y="125.23" width="8.9" height="8.76" fill="#ff1800"/><rect x="495" y="116.77" width="8.9" height="8.76" fill="#cc0000"/><rect x="495" y="108.31" width="8.9" height="8.76" fill="#c20400"/><rect x="495" y="99.84" width="8.9" height="8.76" fill="#b80800"/><rect x="495" y="91.38" width="8.9" height="8.76" fill="#ae0c00"/><rect x="495" y="82.92" width="8.9" height="8.76" fill="#a41000"/><rect x="495" y="74.45" width="8.9" height="8.76" fill="#601008"/><rect x="495" y="65.99" width="8.9" height="8.76" fill="#5d120c"/><rect x="495" y="57.53" width="8.9" height="8.76" fill="#5a1511"/><rect x="495" y="49.06" width="8.9" height="8.76" fill="#571816"/><rect x="495" y="40.60" width="8.9" height="8.76" fill="#541a1a"/><path d="M503.9 548.40h2" stroke="#222" stroke-width="1"/><text x="533.6" y="557.00" text-anchor="middle" class="cb">0.0</text><path d="M503.9 497.62h2" stroke="#222" stroke-width="1"/><text x="533.6" y="506.22" text-anchor="middle" class="cb">2.0</text><path d="M503.9 446.84h2" stroke="#222" stroke-width="1"/><text x="533.6" y="455.44" text-anchor="middle" class="cb">4.0</text><path d="M503.9 396.06h2" stroke="#222" stroke-width="1"/><text x="533.6" y="404.66" text-anchor="middle" class="cb">6.0</text><path d="M503.9 345.28h2" stroke="#222" stroke-width="1"/><text x="533.6" y="353.88" text-anchor="middle" class="cb">8.0</text><path d="M503.9 294.50h2" stroke="#222" stroke-width="1"/><text x="533.6" y="303.10" text-anchor="middle" class="cb">10.0</text><path d="M503.9 243.72h2" stroke="#222" stroke-width="1"/><text x="533.6" y="252.32" text-anchor="middle" class="cb">12.0</text><path d="M503.9 192.94h2" stroke="#222" stroke-width="1"/><text x="533.6" y="201.54" text-anchor="middle" class="cb">14.0</text><path d="M503.9 142.16h2" stroke="#222" stroke-width="1"/><text x="533.6" y="150.76" text-anchor="middle" class="cb">16.0</text><path d="M503.9 91.38h2" stroke="#222" stroke-width="1"/><text x="533.6" y="99.98" text-anchor="middle" class="cb">18.0</text></g>
<g transform="translate(1181.20 1181.20)"><path d="M13 519.6Q245 437.8 477.1 382.7" class="sw"/><path d="M224.4 548.4Q355.3 506.8 486.2 477.3" class="sw"/><path d="M242.8 294.7h13.2M249.4 288.2v13" stroke="#000" stroke-width="4.6" fill="none"/><text x="37.3" y="66.4" class="tt">2A23 storm height (km)</text><text x="438.6" y="522.4" class="lt">(i)</text></g>
<text x="136.8" y="34.8" class="st">38617 2004-8-24 14:17:38 UTC</text>
<text x="758" y="34.8" class="st">ATL 200404 DANIELLE</text>
</svg>
</body></html>
